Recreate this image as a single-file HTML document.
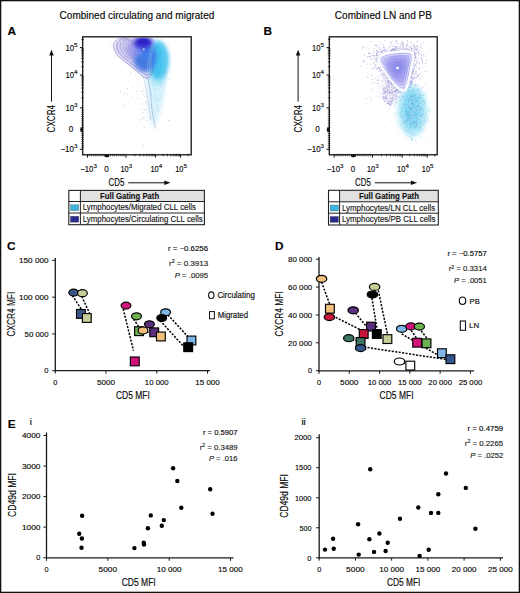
<!DOCTYPE html>
<html><head><meta charset="utf-8"><style>
html,body{margin:0;padding:0;background:#fff;}
svg{display:block;font-family:"Liberation Sans", sans-serif;}
text{stroke:#231f20;stroke-width:0.15px;}
</style></head><body>
<svg width="520" height="593" viewBox="0 0 520 593">
<rect x="0" y="0" width="520" height="593" fill="#fff"/>
<text x="59.60" y="18.80" font-size="10.2" textLength="154.70" lengthAdjust="spacingAndGlyphs">Combined circulating and migrated</text>
<text x="334.80" y="18.60" font-size="10.2" textLength="97.10" lengthAdjust="spacingAndGlyphs">Combined LN and PB</text>
<text x="7.50" y="35.00" font-size="11.8" font-weight="bold" fill="#000">A</text>
<text x="263.60" y="35.00" font-size="11.8" font-weight="bold" fill="#000">B</text>
<text x="6.90" y="250.40" font-size="11.8" font-weight="bold" fill="#000">C</text>
<text x="275.00" y="250.40" font-size="11.8" font-weight="bold" fill="#000">D</text>
<text x="7.70" y="428.20" font-size="11.8" font-weight="bold" fill="#000">E</text>
<text x="29.70" y="425.40" font-size="8.5" textLength="2.20" lengthAdjust="spacingAndGlyphs">i</text>
<text x="301.40" y="425.40" font-size="8.5" textLength="4.40" lengthAdjust="spacingAndGlyphs">ii</text>
<defs>
<clipPath id="clipA"><rect x="83.4" y="37.5" width="107.1" height="116.6"/></clipPath>
<clipPath id="clipB"><rect x="330.0" y="37.5" width="106.5" height="116.6"/></clipPath>
<filter id="b05" x="-50%" y="-50%" width="200%" height="200%"><feGaussianBlur stdDeviation="0.6"/></filter>
<filter id="b1" x="-50%" y="-50%" width="200%" height="200%"><feGaussianBlur stdDeviation="1.2"/></filter>
<filter id="b2" x="-50%" y="-50%" width="200%" height="200%"><feGaussianBlur stdDeviation="2.2"/></filter>
<filter id="b3" x="-50%" y="-50%" width="200%" height="200%"><feGaussianBlur stdDeviation="3.5"/></filter>
<radialGradient id="gTri" cx="0.55" cy="0.42" r="0.6">
 <stop offset="0" stop-color="#8482e8"/><stop offset="0.5" stop-color="#a3a1ef"/><stop offset="1" stop-color="#d2d2f7"/>
</radialGradient>
</defs>
<g clip-path="url(#clipA)">
<circle cx="142.7" cy="109.2" r="0.63" fill="#9a9ab4" opacity="0.28"/>
<circle cx="136.6" cy="96.2" r="0.42" fill="#9a9ab4" opacity="0.43"/>
<circle cx="154.3" cy="104.5" r="0.42" fill="#9a9ab4" opacity="0.28"/>
<circle cx="130.0" cy="115.4" r="0.44" fill="#9a9ab4" opacity="0.33"/>
<circle cx="137.0" cy="91.6" r="0.74" fill="#9a9ab4" opacity="0.27"/>
<circle cx="149.7" cy="88.4" r="0.45" fill="#9a9ab4" opacity="0.29"/>
<circle cx="139.0" cy="130.9" r="0.46" fill="#9a9ab4" opacity="0.45"/>
<circle cx="139.4" cy="86.7" r="0.59" fill="#9a9ab4" opacity="0.27"/>
<circle cx="150.7" cy="104.5" r="0.64" fill="#9a9ab4" opacity="0.40"/>
<circle cx="140.3" cy="122.0" r="0.56" fill="#9a9ab4" opacity="0.35"/>
<circle cx="148.8" cy="73.2" r="0.49" fill="#9a9ab4" opacity="0.45"/>
<circle cx="126.9" cy="94.2" r="0.66" fill="#9a9ab4" opacity="0.35"/>
<circle cx="149.5" cy="98.9" r="0.55" fill="#9a9ab4" opacity="0.51"/>
<circle cx="151.0" cy="117.0" r="0.41" fill="#9a9ab4" opacity="0.48"/>
<circle cx="146.1" cy="76.6" r="0.71" fill="#9a9ab4" opacity="0.36"/>
<circle cx="140.9" cy="77.2" r="0.60" fill="#9a9ab4" opacity="0.41"/>
<circle cx="156.6" cy="63.4" r="0.57" fill="#9a9ab4" opacity="0.48"/>
<circle cx="158.0" cy="110.4" r="0.63" fill="#9a9ab4" opacity="0.60"/>
<circle cx="148.2" cy="86.7" r="0.54" fill="#9a9ab4" opacity="0.48"/>
<circle cx="154.9" cy="102.8" r="0.46" fill="#9a9ab4" opacity="0.29"/>
<circle cx="159.3" cy="111.1" r="0.45" fill="#9a9ab4" opacity="0.34"/>
<circle cx="130.9" cy="123.1" r="0.43" fill="#9a9ab4" opacity="0.41"/>
<circle cx="127.2" cy="88.6" r="0.69" fill="#9a9ab4" opacity="0.55"/>
<circle cx="143.3" cy="118.4" r="0.53" fill="#9a9ab4" opacity="0.56"/>
<circle cx="150.0" cy="97.3" r="0.46" fill="#9a9ab4" opacity="0.33"/>
<circle cx="146.1" cy="120.6" r="0.61" fill="#9a9ab4" opacity="0.34"/>
<circle cx="154.4" cy="100.5" r="0.53" fill="#9a9ab4" opacity="0.45"/>
<circle cx="158.2" cy="92.0" r="0.58" fill="#9a9ab4" opacity="0.47"/>
<circle cx="143.7" cy="94.6" r="0.71" fill="#9a9ab4" opacity="0.52"/>
<circle cx="156.3" cy="77.2" r="0.54" fill="#9a9ab4" opacity="0.39"/>
<circle cx="155.2" cy="115.5" r="0.42" fill="#9a9ab4" opacity="0.27"/>
<circle cx="146.4" cy="110.4" r="0.52" fill="#9a9ab4" opacity="0.27"/>
<circle cx="150.2" cy="100.0" r="0.44" fill="#9a9ab4" opacity="0.38"/>
<circle cx="163.1" cy="105.8" r="0.61" fill="#9a9ab4" opacity="0.30"/>
<circle cx="144.9" cy="116.6" r="0.53" fill="#9a9ab4" opacity="0.29"/>
<circle cx="161.5" cy="53.8" r="0.56" fill="#9a9ab4" opacity="0.42"/>
<circle cx="148.6" cy="104.3" r="0.52" fill="#9a9ab4" opacity="0.34"/>
<circle cx="147.5" cy="90.6" r="0.41" fill="#9a9ab4" opacity="0.58"/>
<circle cx="140.0" cy="98.2" r="0.59" fill="#9a9ab4" opacity="0.26"/>
<circle cx="120.4" cy="91.2" r="0.70" fill="#9a9ab4" opacity="0.49"/>
<circle cx="144.4" cy="117.2" r="0.46" fill="#9a9ab4" opacity="0.52"/>
<circle cx="129.7" cy="93.6" r="0.52" fill="#9a9ab4" opacity="0.33"/>
<circle cx="154.8" cy="51.7" r="0.70" fill="#9a9ab4" opacity="0.53"/>
<circle cx="151.1" cy="73.1" r="0.48" fill="#9a9ab4" opacity="0.43"/>
<circle cx="143.7" cy="103.4" r="0.41" fill="#9a9ab4" opacity="0.35"/>
<circle cx="144.2" cy="127.6" r="0.73" fill="#9a9ab4" opacity="0.41"/>
<circle cx="169.7" cy="79.4" r="0.73" fill="#9a9ab4" opacity="0.38"/>
<circle cx="146.2" cy="112.7" r="0.47" fill="#9a9ab4" opacity="0.32"/>
<circle cx="131.3" cy="72.8" r="0.69" fill="#9a9ab4" opacity="0.42"/>
<circle cx="135.8" cy="73.5" r="0.43" fill="#9a9ab4" opacity="0.48"/>
<circle cx="158.3" cy="83.1" r="0.66" fill="#9a9ab4" opacity="0.42"/>
<circle cx="151.9" cy="128.6" r="0.52" fill="#9a9ab4" opacity="0.53"/>
<circle cx="153.9" cy="96.8" r="0.54" fill="#9a9ab4" opacity="0.58"/>
<circle cx="144.1" cy="89.1" r="0.44" fill="#9a9ab4" opacity="0.30"/>
<circle cx="158.5" cy="81.6" r="0.45" fill="#9a9ab4" opacity="0.54"/>
<circle cx="158.1" cy="96.7" r="0.52" fill="#9a9ab4" opacity="0.44"/>
<circle cx="146.0" cy="102.2" r="0.74" fill="#9a9ab4" opacity="0.48"/>
<circle cx="124.3" cy="93.0" r="0.55" fill="#9a9ab4" opacity="0.56"/>
<circle cx="147.9" cy="89.0" r="0.49" fill="#9a9ab4" opacity="0.35"/>
<circle cx="145.7" cy="123.9" r="0.49" fill="#9a9ab4" opacity="0.40"/>
<circle cx="158.4" cy="129.0" r="0.52" fill="#9a9ab4" opacity="0.41"/>
<circle cx="128.1" cy="80.5" r="0.55" fill="#9a9ab4" opacity="0.57"/>
<circle cx="133.9" cy="99.8" r="0.58" fill="#9a9ab4" opacity="0.26"/>
<circle cx="139.7" cy="104.2" r="0.40" fill="#9a9ab4" opacity="0.53"/>
<circle cx="149.8" cy="118.0" r="0.65" fill="#9a9ab4" opacity="0.44"/>
<circle cx="140.0" cy="119.3" r="0.59" fill="#9a9ab4" opacity="0.52"/>
<circle cx="154.1" cy="114.3" r="0.49" fill="#9a9ab4" opacity="0.35"/>
<circle cx="146.5" cy="78.8" r="0.60" fill="#9a9ab4" opacity="0.52"/>
<circle cx="153.3" cy="89.8" r="0.61" fill="#9a9ab4" opacity="0.43"/>
<circle cx="131.2" cy="97.9" r="0.56" fill="#9a9ab4" opacity="0.44"/>
<circle cx="123.8" cy="105.9" r="0.64" fill="#9a9ab4" opacity="0.56"/>
<circle cx="151.5" cy="95.0" r="0.60" fill="#9a9ab4" opacity="0.58"/>
<circle cx="147.6" cy="91.7" r="0.44" fill="#9a9ab4" opacity="0.40"/>
<circle cx="151.0" cy="105.9" r="0.43" fill="#9a9ab4" opacity="0.48"/>
<circle cx="149.1" cy="62.5" r="0.45" fill="#9a9ab4" opacity="0.50"/>
<circle cx="142.3" cy="91.5" r="0.71" fill="#9a9ab4" opacity="0.59"/>
<circle cx="149.2" cy="143.6" r="0.54" fill="#9a9ab4" opacity="0.42"/>
<circle cx="162.0" cy="97.8" r="0.46" fill="#9a9ab4" opacity="0.40"/>
<circle cx="136.8" cy="98.4" r="0.47" fill="#9a9ab4" opacity="0.36"/>
<circle cx="144.7" cy="96.5" r="0.59" fill="#9a9ab4" opacity="0.40"/>
<circle cx="153.0" cy="101.8" r="0.62" fill="#9a9ab4" opacity="0.43"/>
<circle cx="169.0" cy="120.5" r="0.68" fill="#9a9ab4" opacity="0.59"/>
<circle cx="150.6" cy="108.7" r="0.41" fill="#9a9ab4" opacity="0.52"/>
<circle cx="144.4" cy="109.4" r="0.55" fill="#9a9ab4" opacity="0.57"/>
<circle cx="147.9" cy="87.4" r="0.45" fill="#9a9ab4" opacity="0.57"/>
<circle cx="132.4" cy="88.0" r="0.43" fill="#9a9ab4" opacity="0.27"/>
<circle cx="141.4" cy="82.5" r="0.43" fill="#9a9ab4" opacity="0.58"/>
<circle cx="134.3" cy="75.8" r="0.43" fill="#9a9ab4" opacity="0.55"/>
<circle cx="161.4" cy="114.6" r="0.56" fill="#9a9ab4" opacity="0.37"/>
<circle cx="125.6" cy="86.5" r="0.49" fill="#9a9ab4" opacity="0.30"/>
<circle cx="138.5" cy="97.8" r="0.44" fill="#9a9ab4" opacity="0.31"/>
<circle cx="150.7" cy="103.8" r="0.51" fill="#9a9ab4" opacity="0.36"/>
<circle cx="145.4" cy="85.1" r="0.58" fill="#9a9ab4" opacity="0.31"/>
<circle cx="144.0" cy="102.8" r="0.49" fill="#9a9ab4" opacity="0.26"/>
<circle cx="143.8" cy="77.3" r="0.47" fill="#9a9ab4" opacity="0.42"/>
<circle cx="148.9" cy="96.6" r="0.69" fill="#9a9ab4" opacity="0.40"/>
<circle cx="127.9" cy="101.1" r="0.54" fill="#9a9ab4" opacity="0.43"/>
<circle cx="135.2" cy="52.7" r="0.52" fill="#9a9ab4" opacity="0.54"/>
<circle cx="141.6" cy="75.4" r="0.54" fill="#9a9ab4" opacity="0.37"/>
<circle cx="149.5" cy="103.2" r="0.42" fill="#9a9ab4" opacity="0.51"/>
<circle cx="144.8" cy="110.7" r="0.43" fill="#9a9ab4" opacity="0.54"/>
<circle cx="154.2" cy="80.5" r="0.50" fill="#9a9ab4" opacity="0.33"/>
<circle cx="142.3" cy="119.2" r="0.46" fill="#9a9ab4" opacity="0.41"/>
<circle cx="143.1" cy="145.8" r="0.74" fill="#9a9ab4" opacity="0.44"/>
<circle cx="145.8" cy="146.7" r="0.51" fill="#9a9ab4" opacity="0.37"/>
<circle cx="153.8" cy="100.1" r="0.57" fill="#9a9ab4" opacity="0.43"/>
<circle cx="148.2" cy="120.3" r="0.40" fill="#9a9ab4" opacity="0.34"/>
<circle cx="152.7" cy="109.7" r="0.41" fill="#9a9ab4" opacity="0.26"/>
<circle cx="142.8" cy="112.4" r="0.60" fill="#9a9ab4" opacity="0.44"/>
<circle cx="118.5" cy="53.2" r="0.5" fill="#9a9ab4" opacity="0.41"/>
<circle cx="120.3" cy="47.8" r="0.5" fill="#9a9ab4" opacity="0.30"/>
<circle cx="121.8" cy="43.0" r="0.5" fill="#9a9ab4" opacity="0.42"/>
<circle cx="117.0" cy="40.9" r="0.5" fill="#9a9ab4" opacity="0.45"/>
<circle cx="120.5" cy="52.5" r="0.5" fill="#9a9ab4" opacity="0.42"/>
<circle cx="119.4" cy="42.8" r="0.5" fill="#9a9ab4" opacity="0.36"/>
<circle cx="115.1" cy="56.7" r="0.5" fill="#9a9ab4" opacity="0.44"/>
<circle cx="119.6" cy="51.7" r="0.5" fill="#9a9ab4" opacity="0.47"/>
<circle cx="117.6" cy="53.9" r="0.5" fill="#9a9ab4" opacity="0.27"/>
<circle cx="108.4" cy="42.7" r="0.5" fill="#9a9ab4" opacity="0.31"/>
<circle cx="109.5" cy="56.7" r="0.5" fill="#9a9ab4" opacity="0.37"/>
<circle cx="116.8" cy="52.5" r="0.5" fill="#9a9ab4" opacity="0.40"/>
<circle cx="114.9" cy="40.1" r="0.5" fill="#9a9ab4" opacity="0.44"/>
<circle cx="118.5" cy="50.1" r="0.5" fill="#9a9ab4" opacity="0.36"/>
<circle cx="117.2" cy="41.3" r="0.5" fill="#9a9ab4" opacity="0.42"/>
<circle cx="111.5" cy="41.5" r="0.5" fill="#9a9ab4" opacity="0.28"/>
<circle cx="118.2" cy="44.1" r="0.5" fill="#9a9ab4" opacity="0.42"/>
<circle cx="121.7" cy="49.9" r="0.5" fill="#9a9ab4" opacity="0.31"/>
<circle cx="114.7" cy="53.7" r="0.5" fill="#9a9ab4" opacity="0.43"/>
<circle cx="116.6" cy="52.9" r="0.5" fill="#9a9ab4" opacity="0.22"/>
<circle cx="110.1" cy="45.1" r="0.5" fill="#9a9ab4" opacity="0.42"/>
<circle cx="112.3" cy="51.4" r="0.5" fill="#9a9ab4" opacity="0.20"/>
<circle cx="108.8" cy="45.4" r="0.5" fill="#9a9ab4" opacity="0.40"/>
<circle cx="117.7" cy="53.5" r="0.5" fill="#9a9ab4" opacity="0.29"/>
<circle cx="115.2" cy="49.3" r="0.5" fill="#9a9ab4" opacity="0.34"/>
<path d="M146,70 C150,70 162,72 164,80 C166,92 162,108 157,122 C155,128 151,128 150,120 C148,105 146,90 146,70 Z" fill="#d8f2fb" filter="url(#b2)"/>
<ellipse cx="158" cy="66" rx="9" ry="20" fill="#a6e3f7" filter="url(#b2)"/>
<path d="M125,37 C118,39 113,44 114.6,49 C117,56 128,64 136.5,70.6 C141,74 146,76 148,80 C150,76 153,70 155,62 C157,52 156,42 152,37 Z" fill="#d6d4f6" filter="url(#b1)"/>
<ellipse cx="158" cy="60" rx="10.5" ry="19" fill="#45c3f0" filter="url(#b2)"/>
<ellipse cx="145" cy="57" rx="11.5" ry="14.5" fill="#3f7ee8" filter="url(#b2)"/>
<ellipse cx="134" cy="50" rx="8" ry="8" fill="#9a96ea" opacity="0.7" filter="url(#b2)"/>
<ellipse cx="143" cy="43" rx="10" ry="6" fill="#3a34d0" filter="url(#b2)"/>
<ellipse cx="143" cy="41.5" rx="6" ry="3" fill="#2c22c4" filter="url(#b1)"/>
<circle cx="143.8" cy="49.3" r="1.0" fill="#dfeeff" opacity="0.8" filter="url(#b05)"/>
<path d="M125.5,37.0 C124.2,37.3 120.0,37.8 118.0,39.0 C116.0,40.2 114.0,42.7 113.5,44.5 C113.0,46.3 114.0,48.1 114.8,50.0 C115.5,51.9 115.8,53.7 118.0,56.0 C120.2,58.3 124.8,61.4 128.0,64.0 C131.2,66.6 134.5,69.4 137.0,71.5 C139.5,73.6 141.2,75.4 143.0,76.5 C144.8,77.6 146.1,78.2 147.5,78.0 C148.9,77.8 150.5,76.5 151.5,75.0 C152.5,73.5 153.2,70.0 153.5,69.0" fill="none" stroke="#6a60b2" stroke-width="0.6" opacity="0.85"/>
<path d="M127.6,38.0 C126.5,38.3 122.6,38.7 120.8,39.8 C119.0,40.9 117.3,43.1 116.8,44.8 C116.3,46.4 117.3,48.0 118.0,49.7 C118.6,51.4 118.9,53.0 120.8,55.1 C122.8,57.2 127.0,60.0 129.8,62.3 C132.7,64.6 135.7,67.2 137.9,69.0 C140.2,70.9 141.8,72.6 143.3,73.5 C144.9,74.5 146.1,75.1 147.4,74.9 C148.7,74.7 150.1,73.6 151.0,72.2 C151.9,70.8 152.5,67.7 152.8,66.8" fill="none" stroke="#6a60b2" stroke-width="0.6" opacity="0.78"/>
<path d="M129.7,39.0 C128.7,39.3 125.3,39.6 123.7,40.6 C122.1,41.6 120.5,43.5 120.1,45.0 C119.7,46.5 120.5,47.9 121.1,49.4 C121.7,50.9 121.9,52.3 123.7,54.2 C125.5,56.1 129.2,58.5 131.7,60.6 C134.2,62.7 136.9,64.9 138.9,66.6 C140.9,68.3 142.3,69.7 143.7,70.6 C145.1,71.5 146.2,72.0 147.3,71.8 C148.4,71.6 149.7,70.6 150.5,69.4 C151.3,68.2 151.8,65.4 152.1,64.6" fill="none" stroke="#6a60b2" stroke-width="0.6" opacity="0.71"/>
<path d="M131.6,39.9 C130.7,40.1 127.7,40.4 126.3,41.3 C124.8,42.2 123.4,43.9 123.1,45.2 C122.7,46.5 123.5,47.8 124.0,49.1 C124.5,50.5 124.7,51.7 126.3,53.4 C127.8,55.0 131.1,57.2 133.4,59.1 C135.6,60.9 138.0,62.9 139.8,64.4 C141.5,65.9 142.8,67.2 144.0,67.9 C145.3,68.7 146.2,69.2 147.2,69.0 C148.2,68.8 149.3,67.9 150.1,66.9 C150.8,65.8 151.2,63.3 151.5,62.6" fill="none" stroke="#6a60b2" stroke-width="0.6" opacity="0.64"/>
<path d="M133.3,40.7 C132.5,40.9 129.8,41.2 128.5,42.0 C127.3,42.7 126.0,44.3 125.7,45.4 C125.4,46.6 126.1,47.7 126.5,48.9 C127.0,50.1 127.2,51.2 128.5,52.7 C129.9,54.1 132.8,56.1 134.8,57.7 C136.8,59.3 138.9,61.1 140.5,62.4 C142.1,63.7 143.2,64.9 144.3,65.6 C145.4,66.3 146.2,66.7 147.1,66.5 C148.0,66.4 149.0,65.6 149.7,64.6 C150.3,63.7 150.7,61.5 150.9,60.9" fill="none" stroke="#6a60b2" stroke-width="0.6" opacity="0.57"/>
<path d="M134.9,41.5 C134.3,41.7 131.9,41.9 130.8,42.6 C129.7,43.3 128.6,44.6 128.3,45.6 C128.1,46.6 128.7,47.6 129.1,48.6 C129.5,49.7 129.6,50.7 130.8,52.0 C132.0,53.2 134.6,54.9 136.3,56.4 C138.1,57.8 139.9,59.3 141.3,60.5 C142.7,61.6 143.6,62.6 144.6,63.2 C145.5,63.8 146.3,64.2 147.1,64.0 C147.8,63.9 148.7,63.2 149.2,62.4 C149.8,61.6 150.2,59.7 150.3,59.1" fill="none" stroke="#6a60b2" stroke-width="0.6" opacity="0.50"/>
<path d="M136.6,42.3 C136.0,42.5 134.0,42.7 133.1,43.2 C132.2,43.8 131.2,45.0 131.0,45.8 C130.7,46.7 131.2,47.5 131.6,48.4 C132.0,49.3 132.1,50.1 133.1,51.2 C134.1,52.3 136.3,53.8 137.8,55.0 C139.3,56.2 140.9,57.5 142.0,58.5 C143.2,59.5 144.0,60.4 144.9,60.9 C145.7,61.4 146.3,61.7 147.0,61.6 C147.6,61.5 148.4,60.9 148.8,60.2 C149.3,59.5 149.6,57.8 149.8,57.3" fill="none" stroke="#6a60b2" stroke-width="0.6" opacity="0.43"/>
<path d="M147.5,78 C150,84 150.5,92 151,100 C151.5,110 153.5,120 155.5,128" fill="none" stroke="#7a74b8" stroke-width="0.55" opacity="0.7"/>
<path d="M143,76.5 C145,82 146.5,90 147.5,98 C148.5,106 150,114 151,120" fill="none" stroke="#8a86c0" stroke-width="0.5" opacity="0.55"/>
<path d="M151.5,75 C154,82 155,90 156,98 C157,104 158,108 158.5,112" fill="none" stroke="#9fd8ee" stroke-width="0.5" opacity="0.7"/>
<ellipse cx="157" cy="70" rx="9.5" ry="30" fill="none" stroke="#8fd8f0" stroke-width="0.5" opacity="0.7"/>
<ellipse cx="157" cy="66" rx="7.5" ry="24" fill="none" stroke="#8fd8f0" stroke-width="0.5" opacity="0.7"/>
<ellipse cx="157" cy="62" rx="6" ry="18" fill="none" stroke="#8fd8f0" stroke-width="0.5" opacity="0.7"/>
</g>
<g clip-path="url(#clipB)">
<path d="M373.6,55.5 L394.4,48.4 L415.2,48.4 L412.6,72.5 L408.1,99.1 L394.4,90.7 Z" fill="#eeedfa" filter="url(#b3)"/>
<ellipse cx="389" cy="92" rx="8" ry="13" fill="#efeefa" transform="rotate(-25 389 92)" filter="url(#b3)"/>
<rect x="409.5" y="69.7" width="0.85" height="0.85" fill="#6e64bc" opacity="0.49"/>
<rect x="390.2" y="79.7" width="0.85" height="0.85" fill="#6e64bc" opacity="0.60"/>
<rect x="402.0" y="90.3" width="0.85" height="0.85" fill="#6e64bc" opacity="0.28"/>
<rect x="387.8" y="89.1" width="0.85" height="0.85" fill="#6e64bc" opacity="0.61"/>
<rect x="408.8" y="76.4" width="0.85" height="0.85" fill="#6e64bc" opacity="0.69"/>
<rect x="413.6" y="95.2" width="0.85" height="0.85" fill="#6e64bc" opacity="0.27"/>
<rect x="376.3" y="44.7" width="0.85" height="0.85" fill="#6e64bc" opacity="0.50"/>
<rect x="376.3" y="57.7" width="0.85" height="0.85" fill="#6e64bc" opacity="0.65"/>
<rect x="412.5" y="79.5" width="0.85" height="0.85" fill="#6e64bc" opacity="0.30"/>
<rect x="384.5" y="76.3" width="0.85" height="0.85" fill="#6e64bc" opacity="0.38"/>
<rect x="411.9" y="56.0" width="0.85" height="0.85" fill="#6e64bc" opacity="0.63"/>
<rect x="414.7" y="53.2" width="0.85" height="0.85" fill="#6e64bc" opacity="0.43"/>
<rect x="389.2" y="76.7" width="0.85" height="0.85" fill="#6e64bc" opacity="0.54"/>
<rect x="395.0" y="85.8" width="0.85" height="0.85" fill="#6e64bc" opacity="0.64"/>
<rect x="410.5" y="71.8" width="0.85" height="0.85" fill="#6e64bc" opacity="0.58"/>
<rect x="380.4" y="61.6" width="0.85" height="0.85" fill="#6e64bc" opacity="0.65"/>
<rect x="411.7" y="91.5" width="0.85" height="0.85" fill="#6e64bc" opacity="0.63"/>
<rect x="366.9" y="56.7" width="0.85" height="0.85" fill="#6e64bc" opacity="0.40"/>
<rect x="382.8" y="50.2" width="0.85" height="0.85" fill="#6e64bc" opacity="0.27"/>
<rect x="406.0" y="93.0" width="0.85" height="0.85" fill="#6e64bc" opacity="0.52"/>
<rect x="373.6" y="48.1" width="0.85" height="0.85" fill="#6e64bc" opacity="0.63"/>
<rect x="416.2" y="84.5" width="0.85" height="0.85" fill="#6e64bc" opacity="0.44"/>
<rect x="414.1" y="52.3" width="0.85" height="0.85" fill="#6e64bc" opacity="0.34"/>
<rect x="410.3" y="110.4" width="0.85" height="0.85" fill="#6e64bc" opacity="0.47"/>
<rect x="392.4" y="97.4" width="0.85" height="0.85" fill="#6e64bc" opacity="0.47"/>
<rect x="403.7" y="93.4" width="0.85" height="0.85" fill="#6e64bc" opacity="0.45"/>
<rect x="411.0" y="81.7" width="0.85" height="0.85" fill="#6e64bc" opacity="0.46"/>
<rect x="373.6" y="68.0" width="0.85" height="0.85" fill="#6e64bc" opacity="0.43"/>
<rect x="412.9" y="68.2" width="0.85" height="0.85" fill="#6e64bc" opacity="0.31"/>
<rect x="391.0" y="80.5" width="0.85" height="0.85" fill="#6e64bc" opacity="0.68"/>
<rect x="388.1" y="53.4" width="0.85" height="0.85" fill="#6e64bc" opacity="0.57"/>
<rect x="378.6" y="57.6" width="0.85" height="0.85" fill="#6e64bc" opacity="0.47"/>
<rect x="401.8" y="41.1" width="0.85" height="0.85" fill="#6e64bc" opacity="0.68"/>
<rect x="411.2" y="64.9" width="0.85" height="0.85" fill="#6e64bc" opacity="0.66"/>
<rect x="395.6" y="102.1" width="0.85" height="0.85" fill="#6e64bc" opacity="0.63"/>
<rect x="394.7" y="95.5" width="0.85" height="0.85" fill="#6e64bc" opacity="0.45"/>
<rect x="412.3" y="63.8" width="0.85" height="0.85" fill="#6e64bc" opacity="0.38"/>
<rect x="418.4" y="79.3" width="0.85" height="0.85" fill="#6e64bc" opacity="0.39"/>
<rect x="410.3" y="47.3" width="0.85" height="0.85" fill="#6e64bc" opacity="0.27"/>
<rect x="420.6" y="72.1" width="0.85" height="0.85" fill="#6e64bc" opacity="0.42"/>
<rect x="370.0" y="41.1" width="0.85" height="0.85" fill="#6e64bc" opacity="0.56"/>
<rect x="417.4" y="49.3" width="0.85" height="0.85" fill="#6e64bc" opacity="0.57"/>
<rect x="407.3" y="40.8" width="0.85" height="0.85" fill="#6e64bc" opacity="0.54"/>
<rect x="416.8" y="75.0" width="0.85" height="0.85" fill="#6e64bc" opacity="0.42"/>
<rect x="412.2" y="73.1" width="0.85" height="0.85" fill="#6e64bc" opacity="0.61"/>
<rect x="391.5" y="82.4" width="0.85" height="0.85" fill="#6e64bc" opacity="0.34"/>
<rect x="394.1" y="50.7" width="0.85" height="0.85" fill="#6e64bc" opacity="0.70"/>
<rect x="382.8" y="77.4" width="0.85" height="0.85" fill="#6e64bc" opacity="0.27"/>
<rect x="369.4" y="56.0" width="0.85" height="0.85" fill="#6e64bc" opacity="0.57"/>
<rect x="382.5" y="50.1" width="0.85" height="0.85" fill="#6e64bc" opacity="0.62"/>
<rect x="397.7" y="49.9" width="0.85" height="0.85" fill="#6e64bc" opacity="0.60"/>
<rect x="391.5" y="102.8" width="0.85" height="0.85" fill="#6e64bc" opacity="0.33"/>
<rect x="414.9" y="66.4" width="0.85" height="0.85" fill="#6e64bc" opacity="0.42"/>
<rect x="389.4" y="77.1" width="0.85" height="0.85" fill="#6e64bc" opacity="0.57"/>
<rect x="394.5" y="90.6" width="0.85" height="0.85" fill="#6e64bc" opacity="0.64"/>
<rect x="384.1" y="78.2" width="0.85" height="0.85" fill="#6e64bc" opacity="0.44"/>
<rect x="390.8" y="78.4" width="0.85" height="0.85" fill="#6e64bc" opacity="0.31"/>
<rect x="379.0" y="57.5" width="0.85" height="0.85" fill="#6e64bc" opacity="0.50"/>
<rect x="385.3" y="82.2" width="0.85" height="0.85" fill="#6e64bc" opacity="0.41"/>
<rect x="389.0" y="92.9" width="0.85" height="0.85" fill="#6e64bc" opacity="0.35"/>
<rect x="414.5" y="76.9" width="0.85" height="0.85" fill="#6e64bc" opacity="0.65"/>
<rect x="413.2" y="44.5" width="0.85" height="0.85" fill="#6e64bc" opacity="0.60"/>
<rect x="392.0" y="97.1" width="0.85" height="0.85" fill="#6e64bc" opacity="0.33"/>
<rect x="407.0" y="42.9" width="0.85" height="0.85" fill="#6e64bc" opacity="0.32"/>
<rect x="384.0" y="52.1" width="0.85" height="0.85" fill="#6e64bc" opacity="0.25"/>
<rect x="372.5" y="79.1" width="0.85" height="0.85" fill="#6e64bc" opacity="0.66"/>
<rect x="376.2" y="50.0" width="0.85" height="0.85" fill="#6e64bc" opacity="0.60"/>
<rect x="414.9" y="57.2" width="0.85" height="0.85" fill="#6e64bc" opacity="0.51"/>
<rect x="393.0" y="51.3" width="0.85" height="0.85" fill="#6e64bc" opacity="0.51"/>
<rect x="400.9" y="98.4" width="0.85" height="0.85" fill="#6e64bc" opacity="0.55"/>
<rect x="416.9" y="58.3" width="0.85" height="0.85" fill="#6e64bc" opacity="0.49"/>
<rect x="393.9" y="82.4" width="0.85" height="0.85" fill="#6e64bc" opacity="0.43"/>
<rect x="398.4" y="48.2" width="0.85" height="0.85" fill="#6e64bc" opacity="0.30"/>
<rect x="378.2" y="58.5" width="0.85" height="0.85" fill="#6e64bc" opacity="0.32"/>
<rect x="392.6" y="83.0" width="0.85" height="0.85" fill="#6e64bc" opacity="0.46"/>
<rect x="420.8" y="51.7" width="0.85" height="0.85" fill="#6e64bc" opacity="0.60"/>
<rect x="371.7" y="59.1" width="0.85" height="0.85" fill="#6e64bc" opacity="0.27"/>
<rect x="375.9" y="54.3" width="0.85" height="0.85" fill="#6e64bc" opacity="0.63"/>
<rect x="394.8" y="98.6" width="0.85" height="0.85" fill="#6e64bc" opacity="0.33"/>
<rect x="414.0" y="48.9" width="0.85" height="0.85" fill="#6e64bc" opacity="0.36"/>
<rect x="414.0" y="47.3" width="0.85" height="0.85" fill="#6e64bc" opacity="0.59"/>
<rect x="378.1" y="58.9" width="0.85" height="0.85" fill="#6e64bc" opacity="0.36"/>
<rect x="377.0" y="54.5" width="0.85" height="0.85" fill="#6e64bc" opacity="0.49"/>
<rect x="412.0" y="61.5" width="0.85" height="0.85" fill="#6e64bc" opacity="0.50"/>
<rect x="391.7" y="50.7" width="0.85" height="0.85" fill="#6e64bc" opacity="0.65"/>
<rect x="384.2" y="54.2" width="0.85" height="0.85" fill="#6e64bc" opacity="0.34"/>
<rect x="397.6" y="89.6" width="0.85" height="0.85" fill="#6e64bc" opacity="0.59"/>
<rect x="370.1" y="59.0" width="0.85" height="0.85" fill="#6e64bc" opacity="0.43"/>
<rect x="404.8" y="50.9" width="0.85" height="0.85" fill="#6e64bc" opacity="0.31"/>
<rect x="415.3" y="56.7" width="0.85" height="0.85" fill="#6e64bc" opacity="0.46"/>
<rect x="405.2" y="91.1" width="0.85" height="0.85" fill="#6e64bc" opacity="0.60"/>
<rect x="414.5" y="69.2" width="0.85" height="0.85" fill="#6e64bc" opacity="0.54"/>
<rect x="415.2" y="97.1" width="0.85" height="0.85" fill="#6e64bc" opacity="0.47"/>
<rect x="382.1" y="55.4" width="0.85" height="0.85" fill="#6e64bc" opacity="0.63"/>
<rect x="414.3" y="53.3" width="0.85" height="0.85" fill="#6e64bc" opacity="0.68"/>
<rect x="390.0" y="98.3" width="0.85" height="0.85" fill="#6e64bc" opacity="0.41"/>
<rect x="408.1" y="94.0" width="0.85" height="0.85" fill="#6e64bc" opacity="0.40"/>
<rect x="410.3" y="61.0" width="0.85" height="0.85" fill="#6e64bc" opacity="0.44"/>
<rect x="414.4" y="59.7" width="0.85" height="0.85" fill="#6e64bc" opacity="0.35"/>
<rect x="396.6" y="98.1" width="0.85" height="0.85" fill="#6e64bc" opacity="0.62"/>
<rect x="393.8" y="82.4" width="0.85" height="0.85" fill="#6e64bc" opacity="0.64"/>
<rect x="405.1" y="91.0" width="0.85" height="0.85" fill="#6e64bc" opacity="0.40"/>
<rect x="364.1" y="54.8" width="0.85" height="0.85" fill="#6e64bc" opacity="0.64"/>
<rect x="407.7" y="85.4" width="0.85" height="0.85" fill="#6e64bc" opacity="0.41"/>
<rect x="390.0" y="47.4" width="0.85" height="0.85" fill="#6e64bc" opacity="0.32"/>
<rect x="414.2" y="49.2" width="0.85" height="0.85" fill="#6e64bc" opacity="0.50"/>
<rect x="411.9" y="73.4" width="0.85" height="0.85" fill="#6e64bc" opacity="0.65"/>
<rect x="404.4" y="91.4" width="0.85" height="0.85" fill="#6e64bc" opacity="0.54"/>
<rect x="413.0" y="42.7" width="0.85" height="0.85" fill="#6e64bc" opacity="0.36"/>
<rect x="377.4" y="51.0" width="0.85" height="0.85" fill="#6e64bc" opacity="0.59"/>
<rect x="418.7" y="106.0" width="0.85" height="0.85" fill="#6e64bc" opacity="0.63"/>
<rect x="412.8" y="45.6" width="0.85" height="0.85" fill="#6e64bc" opacity="0.50"/>
<rect x="379.2" y="68.6" width="0.85" height="0.85" fill="#6e64bc" opacity="0.59"/>
<rect x="388.4" y="103.2" width="0.85" height="0.85" fill="#6e64bc" opacity="0.67"/>
<rect x="389.2" y="90.9" width="0.85" height="0.85" fill="#6e64bc" opacity="0.39"/>
<rect x="378.1" y="58.0" width="0.85" height="0.85" fill="#6e64bc" opacity="0.26"/>
<rect x="383.9" y="50.2" width="0.85" height="0.85" fill="#6e64bc" opacity="0.47"/>
<rect x="374.7" y="44.7" width="0.85" height="0.85" fill="#6e64bc" opacity="0.63"/>
<rect x="415.2" y="56.9" width="0.85" height="0.85" fill="#6e64bc" opacity="0.45"/>
<rect x="390.4" y="92.7" width="0.85" height="0.85" fill="#6e64bc" opacity="0.45"/>
<rect x="382.6" y="88.1" width="0.85" height="0.85" fill="#6e64bc" opacity="0.42"/>
<rect x="370.7" y="99.6" width="0.85" height="0.85" fill="#6e64bc" opacity="0.52"/>
<rect x="407.0" y="49.9" width="0.85" height="0.85" fill="#6e64bc" opacity="0.30"/>
<rect x="420.4" y="47.5" width="0.85" height="0.85" fill="#6e64bc" opacity="0.38"/>
<rect x="404.4" y="97.6" width="0.85" height="0.85" fill="#6e64bc" opacity="0.46"/>
<rect x="386.8" y="70.3" width="0.85" height="0.85" fill="#6e64bc" opacity="0.51"/>
<rect x="371.6" y="74.7" width="0.85" height="0.85" fill="#6e64bc" opacity="0.55"/>
<rect x="387.5" y="74.5" width="0.85" height="0.85" fill="#6e64bc" opacity="0.27"/>
<rect x="401.2" y="90.2" width="0.85" height="0.85" fill="#6e64bc" opacity="0.61"/>
<rect x="397.3" y="50.0" width="0.85" height="0.85" fill="#6e64bc" opacity="0.51"/>
<rect x="412.4" y="62.3" width="0.85" height="0.85" fill="#6e64bc" opacity="0.57"/>
<rect x="411.2" y="47.6" width="0.85" height="0.85" fill="#6e64bc" opacity="0.42"/>
<rect x="408.4" y="49.3" width="0.85" height="0.85" fill="#6e64bc" opacity="0.68"/>
<rect x="384.1" y="67.0" width="0.85" height="0.85" fill="#6e64bc" opacity="0.42"/>
<rect x="366.6" y="63.6" width="0.85" height="0.85" fill="#6e64bc" opacity="0.61"/>
<rect x="412.1" y="65.7" width="0.85" height="0.85" fill="#6e64bc" opacity="0.59"/>
<rect x="421.0" y="54.9" width="0.85" height="0.85" fill="#6e64bc" opacity="0.48"/>
<rect x="388.0" y="83.4" width="0.85" height="0.85" fill="#6e64bc" opacity="0.37"/>
<rect x="407.3" y="93.9" width="0.85" height="0.85" fill="#6e64bc" opacity="0.37"/>
<rect x="407.0" y="91.2" width="0.85" height="0.85" fill="#6e64bc" opacity="0.63"/>
<rect x="389.2" y="46.2" width="0.85" height="0.85" fill="#6e64bc" opacity="0.61"/>
<rect x="410.6" y="57.6" width="0.85" height="0.85" fill="#6e64bc" opacity="0.32"/>
<rect x="370.7" y="55.7" width="0.85" height="0.85" fill="#6e64bc" opacity="0.34"/>
<rect x="399.1" y="50.4" width="0.85" height="0.85" fill="#6e64bc" opacity="0.28"/>
<rect x="386.5" y="71.1" width="0.85" height="0.85" fill="#6e64bc" opacity="0.50"/>
<rect x="386.6" y="53.1" width="0.85" height="0.85" fill="#6e64bc" opacity="0.65"/>
<rect x="369.7" y="56.4" width="0.85" height="0.85" fill="#6e64bc" opacity="0.37"/>
<rect x="408.2" y="86.7" width="0.85" height="0.85" fill="#6e64bc" opacity="0.47"/>
<rect x="405.0" y="93.6" width="0.85" height="0.85" fill="#6e64bc" opacity="0.46"/>
<rect x="386.7" y="52.1" width="0.85" height="0.85" fill="#6e64bc" opacity="0.46"/>
<rect x="393.2" y="81.4" width="0.85" height="0.85" fill="#6e64bc" opacity="0.44"/>
<rect x="395.9" y="41.1" width="0.85" height="0.85" fill="#6e64bc" opacity="0.44"/>
<rect x="414.4" y="57.4" width="0.85" height="0.85" fill="#6e64bc" opacity="0.46"/>
<rect x="413.8" y="74.1" width="0.85" height="0.85" fill="#6e64bc" opacity="0.47"/>
<rect x="407.2" y="97.7" width="0.85" height="0.85" fill="#6e64bc" opacity="0.39"/>
<rect x="424.6" y="71.5" width="0.85" height="0.85" fill="#6e64bc" opacity="0.29"/>
<rect x="387.6" y="87.8" width="0.85" height="0.85" fill="#6e64bc" opacity="0.49"/>
<rect x="411.5" y="77.3" width="0.85" height="0.85" fill="#6e64bc" opacity="0.67"/>
<rect x="408.6" y="75.1" width="0.85" height="0.85" fill="#6e64bc" opacity="0.37"/>
<rect x="411.0" y="67.0" width="0.85" height="0.85" fill="#6e64bc" opacity="0.66"/>
<rect x="393.7" y="48.8" width="0.85" height="0.85" fill="#6e64bc" opacity="0.39"/>
<rect x="384.7" y="92.8" width="0.85" height="0.85" fill="#6e64bc" opacity="0.35"/>
<rect x="400.7" y="49.7" width="0.85" height="0.85" fill="#6e64bc" opacity="0.56"/>
<rect x="411.5" y="81.1" width="0.85" height="0.85" fill="#6e64bc" opacity="0.45"/>
<rect x="419.3" y="64.4" width="0.85" height="0.85" fill="#6e64bc" opacity="0.40"/>
<rect x="411.9" y="72.8" width="0.85" height="0.85" fill="#6e64bc" opacity="0.68"/>
<rect x="386.8" y="77.8" width="0.85" height="0.85" fill="#6e64bc" opacity="0.66"/>
<rect x="383.3" y="98.5" width="0.85" height="0.85" fill="#6e64bc" opacity="0.37"/>
<rect x="387.2" y="76.7" width="0.85" height="0.85" fill="#6e64bc" opacity="0.35"/>
<rect x="391.4" y="78.7" width="0.85" height="0.85" fill="#6e64bc" opacity="0.48"/>
<rect x="397.8" y="86.7" width="0.85" height="0.85" fill="#6e64bc" opacity="0.47"/>
<rect x="367.5" y="56.1" width="0.85" height="0.85" fill="#6e64bc" opacity="0.40"/>
<rect x="390.4" y="81.4" width="0.85" height="0.85" fill="#6e64bc" opacity="0.50"/>
<rect x="378.4" y="47.9" width="0.85" height="0.85" fill="#6e64bc" opacity="0.45"/>
<rect x="410.3" y="59.9" width="0.85" height="0.85" fill="#6e64bc" opacity="0.48"/>
<rect x="385.8" y="70.6" width="0.85" height="0.85" fill="#6e64bc" opacity="0.56"/>
<rect x="380.0" y="59.3" width="0.85" height="0.85" fill="#6e64bc" opacity="0.26"/>
<rect x="373.4" y="64.2" width="0.85" height="0.85" fill="#6e64bc" opacity="0.29"/>
<rect x="381.7" y="51.2" width="0.85" height="0.85" fill="#6e64bc" opacity="0.39"/>
<rect x="418.1" y="51.7" width="0.85" height="0.85" fill="#6e64bc" opacity="0.59"/>
<rect x="387.0" y="72.4" width="0.85" height="0.85" fill="#6e64bc" opacity="0.40"/>
<rect x="376.9" y="58.6" width="0.85" height="0.85" fill="#6e64bc" opacity="0.48"/>
<rect x="410.7" y="51.3" width="0.85" height="0.85" fill="#6e64bc" opacity="0.70"/>
<rect x="384.1" y="47.7" width="0.85" height="0.85" fill="#6e64bc" opacity="0.48"/>
<rect x="395.2" y="43.1" width="0.85" height="0.85" fill="#6e64bc" opacity="0.55"/>
<rect x="410.8" y="62.7" width="0.85" height="0.85" fill="#6e64bc" opacity="0.60"/>
<rect x="380.5" y="64.7" width="0.85" height="0.85" fill="#6e64bc" opacity="0.41"/>
<rect x="408.2" y="81.6" width="0.85" height="0.85" fill="#6e64bc" opacity="0.58"/>
<rect x="381.8" y="63.1" width="0.85" height="0.85" fill="#6e64bc" opacity="0.44"/>
<rect x="378.0" y="55.3" width="0.85" height="0.85" fill="#6e64bc" opacity="0.42"/>
<rect x="392.9" y="87.9" width="0.85" height="0.85" fill="#6e64bc" opacity="0.53"/>
<rect x="411.2" y="52.1" width="0.85" height="0.85" fill="#6e64bc" opacity="0.62"/>
<rect x="410.0" y="81.2" width="0.85" height="0.85" fill="#6e64bc" opacity="0.44"/>
<rect x="385.8" y="70.7" width="0.85" height="0.85" fill="#6e64bc" opacity="0.69"/>
<rect x="411.6" y="51.2" width="0.85" height="0.85" fill="#6e64bc" opacity="0.45"/>
<rect x="379.2" y="60.2" width="0.85" height="0.85" fill="#6e64bc" opacity="0.61"/>
<rect x="403.2" y="48.2" width="0.85" height="0.85" fill="#6e64bc" opacity="0.32"/>
<rect x="402.4" y="89.1" width="0.85" height="0.85" fill="#6e64bc" opacity="0.37"/>
<rect x="419.0" y="73.7" width="0.85" height="0.85" fill="#6e64bc" opacity="0.62"/>
<rect x="386.6" y="97.6" width="0.85" height="0.85" fill="#6e64bc" opacity="0.40"/>
<rect x="397.8" y="48.5" width="0.85" height="0.85" fill="#6e64bc" opacity="0.29"/>
<rect x="421.4" y="43.7" width="0.85" height="0.85" fill="#6e64bc" opacity="0.36"/>
<rect x="410.8" y="51.3" width="0.85" height="0.85" fill="#6e64bc" opacity="0.66"/>
<rect x="409.3" y="68.7" width="0.85" height="0.85" fill="#6e64bc" opacity="0.38"/>
<rect x="414.5" y="45.4" width="0.85" height="0.85" fill="#6e64bc" opacity="0.41"/>
<rect x="381.7" y="62.0" width="0.85" height="0.85" fill="#6e64bc" opacity="0.68"/>
<rect x="407.1" y="49.5" width="0.85" height="0.85" fill="#6e64bc" opacity="0.61"/>
<rect x="391.4" y="51.7" width="0.85" height="0.85" fill="#6e64bc" opacity="0.57"/>
<rect x="387.9" y="53.4" width="0.85" height="0.85" fill="#6e64bc" opacity="0.50"/>
<rect x="421.4" y="88.2" width="0.85" height="0.85" fill="#6e64bc" opacity="0.28"/>
<rect x="394.7" y="85.5" width="0.85" height="0.85" fill="#6e64bc" opacity="0.64"/>
<rect x="377.4" y="96.1" width="0.85" height="0.85" fill="#6e64bc" opacity="0.36"/>
<rect x="420.8" y="78.3" width="0.85" height="0.85" fill="#6e64bc" opacity="0.40"/>
<rect x="419.6" y="98.7" width="0.85" height="0.85" fill="#6e64bc" opacity="0.44"/>
<rect x="410.6" y="64.2" width="0.85" height="0.85" fill="#6e64bc" opacity="0.58"/>
<rect x="386.9" y="80.8" width="0.85" height="0.85" fill="#6e64bc" opacity="0.29"/>
<rect x="380.5" y="48.9" width="0.85" height="0.85" fill="#6e64bc" opacity="0.57"/>
<rect x="408.3" y="84.3" width="0.85" height="0.85" fill="#6e64bc" opacity="0.57"/>
<rect x="403.4" y="49.4" width="0.85" height="0.85" fill="#6e64bc" opacity="0.47"/>
<rect x="376.0" y="50.6" width="0.85" height="0.85" fill="#6e64bc" opacity="0.41"/>
<rect x="385.6" y="49.6" width="0.85" height="0.85" fill="#6e64bc" opacity="0.50"/>
<rect x="385.6" y="72.4" width="0.85" height="0.85" fill="#6e64bc" opacity="0.58"/>
<rect x="411.9" y="53.4" width="0.85" height="0.85" fill="#6e64bc" opacity="0.69"/>
<rect x="399.5" y="48.5" width="0.85" height="0.85" fill="#6e64bc" opacity="0.31"/>
<rect x="416.6" y="40.7" width="0.85" height="0.85" fill="#6e64bc" opacity="0.69"/>
<rect x="410.9" y="77.2" width="0.85" height="0.85" fill="#6e64bc" opacity="0.35"/>
<rect x="403.1" y="45.7" width="0.85" height="0.85" fill="#6e64bc" opacity="0.36"/>
<rect x="391.2" y="91.3" width="0.85" height="0.85" fill="#6e64bc" opacity="0.48"/>
<rect x="390.9" y="77.3" width="0.85" height="0.85" fill="#6e64bc" opacity="0.46"/>
<rect x="421.8" y="75.1" width="0.85" height="0.85" fill="#6e64bc" opacity="0.41"/>
<rect x="399.4" y="87.0" width="0.85" height="0.85" fill="#6e64bc" opacity="0.27"/>
<rect x="402.6" y="98.1" width="0.85" height="0.85" fill="#6e64bc" opacity="0.46"/>
<rect x="413.5" y="64.6" width="0.85" height="0.85" fill="#6e64bc" opacity="0.64"/>
<rect x="385.3" y="79.8" width="0.85" height="0.85" fill="#6e64bc" opacity="0.41"/>
<rect x="403.2" y="45.3" width="0.85" height="0.85" fill="#6e64bc" opacity="0.65"/>
<rect x="401.5" y="88.2" width="0.85" height="0.85" fill="#6e64bc" opacity="0.40"/>
<rect x="391.6" y="50.2" width="0.85" height="0.85" fill="#6e64bc" opacity="0.48"/>
<rect x="412.7" y="71.1" width="0.85" height="0.85" fill="#6e64bc" opacity="0.67"/>
<rect x="402.9" y="50.5" width="0.85" height="0.85" fill="#6e64bc" opacity="0.44"/>
<rect x="409.9" y="71.3" width="0.85" height="0.85" fill="#6e64bc" opacity="0.43"/>
<rect x="376.2" y="53.2" width="0.85" height="0.85" fill="#6e64bc" opacity="0.56"/>
<rect x="400.1" y="87.3" width="0.85" height="0.85" fill="#6e64bc" opacity="0.29"/>
<rect x="394.5" y="98.9" width="0.85" height="0.85" fill="#6e64bc" opacity="0.33"/>
<rect x="397.3" y="41.2" width="0.85" height="0.85" fill="#6e64bc" opacity="0.32"/>
<rect x="383.3" y="47.0" width="0.85" height="0.85" fill="#6e64bc" opacity="0.49"/>
<rect x="416.2" y="77.2" width="0.85" height="0.85" fill="#6e64bc" opacity="0.37"/>
<rect x="394.3" y="86.6" width="0.85" height="0.85" fill="#6e64bc" opacity="0.50"/>
<rect x="423.0" y="54.5" width="0.85" height="0.85" fill="#6e64bc" opacity="0.59"/>
<rect x="407.6" y="82.1" width="0.85" height="0.85" fill="#6e64bc" opacity="0.39"/>
<rect x="377.7" y="79.9" width="0.85" height="0.85" fill="#6e64bc" opacity="0.67"/>
<rect x="395.9" y="89.0" width="0.85" height="0.85" fill="#6e64bc" opacity="0.25"/>
<rect x="408.8" y="80.5" width="0.85" height="0.85" fill="#6e64bc" opacity="0.36"/>
<rect x="391.4" y="41.0" width="0.85" height="0.85" fill="#6e64bc" opacity="0.45"/>
<rect x="376.5" y="76.2" width="0.85" height="0.85" fill="#6e64bc" opacity="0.36"/>
<rect x="391.2" y="89.1" width="0.85" height="0.85" fill="#6e64bc" opacity="0.31"/>
<rect x="414.1" y="45.9" width="0.85" height="0.85" fill="#6e64bc" opacity="0.68"/>
<rect x="404.9" y="48.6" width="0.85" height="0.85" fill="#6e64bc" opacity="0.39"/>
<rect x="371.6" y="66.6" width="0.85" height="0.85" fill="#6e64bc" opacity="0.34"/>
<rect x="385.2" y="98.0" width="0.85" height="0.85" fill="#6e64bc" opacity="0.60"/>
<rect x="393.5" y="95.0" width="0.85" height="0.85" fill="#6e64bc" opacity="0.38"/>
<rect x="382.1" y="68.4" width="0.85" height="0.85" fill="#6e64bc" opacity="0.39"/>
<rect x="407.9" y="88.0" width="0.85" height="0.85" fill="#6e64bc" opacity="0.47"/>
<rect x="385.0" y="80.6" width="0.85" height="0.85" fill="#6e64bc" opacity="0.44"/>
<rect x="385.2" y="91.2" width="0.85" height="0.85" fill="#6e64bc" opacity="0.53"/>
<rect x="383.2" y="93.1" width="0.85" height="0.85" fill="#6e64bc" opacity="0.64"/>
<rect x="389.6" y="101.6" width="0.85" height="0.85" fill="#6e64bc" opacity="0.60"/>
<rect x="402.8" y="95.9" width="0.85" height="0.85" fill="#6e64bc" opacity="0.29"/>
<rect x="387.6" y="73.7" width="0.85" height="0.85" fill="#6e64bc" opacity="0.28"/>
<rect x="408.5" y="81.4" width="0.85" height="0.85" fill="#6e64bc" opacity="0.38"/>
<rect x="409.2" y="82.9" width="0.85" height="0.85" fill="#6e64bc" opacity="0.29"/>
<rect x="409.0" y="72.5" width="0.85" height="0.85" fill="#6e64bc" opacity="0.50"/>
<rect x="375.0" y="77.8" width="0.85" height="0.85" fill="#6e64bc" opacity="0.27"/>
<rect x="385.9" y="87.0" width="0.85" height="0.85" fill="#6e64bc" opacity="0.69"/>
<rect x="409.5" y="84.8" width="0.85" height="0.85" fill="#6e64bc" opacity="0.55"/>
<rect x="387.8" y="86.3" width="0.85" height="0.85" fill="#6e64bc" opacity="0.52"/>
<rect x="388.6" y="83.5" width="0.85" height="0.85" fill="#6e64bc" opacity="0.50"/>
<rect x="425.8" y="60.2" width="0.85" height="0.85" fill="#6e64bc" opacity="0.65"/>
<rect x="396.9" y="86.2" width="0.85" height="0.85" fill="#6e64bc" opacity="0.59"/>
<rect x="383.4" y="88.2" width="0.85" height="0.85" fill="#6e64bc" opacity="0.27"/>
<rect x="398.3" y="92.1" width="0.85" height="0.85" fill="#6e64bc" opacity="0.27"/>
<rect x="402.7" y="88.8" width="0.85" height="0.85" fill="#6e64bc" opacity="0.35"/>
<rect x="379.9" y="75.1" width="0.85" height="0.85" fill="#6e64bc" opacity="0.56"/>
<rect x="411.0" y="48.5" width="0.85" height="0.85" fill="#6e64bc" opacity="0.56"/>
<rect x="376.7" y="46.6" width="0.85" height="0.85" fill="#6e64bc" opacity="0.32"/>
<rect x="408.1" y="87.2" width="0.85" height="0.85" fill="#6e64bc" opacity="0.56"/>
<rect x="394.4" y="50.4" width="0.85" height="0.85" fill="#6e64bc" opacity="0.38"/>
<rect x="399.6" y="43.9" width="0.85" height="0.85" fill="#6e64bc" opacity="0.38"/>
<rect x="385.2" y="73.5" width="0.85" height="0.85" fill="#6e64bc" opacity="0.33"/>
<rect x="410.4" y="78.0" width="0.85" height="0.85" fill="#6e64bc" opacity="0.70"/>
<rect x="388.7" y="76.0" width="0.85" height="0.85" fill="#6e64bc" opacity="0.65"/>
<rect x="362.0" y="47.4" width="0.85" height="0.85" fill="#6e64bc" opacity="0.65"/>
<rect x="406.2" y="90.3" width="0.85" height="0.85" fill="#6e64bc" opacity="0.68"/>
<rect x="385.6" y="96.6" width="0.85" height="0.85" fill="#6e64bc" opacity="0.69"/>
<rect x="387.0" y="73.8" width="0.85" height="0.85" fill="#6e64bc" opacity="0.62"/>
<rect x="395.6" y="86.7" width="0.85" height="0.85" fill="#6e64bc" opacity="0.53"/>
<rect x="406.5" y="44.8" width="0.85" height="0.85" fill="#6e64bc" opacity="0.57"/>
<rect x="392.6" y="81.8" width="0.85" height="0.85" fill="#6e64bc" opacity="0.67"/>
<rect x="399.3" y="95.8" width="0.85" height="0.85" fill="#6e64bc" opacity="0.63"/>
<rect x="395.7" y="50.1" width="0.85" height="0.85" fill="#6e64bc" opacity="0.64"/>
<rect x="384.4" y="91.3" width="0.85" height="0.85" fill="#6e64bc" opacity="0.52"/>
<rect x="396.9" y="96.0" width="0.85" height="0.85" fill="#6e64bc" opacity="0.67"/>
<rect x="422.4" y="66.8" width="0.85" height="0.85" fill="#6e64bc" opacity="0.44"/>
<rect x="395.7" y="95.6" width="0.85" height="0.85" fill="#6e64bc" opacity="0.26"/>
<rect x="394.4" y="95.6" width="0.85" height="0.85" fill="#6e64bc" opacity="0.68"/>
<rect x="420.9" y="54.5" width="0.85" height="0.85" fill="#6e64bc" opacity="0.49"/>
<rect x="384.3" y="40.2" width="0.85" height="0.85" fill="#6e64bc" opacity="0.50"/>
<rect x="411.9" y="52.1" width="0.85" height="0.85" fill="#6e64bc" opacity="0.45"/>
<rect x="383.2" y="53.3" width="0.85" height="0.85" fill="#6e64bc" opacity="0.29"/>
<rect x="412.4" y="88.9" width="0.85" height="0.85" fill="#6e64bc" opacity="0.50"/>
<rect x="372.9" y="57.9" width="0.85" height="0.85" fill="#6e64bc" opacity="0.46"/>
<rect x="410.5" y="68.3" width="0.85" height="0.85" fill="#6e64bc" opacity="0.37"/>
<rect x="418.6" y="68.1" width="0.85" height="0.85" fill="#6e64bc" opacity="0.34"/>
<rect x="391.0" y="102.8" width="0.85" height="0.85" fill="#6e64bc" opacity="0.53"/>
<rect x="394.3" y="49.2" width="0.85" height="0.85" fill="#6e64bc" opacity="0.40"/>
<rect x="383.6" y="87.5" width="0.85" height="0.85" fill="#6e64bc" opacity="0.36"/>
<rect x="411.4" y="54.0" width="0.85" height="0.85" fill="#6e64bc" opacity="0.63"/>
<rect x="409.3" y="67.6" width="0.85" height="0.85" fill="#6e64bc" opacity="0.27"/>
<rect x="402.9" y="51.0" width="0.85" height="0.85" fill="#6e64bc" opacity="0.65"/>
<rect x="390.6" y="97.7" width="0.85" height="0.85" fill="#6e64bc" opacity="0.46"/>
<rect x="388.8" y="80.5" width="0.85" height="0.85" fill="#6e64bc" opacity="0.46"/>
<rect x="424.8" y="55.4" width="0.85" height="0.85" fill="#6e64bc" opacity="0.51"/>
<rect x="406.5" y="43.9" width="0.85" height="0.85" fill="#6e64bc" opacity="0.64"/>
<rect x="385.4" y="88.0" width="0.85" height="0.85" fill="#6e64bc" opacity="0.28"/>
<rect x="384.5" y="85.7" width="0.85" height="0.85" fill="#6e64bc" opacity="0.27"/>
<rect x="416.3" y="53.4" width="0.85" height="0.85" fill="#6e64bc" opacity="0.29"/>
<rect x="380.5" y="72.3" width="0.85" height="0.85" fill="#6e64bc" opacity="0.29"/>
<rect x="384.6" y="92.8" width="0.85" height="0.85" fill="#6e64bc" opacity="0.57"/>
<rect x="390.6" y="98.5" width="0.85" height="0.85" fill="#6e64bc" opacity="0.42"/>
<rect x="387.9" y="111.7" width="0.85" height="0.85" fill="#6e64bc" opacity="0.40"/>
<rect x="388.4" y="52.5" width="0.85" height="0.85" fill="#6e64bc" opacity="0.49"/>
<rect x="383.0" y="76.1" width="0.85" height="0.85" fill="#6e64bc" opacity="0.41"/>
<rect x="401.7" y="46.0" width="0.85" height="0.85" fill="#6e64bc" opacity="0.25"/>
<rect x="414.0" y="89.4" width="0.85" height="0.85" fill="#6e64bc" opacity="0.57"/>
<rect x="401.9" y="42.9" width="0.85" height="0.85" fill="#6e64bc" opacity="0.57"/>
<rect x="411.4" y="62.1" width="0.85" height="0.85" fill="#6e64bc" opacity="0.65"/>
<rect x="389.2" y="89.2" width="0.85" height="0.85" fill="#6e64bc" opacity="0.55"/>
<rect x="370.7" y="57.0" width="0.85" height="0.85" fill="#6e64bc" opacity="0.30"/>
<rect x="381.7" y="50.8" width="0.85" height="0.85" fill="#6e64bc" opacity="0.57"/>
<rect x="410.8" y="54.7" width="0.85" height="0.85" fill="#6e64bc" opacity="0.31"/>
<rect x="386.8" y="97.9" width="0.85" height="0.85" fill="#6e64bc" opacity="0.52"/>
<rect x="377.9" y="56.9" width="0.85" height="0.85" fill="#6e64bc" opacity="0.43"/>
<rect x="385.3" y="73.1" width="0.85" height="0.85" fill="#6e64bc" opacity="0.40"/>
<rect x="416.8" y="75.6" width="0.85" height="0.85" fill="#6e64bc" opacity="0.28"/>
<rect x="413.3" y="71.8" width="0.85" height="0.85" fill="#6e64bc" opacity="0.46"/>
<rect x="385.1" y="72.4" width="0.85" height="0.85" fill="#6e64bc" opacity="0.31"/>
<rect x="363.4" y="46.5" width="0.85" height="0.85" fill="#6e64bc" opacity="0.55"/>
<rect x="386.5" y="70.8" width="0.85" height="0.85" fill="#6e64bc" opacity="0.27"/>
<rect x="413.0" y="91.1" width="0.85" height="0.85" fill="#6e64bc" opacity="0.30"/>
<rect x="401.9" y="43.5" width="0.85" height="0.85" fill="#6e64bc" opacity="0.60"/>
<rect x="383.3" y="99.3" width="0.85" height="0.85" fill="#6e64bc" opacity="0.25"/>
<rect x="412.4" y="52.9" width="0.85" height="0.85" fill="#6e64bc" opacity="0.69"/>
<rect x="388.8" y="50.8" width="0.85" height="0.85" fill="#6e64bc" opacity="0.47"/>
<rect x="395.8" y="101.0" width="0.85" height="0.85" fill="#6e64bc" opacity="0.41"/>
<rect x="395.1" y="91.1" width="0.85" height="0.85" fill="#6e64bc" opacity="0.47"/>
<rect x="371.0" y="75.7" width="0.85" height="0.85" fill="#6e64bc" opacity="0.27"/>
<rect x="409.3" y="86.7" width="0.85" height="0.85" fill="#6e64bc" opacity="0.46"/>
<rect x="370.2" y="63.5" width="0.85" height="0.85" fill="#6e64bc" opacity="0.34"/>
<rect x="410.2" y="50.2" width="0.85" height="0.85" fill="#6e64bc" opacity="0.49"/>
<rect x="385.0" y="97.4" width="0.85" height="0.85" fill="#6e64bc" opacity="0.40"/>
<rect x="380.9" y="60.4" width="0.85" height="0.85" fill="#6e64bc" opacity="0.34"/>
<rect x="384.9" y="53.4" width="0.85" height="0.85" fill="#6e64bc" opacity="0.49"/>
<rect x="406.9" y="95.4" width="0.85" height="0.85" fill="#6e64bc" opacity="0.34"/>
<rect x="410.6" y="75.8" width="0.85" height="0.85" fill="#6e64bc" opacity="0.32"/>
<rect x="396.9" y="85.9" width="0.85" height="0.85" fill="#6e64bc" opacity="0.41"/>
<rect x="388.1" y="81.0" width="0.85" height="0.85" fill="#6e64bc" opacity="0.53"/>
<rect x="383.1" y="97.2" width="0.85" height="0.85" fill="#6e64bc" opacity="0.65"/>
<rect x="377.4" y="56.9" width="0.85" height="0.85" fill="#6e64bc" opacity="0.38"/>
<rect x="418.0" y="62.5" width="0.85" height="0.85" fill="#6e64bc" opacity="0.32"/>
<rect x="409.7" y="45.3" width="0.85" height="0.85" fill="#6e64bc" opacity="0.64"/>
<rect x="381.6" y="52.6" width="0.85" height="0.85" fill="#6e64bc" opacity="0.58"/>
<rect x="380.8" y="64.4" width="0.85" height="0.85" fill="#6e64bc" opacity="0.61"/>
<rect x="384.9" y="51.9" width="0.85" height="0.85" fill="#6e64bc" opacity="0.49"/>
<rect x="386.4" y="77.0" width="0.85" height="0.85" fill="#6e64bc" opacity="0.58"/>
<rect x="407.0" y="82.7" width="0.85" height="0.85" fill="#6e64bc" opacity="0.48"/>
<rect x="417.5" y="75.2" width="0.85" height="0.85" fill="#6e64bc" opacity="0.55"/>
<rect x="410.6" y="82.0" width="0.85" height="0.85" fill="#6e64bc" opacity="0.31"/>
<rect x="408.2" y="105.3" width="0.85" height="0.85" fill="#6e64bc" opacity="0.32"/>
<rect x="390.0" y="50.1" width="0.85" height="0.85" fill="#6e64bc" opacity="0.26"/>
<rect x="379.8" y="61.9" width="0.85" height="0.85" fill="#6e64bc" opacity="0.42"/>
<rect x="388.2" y="86.4" width="0.85" height="0.85" fill="#6e64bc" opacity="0.35"/>
<rect x="405.7" y="49.6" width="0.85" height="0.85" fill="#6e64bc" opacity="0.53"/>
<rect x="385.1" y="92.0" width="0.85" height="0.85" fill="#6e64bc" opacity="0.56"/>
<rect x="382.1" y="62.7" width="0.85" height="0.85" fill="#6e64bc" opacity="0.44"/>
<rect x="421.9" y="60.6" width="0.85" height="0.85" fill="#6e64bc" opacity="0.56"/>
<rect x="409.5" y="93.1" width="0.85" height="0.85" fill="#6e64bc" opacity="0.52"/>
<rect x="391.4" y="86.8" width="0.85" height="0.85" fill="#6e64bc" opacity="0.39"/>
<rect x="396.1" y="89.9" width="0.85" height="0.85" fill="#6e64bc" opacity="0.62"/>
<rect x="379.6" y="59.7" width="0.85" height="0.85" fill="#6e64bc" opacity="0.61"/>
<rect x="386.6" y="77.7" width="0.85" height="0.85" fill="#6e64bc" opacity="0.42"/>
<rect x="387.3" y="93.5" width="0.85" height="0.85" fill="#6e64bc" opacity="0.34"/>
<rect x="380.4" y="64.6" width="0.85" height="0.85" fill="#6e64bc" opacity="0.61"/>
<rect x="406.0" y="50.5" width="0.85" height="0.85" fill="#6e64bc" opacity="0.39"/>
<rect x="382.4" y="74.2" width="0.85" height="0.85" fill="#6e64bc" opacity="0.32"/>
<rect x="389.1" y="83.2" width="0.85" height="0.85" fill="#6e64bc" opacity="0.38"/>
<rect x="374.7" y="66.5" width="0.85" height="0.85" fill="#6e64bc" opacity="0.59"/>
<rect x="411.2" y="80.6" width="0.85" height="0.85" fill="#6e64bc" opacity="0.27"/>
<rect x="411.1" y="50.1" width="0.85" height="0.85" fill="#6e64bc" opacity="0.49"/>
<rect x="416.3" y="71.1" width="0.85" height="0.85" fill="#6e64bc" opacity="0.36"/>
<rect x="404.3" y="91.8" width="0.85" height="0.85" fill="#6e64bc" opacity="0.32"/>
<rect x="383.6" y="89.2" width="0.85" height="0.85" fill="#6e64bc" opacity="0.46"/>
<rect x="385.2" y="87.9" width="0.85" height="0.85" fill="#6e64bc" opacity="0.41"/>
<rect x="409.8" y="82.8" width="0.85" height="0.85" fill="#6e64bc" opacity="0.60"/>
<rect x="420.8" y="57.0" width="0.85" height="0.85" fill="#6e64bc" opacity="0.57"/>
<rect x="396.1" y="90.5" width="0.85" height="0.85" fill="#6e64bc" opacity="0.54"/>
<rect x="387.2" y="91.4" width="0.85" height="0.85" fill="#6e64bc" opacity="0.27"/>
<rect x="397.9" y="89.4" width="0.85" height="0.85" fill="#6e64bc" opacity="0.58"/>
<rect x="377.8" y="67.7" width="0.85" height="0.85" fill="#6e64bc" opacity="0.63"/>
<rect x="366.5" y="98.1" width="0.85" height="0.85" fill="#6e64bc" opacity="0.43"/>
<rect x="412.4" y="65.5" width="0.85" height="0.85" fill="#6e64bc" opacity="0.42"/>
<rect x="423.0" y="42.2" width="0.85" height="0.85" fill="#6e64bc" opacity="0.39"/>
<rect x="379.0" y="56.3" width="0.85" height="0.85" fill="#6e64bc" opacity="0.43"/>
<rect x="392.2" y="99.0" width="0.85" height="0.85" fill="#6e64bc" opacity="0.60"/>
<rect x="383.9" y="91.4" width="0.85" height="0.85" fill="#6e64bc" opacity="0.48"/>
<rect x="416.1" y="61.3" width="0.85" height="0.85" fill="#6e64bc" opacity="0.29"/>
<rect x="378.6" y="51.1" width="0.85" height="0.85" fill="#6e64bc" opacity="0.65"/>
<rect x="391.8" y="78.9" width="0.85" height="0.85" fill="#6e64bc" opacity="0.45"/>
<rect x="392.0" y="97.1" width="0.85" height="0.85" fill="#6e64bc" opacity="0.42"/>
<rect x="391.1" y="101.5" width="0.85" height="0.85" fill="#6e64bc" opacity="0.37"/>
<rect x="405.5" y="49.7" width="0.85" height="0.85" fill="#6e64bc" opacity="0.45"/>
<rect x="408.1" y="95.1" width="0.85" height="0.85" fill="#6e64bc" opacity="0.41"/>
<rect x="382.1" y="64.8" width="0.85" height="0.85" fill="#6e64bc" opacity="0.61"/>
<rect x="386.7" y="91.8" width="0.85" height="0.85" fill="#6e64bc" opacity="0.46"/>
<rect x="393.3" y="100.3" width="0.85" height="0.85" fill="#6e64bc" opacity="0.57"/>
<rect x="375.2" y="64.3" width="0.85" height="0.85" fill="#6e64bc" opacity="0.37"/>
<rect x="379.5" y="56.1" width="0.85" height="0.85" fill="#6e64bc" opacity="0.52"/>
<rect x="399.5" y="91.6" width="0.85" height="0.85" fill="#6e64bc" opacity="0.49"/>
<rect x="412.6" y="71.0" width="0.85" height="0.85" fill="#6e64bc" opacity="0.60"/>
<rect x="384.5" y="71.7" width="0.85" height="0.85" fill="#6e64bc" opacity="0.39"/>
<rect x="388.9" y="81.2" width="0.85" height="0.85" fill="#6e64bc" opacity="0.35"/>
<rect x="388.6" y="50.5" width="0.85" height="0.85" fill="#6e64bc" opacity="0.38"/>
<rect x="411.0" y="88.3" width="0.85" height="0.85" fill="#6e64bc" opacity="0.51"/>
<rect x="392.2" y="91.7" width="0.85" height="0.85" fill="#6e64bc" opacity="0.61"/>
<rect x="387.3" y="73.2" width="0.85" height="0.85" fill="#6e64bc" opacity="0.34"/>
<rect x="395.1" y="47.6" width="0.85" height="0.85" fill="#6e64bc" opacity="0.54"/>
<rect x="411.5" y="89.8" width="0.85" height="0.85" fill="#6e64bc" opacity="0.61"/>
<rect x="419.3" y="91.9" width="0.85" height="0.85" fill="#6e64bc" opacity="0.69"/>
<rect x="407.1" y="85.0" width="0.85" height="0.85" fill="#6e64bc" opacity="0.45"/>
<rect x="410.5" y="63.4" width="0.85" height="0.85" fill="#6e64bc" opacity="0.37"/>
<rect x="423.2" y="51.5" width="0.85" height="0.85" fill="#6e64bc" opacity="0.26"/>
<rect x="380.6" y="69.5" width="0.85" height="0.85" fill="#6e64bc" opacity="0.44"/>
<rect x="381.5" y="55.7" width="0.85" height="0.85" fill="#6e64bc" opacity="0.35"/>
<rect x="371.2" y="89.0" width="0.85" height="0.85" fill="#6e64bc" opacity="0.70"/>
<rect x="411.9" y="81.8" width="0.85" height="0.85" fill="#6e64bc" opacity="0.54"/>
<rect x="398.2" y="50.9" width="0.85" height="0.85" fill="#6e64bc" opacity="0.49"/>
<rect x="388.5" y="103.4" width="0.85" height="0.85" fill="#6e64bc" opacity="0.38"/>
<rect x="381.1" y="66.4" width="0.85" height="0.85" fill="#6e64bc" opacity="0.53"/>
<rect x="385.7" y="53.1" width="0.85" height="0.85" fill="#6e64bc" opacity="0.27"/>
<rect x="409.1" y="49.6" width="0.85" height="0.85" fill="#6e64bc" opacity="0.48"/>
<rect x="380.8" y="55.3" width="0.85" height="0.85" fill="#6e64bc" opacity="0.38"/>
<rect x="392.3" y="81.1" width="0.85" height="0.85" fill="#6e64bc" opacity="0.52"/>
<rect x="410.1" y="61.7" width="0.85" height="0.85" fill="#6e64bc" opacity="0.39"/>
<rect x="385.6" y="90.7" width="0.85" height="0.85" fill="#6e64bc" opacity="0.69"/>
<rect x="382.7" y="44.1" width="0.85" height="0.85" fill="#6e64bc" opacity="0.66"/>
<rect x="372.8" y="63.0" width="0.85" height="0.85" fill="#6e64bc" opacity="0.40"/>
<rect x="409.2" y="71.3" width="0.85" height="0.85" fill="#6e64bc" opacity="0.47"/>
<rect x="386.2" y="89.1" width="0.85" height="0.85" fill="#6e64bc" opacity="0.37"/>
<rect x="387.9" y="75.9" width="0.85" height="0.85" fill="#6e64bc" opacity="0.44"/>
<rect x="416.0" y="66.6" width="0.85" height="0.85" fill="#6e64bc" opacity="0.36"/>
<rect x="408.5" y="76.1" width="0.85" height="0.85" fill="#6e64bc" opacity="0.30"/>
<rect x="388.4" y="84.9" width="0.85" height="0.85" fill="#6e64bc" opacity="0.67"/>
<rect x="404.0" y="97.1" width="0.85" height="0.85" fill="#6e64bc" opacity="0.44"/>
<rect x="392.4" y="84.0" width="0.85" height="0.85" fill="#6e64bc" opacity="0.66"/>
<rect x="396.1" y="95.2" width="0.85" height="0.85" fill="#6e64bc" opacity="0.34"/>
<rect x="412.3" y="90.0" width="0.85" height="0.85" fill="#6e64bc" opacity="0.37"/>
<rect x="377.3" y="78.6" width="0.85" height="0.85" fill="#6e64bc" opacity="0.57"/>
<rect x="411.9" y="61.6" width="0.85" height="0.85" fill="#6e64bc" opacity="0.46"/>
<rect x="412.0" y="75.8" width="0.85" height="0.85" fill="#6e64bc" opacity="0.46"/>
<rect x="410.3" y="81.4" width="0.85" height="0.85" fill="#6e64bc" opacity="0.39"/>
<rect x="391.7" y="51.8" width="0.85" height="0.85" fill="#6e64bc" opacity="0.39"/>
<rect x="377.6" y="67.7" width="0.85" height="0.85" fill="#6e64bc" opacity="0.48"/>
<rect x="393.2" y="49.7" width="0.85" height="0.85" fill="#6e64bc" opacity="0.54"/>
<rect x="381.2" y="52.7" width="0.85" height="0.85" fill="#6e64bc" opacity="0.43"/>
<rect x="416.3" y="50.0" width="0.85" height="0.85" fill="#6e64bc" opacity="0.64"/>
<rect x="413.4" y="92.5" width="0.85" height="0.85" fill="#6e64bc" opacity="0.38"/>
<rect x="381.2" y="61.3" width="0.85" height="0.85" fill="#6e64bc" opacity="0.48"/>
<rect x="395.2" y="86.5" width="0.85" height="0.85" fill="#6e64bc" opacity="0.39"/>
<rect x="410.8" y="83.0" width="0.85" height="0.85" fill="#6e64bc" opacity="0.62"/>
<rect x="390.8" y="83.3" width="0.85" height="0.85" fill="#6e64bc" opacity="0.28"/>
<rect x="414.5" y="51.6" width="0.85" height="0.85" fill="#6e64bc" opacity="0.66"/>
<rect x="394.3" y="49.1" width="0.85" height="0.85" fill="#6e64bc" opacity="0.28"/>
<rect x="415.9" y="49.1" width="0.85" height="0.85" fill="#6e64bc" opacity="0.47"/>
<rect x="412.8" y="79.0" width="0.85" height="0.85" fill="#6e64bc" opacity="0.55"/>
<rect x="397.9" y="46.7" width="0.85" height="0.85" fill="#6e64bc" opacity="0.31"/>
<rect x="395.4" y="46.1" width="0.85" height="0.85" fill="#6e64bc" opacity="0.62"/>
<rect x="373.9" y="55.3" width="0.85" height="0.85" fill="#6e64bc" opacity="0.67"/>
<rect x="394.9" y="84.1" width="0.85" height="0.85" fill="#6e64bc" opacity="0.27"/>
<rect x="395.1" y="92.4" width="0.85" height="0.85" fill="#6e64bc" opacity="0.35"/>
<rect x="380.7" y="62.6" width="0.85" height="0.85" fill="#6e64bc" opacity="0.30"/>
<rect x="363.0" y="60.8" width="0.85" height="0.85" fill="#6e64bc" opacity="0.57"/>
<rect x="386.4" y="99.3" width="0.85" height="0.85" fill="#6e64bc" opacity="0.61"/>
<rect x="384.2" y="89.3" width="0.85" height="0.85" fill="#6e64bc" opacity="0.68"/>
<rect x="383.8" y="49.9" width="0.85" height="0.85" fill="#6e64bc" opacity="0.57"/>
<rect x="383.9" y="49.2" width="0.85" height="0.85" fill="#6e64bc" opacity="0.33"/>
<rect x="400.5" y="87.7" width="0.85" height="0.85" fill="#6e64bc" opacity="0.28"/>
<rect x="400.0" y="91.1" width="0.85" height="0.85" fill="#6e64bc" opacity="0.62"/>
<rect x="389.8" y="75.8" width="0.85" height="0.85" fill="#6e64bc" opacity="0.46"/>
<rect x="397.8" y="89.0" width="0.85" height="0.85" fill="#6e64bc" opacity="0.33"/>
<rect x="388.9" y="100.6" width="0.85" height="0.85" fill="#6e64bc" opacity="0.60"/>
<rect x="395.0" y="90.0" width="0.85" height="0.85" fill="#6e64bc" opacity="0.37"/>
<rect x="390.1" y="101.7" width="0.85" height="0.85" fill="#6e64bc" opacity="0.35"/>
<rect x="387.2" y="75.1" width="0.85" height="0.85" fill="#6e64bc" opacity="0.43"/>
<rect x="383.0" y="89.6" width="0.85" height="0.85" fill="#6e64bc" opacity="0.47"/>
<rect x="396.3" y="40.2" width="0.85" height="0.85" fill="#6e64bc" opacity="0.26"/>
<rect x="410.6" y="66.2" width="0.85" height="0.85" fill="#6e64bc" opacity="0.56"/>
<rect x="389.0" y="87.0" width="0.85" height="0.85" fill="#6e64bc" opacity="0.38"/>
<rect x="393.2" y="50.1" width="0.85" height="0.85" fill="#6e64bc" opacity="0.50"/>
<rect x="393.5" y="81.8" width="0.85" height="0.85" fill="#6e64bc" opacity="0.25"/>
<rect x="394.9" y="84.3" width="0.85" height="0.85" fill="#6e64bc" opacity="0.44"/>
<rect x="413.4" y="68.1" width="0.85" height="0.85" fill="#6e64bc" opacity="0.39"/>
<rect x="381.9" y="52.8" width="0.85" height="0.85" fill="#6e64bc" opacity="0.26"/>
<rect x="383.6" y="64.9" width="0.85" height="0.85" fill="#6e64bc" opacity="0.53"/>
<rect x="408.9" y="85.3" width="0.85" height="0.85" fill="#6e64bc" opacity="0.41"/>
<rect x="385.8" y="68.5" width="0.85" height="0.85" fill="#6e64bc" opacity="0.62"/>
<rect x="400.8" y="88.9" width="0.85" height="0.85" fill="#6e64bc" opacity="0.69"/>
<rect x="392.4" y="49.1" width="0.85" height="0.85" fill="#6e64bc" opacity="0.57"/>
<rect x="376.8" y="83.0" width="0.85" height="0.85" fill="#6e64bc" opacity="0.61"/>
<rect x="388.0" y="102.9" width="0.85" height="0.85" fill="#6e64bc" opacity="0.48"/>
<rect x="406.4" y="48.3" width="0.85" height="0.85" fill="#6e64bc" opacity="0.34"/>
<rect x="406.2" y="90.4" width="0.85" height="0.85" fill="#6e64bc" opacity="0.34"/>
<rect x="389.9" y="51.8" width="0.85" height="0.85" fill="#6e64bc" opacity="0.68"/>
<rect x="391.2" y="83.9" width="0.85" height="0.85" fill="#6e64bc" opacity="0.49"/>
<rect x="391.1" y="82.5" width="0.85" height="0.85" fill="#6e64bc" opacity="0.33"/>
<rect x="380.5" y="69.8" width="0.85" height="0.85" fill="#6e64bc" opacity="0.32"/>
<rect x="410.4" y="88.3" width="0.85" height="0.85" fill="#6e64bc" opacity="0.62"/>
<rect x="419.2" y="50.4" width="0.85" height="0.85" fill="#6e64bc" opacity="0.57"/>
<rect x="401.1" y="48.6" width="0.85" height="0.85" fill="#6e64bc" opacity="0.41"/>
<rect x="380.2" y="66.3" width="0.85" height="0.85" fill="#6e64bc" opacity="0.43"/>
<rect x="377.8" y="80.2" width="0.85" height="0.85" fill="#6e64bc" opacity="0.39"/>
<rect x="412.4" y="59.6" width="0.85" height="0.85" fill="#6e64bc" opacity="0.29"/>
<rect x="410.2" y="42.2" width="0.85" height="0.85" fill="#6e64bc" opacity="0.45"/>
<rect x="413.1" y="57.9" width="0.85" height="0.85" fill="#6e64bc" opacity="0.59"/>
<rect x="380.6" y="61.5" width="0.85" height="0.85" fill="#6e64bc" opacity="0.67"/>
<rect x="385.0" y="54.9" width="0.85" height="0.85" fill="#6e64bc" opacity="0.62"/>
<rect x="386.9" y="90.3" width="0.85" height="0.85" fill="#6e64bc" opacity="0.56"/>
<rect x="385.8" y="51.6" width="0.85" height="0.85" fill="#6e64bc" opacity="0.57"/>
<rect x="422.1" y="86.8" width="0.85" height="0.85" fill="#6e64bc" opacity="0.63"/>
<rect x="369.8" y="52.6" width="0.85" height="0.85" fill="#6e64bc" opacity="0.35"/>
<rect x="417.3" y="60.8" width="0.85" height="0.85" fill="#6e64bc" opacity="0.52"/>
<rect x="382.4" y="65.6" width="0.85" height="0.85" fill="#6e64bc" opacity="0.50"/>
<rect x="408.7" y="48.8" width="0.85" height="0.85" fill="#6e64bc" opacity="0.26"/>
<rect x="381.6" y="67.0" width="0.85" height="0.85" fill="#6e64bc" opacity="0.35"/>
<rect x="400.7" y="50.9" width="0.85" height="0.85" fill="#6e64bc" opacity="0.67"/>
<rect x="396.2" y="49.7" width="0.85" height="0.85" fill="#6e64bc" opacity="0.47"/>
<rect x="402.4" y="44.8" width="0.85" height="0.85" fill="#6e64bc" opacity="0.66"/>
<rect x="395.4" y="97.7" width="0.85" height="0.85" fill="#6e64bc" opacity="0.65"/>
<rect x="416.6" y="48.0" width="0.85" height="0.85" fill="#6e64bc" opacity="0.44"/>
<rect x="368.0" y="52.5" width="0.85" height="0.85" fill="#6e64bc" opacity="0.64"/>
<rect x="404.4" y="94.2" width="0.85" height="0.85" fill="#6e64bc" opacity="0.50"/>
<rect x="382.3" y="73.2" width="0.85" height="0.85" fill="#6e64bc" opacity="0.25"/>
<rect x="405.1" y="48.8" width="0.85" height="0.85" fill="#6e64bc" opacity="0.55"/>
<rect x="396.6" y="91.4" width="0.85" height="0.85" fill="#6e64bc" opacity="0.42"/>
<rect x="406.5" y="88.2" width="0.85" height="0.85" fill="#6e64bc" opacity="0.44"/>
<rect x="389.7" y="95.4" width="0.85" height="0.85" fill="#6e64bc" opacity="0.48"/>
<rect x="364.9" y="66.8" width="0.85" height="0.85" fill="#6e64bc" opacity="0.31"/>
<rect x="391.4" y="89.0" width="0.85" height="0.85" fill="#6e64bc" opacity="0.67"/>
<rect x="383.7" y="52.8" width="0.85" height="0.85" fill="#6e64bc" opacity="0.43"/>
<rect x="412.9" y="69.6" width="0.85" height="0.85" fill="#6e64bc" opacity="0.52"/>
<rect x="412.1" y="77.9" width="0.85" height="0.85" fill="#6e64bc" opacity="0.47"/>
<rect x="384.1" y="96.4" width="0.85" height="0.85" fill="#6e64bc" opacity="0.36"/>
<rect x="406.3" y="89.8" width="0.85" height="0.85" fill="#6e64bc" opacity="0.41"/>
<rect x="409.7" y="78.2" width="0.85" height="0.85" fill="#6e64bc" opacity="0.39"/>
<rect x="380.7" y="66.4" width="0.85" height="0.85" fill="#6e64bc" opacity="0.66"/>
<rect x="382.6" y="53.9" width="0.85" height="0.85" fill="#6e64bc" opacity="0.46"/>
<rect x="391.4" y="49.4" width="0.85" height="0.85" fill="#6e64bc" opacity="0.68"/>
<rect x="410.3" y="50.3" width="0.85" height="0.85" fill="#6e64bc" opacity="0.50"/>
<rect x="387.8" y="103.1" width="0.85" height="0.85" fill="#6e64bc" opacity="0.49"/>
<rect x="397.4" y="90.6" width="0.85" height="0.85" fill="#6e64bc" opacity="0.29"/>
<rect x="393.2" y="83.7" width="0.85" height="0.85" fill="#6e64bc" opacity="0.40"/>
<rect x="417.7" y="47.5" width="0.85" height="0.85" fill="#6e64bc" opacity="0.56"/>
<rect x="381.4" y="62.8" width="0.85" height="0.85" fill="#6e64bc" opacity="0.35"/>
<rect x="415.9" y="88.3" width="0.85" height="0.85" fill="#6e64bc" opacity="0.63"/>
<rect x="412.4" y="105.8" width="0.85" height="0.85" fill="#6e64bc" opacity="0.38"/>
<rect x="411.2" y="58.2" width="0.85" height="0.85" fill="#6e64bc" opacity="0.67"/>
<rect x="394.7" y="48.8" width="0.85" height="0.85" fill="#6e64bc" opacity="0.33"/>
<rect x="411.8" y="63.1" width="0.85" height="0.85" fill="#6e64bc" opacity="0.48"/>
<rect x="390.6" y="51.2" width="0.85" height="0.85" fill="#6e64bc" opacity="0.42"/>
<rect x="388.9" y="101.8" width="0.85" height="0.85" fill="#6e64bc" opacity="0.40"/>
<rect x="390.7" y="85.2" width="0.85" height="0.85" fill="#6e64bc" opacity="0.65"/>
<rect x="408.7" y="77.0" width="0.85" height="0.85" fill="#6e64bc" opacity="0.42"/>
<rect x="387.8" y="81.9" width="0.85" height="0.85" fill="#6e64bc" opacity="0.66"/>
<rect x="385.5" y="75.2" width="0.85" height="0.85" fill="#6e64bc" opacity="0.32"/>
<rect x="411.5" y="56.0" width="0.85" height="0.85" fill="#6e64bc" opacity="0.64"/>
<rect x="411.5" y="55.0" width="0.85" height="0.85" fill="#6e64bc" opacity="0.50"/>
<rect x="382.9" y="78.1" width="0.85" height="0.85" fill="#6e64bc" opacity="0.25"/>
<rect x="376.0" y="55.1" width="0.85" height="0.85" fill="#6e64bc" opacity="0.33"/>
<rect x="392.5" y="84.2" width="0.85" height="0.85" fill="#6e64bc" opacity="0.36"/>
<rect x="379.2" y="69.7" width="0.85" height="0.85" fill="#6e64bc" opacity="0.33"/>
<rect x="410.3" y="47.2" width="0.85" height="0.85" fill="#6e64bc" opacity="0.54"/>
<rect x="403.9" y="47.6" width="0.85" height="0.85" fill="#6e64bc" opacity="0.43"/>
<rect x="410.3" y="72.5" width="0.85" height="0.85" fill="#6e64bc" opacity="0.29"/>
<rect x="390.3" y="104.8" width="0.85" height="0.85" fill="#6e64bc" opacity="0.55"/>
<rect x="415.1" y="65.0" width="0.85" height="0.85" fill="#6e64bc" opacity="0.45"/>
<rect x="378.5" y="46.9" width="0.85" height="0.85" fill="#6e64bc" opacity="0.33"/>
<rect x="393.7" y="91.2" width="0.85" height="0.85" fill="#6e64bc" opacity="0.67"/>
<rect x="415.8" y="72.9" width="0.85" height="0.85" fill="#6e64bc" opacity="0.50"/>
<rect x="386.7" y="86.6" width="0.85" height="0.85" fill="#6e64bc" opacity="0.33"/>
<rect x="378.9" y="44.7" width="0.85" height="0.85" fill="#6e64bc" opacity="0.41"/>
<rect x="387.6" y="80.2" width="0.85" height="0.85" fill="#6e64bc" opacity="0.68"/>
<rect x="407.7" y="47.5" width="0.85" height="0.85" fill="#6e64bc" opacity="0.35"/>
<rect x="414.4" y="56.8" width="0.85" height="0.85" fill="#6e64bc" opacity="0.68"/>
<rect x="392.0" y="101.9" width="0.85" height="0.85" fill="#6e64bc" opacity="0.26"/>
<rect x="413.1" y="77.6" width="0.85" height="0.85" fill="#6e64bc" opacity="0.34"/>
<rect x="370.4" y="69.4" width="0.85" height="0.85" fill="#6e64bc" opacity="0.40"/>
<rect x="382.0" y="65.3" width="0.85" height="0.85" fill="#6e64bc" opacity="0.61"/>
<rect x="401.8" y="50.6" width="0.85" height="0.85" fill="#6e64bc" opacity="0.51"/>
<rect x="377.1" y="68.7" width="0.85" height="0.85" fill="#6e64bc" opacity="0.50"/>
<rect x="387.7" y="81.9" width="0.85" height="0.85" fill="#6e64bc" opacity="0.48"/>
<rect x="418.2" y="53.6" width="0.85" height="0.85" fill="#6e64bc" opacity="0.25"/>
<rect x="383.3" y="70.6" width="0.85" height="0.85" fill="#6e64bc" opacity="0.62"/>
<rect x="408.0" y="78.5" width="0.85" height="0.85" fill="#6e64bc" opacity="0.69"/>
<rect x="400.4" y="98.2" width="0.85" height="0.85" fill="#6e64bc" opacity="0.62"/>
<rect x="379.7" y="48.8" width="0.85" height="0.85" fill="#6e64bc" opacity="0.34"/>
<rect x="392.0" y="97.2" width="0.85" height="0.85" fill="#6e64bc" opacity="0.38"/>
<rect x="387.1" y="103.3" width="0.85" height="0.85" fill="#6e64bc" opacity="0.64"/>
<rect x="390.7" y="83.4" width="0.85" height="0.85" fill="#6e64bc" opacity="0.48"/>
<rect x="382.6" y="92.6" width="0.85" height="0.85" fill="#6e64bc" opacity="0.47"/>
<rect x="406.2" y="90.0" width="0.85" height="0.85" fill="#6e64bc" opacity="0.54"/>
<rect x="382.2" y="73.8" width="0.85" height="0.85" fill="#6e64bc" opacity="0.58"/>
<rect x="396.0" y="46.9" width="0.85" height="0.85" fill="#6e64bc" opacity="0.62"/>
<rect x="400.7" y="92.2" width="0.85" height="0.85" fill="#6e64bc" opacity="0.26"/>
<rect x="395.2" y="47.6" width="0.85" height="0.85" fill="#6e64bc" opacity="0.42"/>
<rect x="408.4" y="91.9" width="0.85" height="0.85" fill="#6e64bc" opacity="0.27"/>
<rect x="394.3" y="96.2" width="0.85" height="0.85" fill="#6e64bc" opacity="0.31"/>
<rect x="425.6" y="71.1" width="0.85" height="0.85" fill="#6e64bc" opacity="0.57"/>
<rect x="393.0" y="85.1" width="0.85" height="0.85" fill="#6e64bc" opacity="0.42"/>
<rect x="374.1" y="82.4" width="0.85" height="0.85" fill="#6e64bc" opacity="0.54"/>
<rect x="421.8" y="59.8" width="0.85" height="0.85" fill="#6e64bc" opacity="0.56"/>
<rect x="383.6" y="87.2" width="0.85" height="0.85" fill="#6e64bc" opacity="0.32"/>
<rect x="390.0" y="104.6" width="0.85" height="0.85" fill="#6e64bc" opacity="0.69"/>
<rect x="385.9" y="53.9" width="0.85" height="0.85" fill="#6e64bc" opacity="0.37"/>
<rect x="388.9" y="79.7" width="0.85" height="0.85" fill="#6e64bc" opacity="0.31"/>
<rect x="408.6" y="89.7" width="0.85" height="0.85" fill="#6e64bc" opacity="0.31"/>
<rect x="387.4" y="90.6" width="0.85" height="0.85" fill="#6e64bc" opacity="0.59"/>
<rect x="389.9" y="83.7" width="0.85" height="0.85" fill="#6e64bc" opacity="0.31"/>
<rect x="363.9" y="60.9" width="0.85" height="0.85" fill="#6e64bc" opacity="0.33"/>
<rect x="422.3" y="62.4" width="0.85" height="0.85" fill="#6e64bc" opacity="0.70"/>
<rect x="411.4" y="75.9" width="0.85" height="0.85" fill="#6e64bc" opacity="0.38"/>
<rect x="378.4" y="59.7" width="0.85" height="0.85" fill="#6e64bc" opacity="0.67"/>
<rect x="391.2" y="100.9" width="0.85" height="0.85" fill="#6e64bc" opacity="0.47"/>
<rect x="409.1" y="69.5" width="0.85" height="0.85" fill="#6e64bc" opacity="0.44"/>
<rect x="412.3" y="69.6" width="0.85" height="0.85" fill="#6e64bc" opacity="0.67"/>
<rect x="401.9" y="88.4" width="0.85" height="0.85" fill="#6e64bc" opacity="0.47"/>
<rect x="381.1" y="55.7" width="0.85" height="0.85" fill="#6e64bc" opacity="0.43"/>
<rect x="397.8" y="49.4" width="0.85" height="0.85" fill="#6e64bc" opacity="0.27"/>
<rect x="388.0" y="100.4" width="0.85" height="0.85" fill="#6e64bc" opacity="0.54"/>
<rect x="406.7" y="40.4" width="0.85" height="0.85" fill="#6e64bc" opacity="0.48"/>
<rect x="407.4" y="87.9" width="0.85" height="0.85" fill="#6e64bc" opacity="0.68"/>
<rect x="375.9" y="68.5" width="0.85" height="0.85" fill="#6e64bc" opacity="0.56"/>
<rect x="414.2" y="77.9" width="0.85" height="0.85" fill="#6e64bc" opacity="0.50"/>
<rect x="380.4" y="51.1" width="0.85" height="0.85" fill="#6e64bc" opacity="0.53"/>
<rect x="383.6" y="55.1" width="0.85" height="0.85" fill="#6e64bc" opacity="0.38"/>
<rect x="410.3" y="73.4" width="0.85" height="0.85" fill="#6e64bc" opacity="0.25"/>
<rect x="407.5" y="51.1" width="0.85" height="0.85" fill="#6e64bc" opacity="0.41"/>
<rect x="376.4" y="55.2" width="0.85" height="0.85" fill="#6e64bc" opacity="0.52"/>
<rect x="409.2" y="79.3" width="0.85" height="0.85" fill="#6e64bc" opacity="0.68"/>
<rect x="381.3" y="62.3" width="0.85" height="0.85" fill="#6e64bc" opacity="0.35"/>
<rect x="384.7" y="69.8" width="0.85" height="0.85" fill="#6e64bc" opacity="0.47"/>
<rect x="424.8" y="82.6" width="0.85" height="0.85" fill="#6e64bc" opacity="0.28"/>
<rect x="412.1" y="82.7" width="0.85" height="0.85" fill="#6e64bc" opacity="0.33"/>
<rect x="380.9" y="61.4" width="0.85" height="0.85" fill="#6e64bc" opacity="0.27"/>
<rect x="392.0" y="100.5" width="0.85" height="0.85" fill="#6e64bc" opacity="0.37"/>
<rect x="388.9" y="80.6" width="0.85" height="0.85" fill="#6e64bc" opacity="0.67"/>
<rect x="416.3" y="45.6" width="0.85" height="0.85" fill="#6e64bc" opacity="0.41"/>
<rect x="412.6" y="64.2" width="0.85" height="0.85" fill="#6e64bc" opacity="0.40"/>
<rect x="385.0" y="97.4" width="0.85" height="0.85" fill="#6e64bc" opacity="0.62"/>
<rect x="389.4" y="104.0" width="0.85" height="0.85" fill="#6e64bc" opacity="0.34"/>
<rect x="420.2" y="94.6" width="0.85" height="0.85" fill="#6e64bc" opacity="0.39"/>
<rect x="374.2" y="56.5" width="0.85" height="0.85" fill="#6e64bc" opacity="0.26"/>
<rect x="377.3" y="52.6" width="0.85" height="0.85" fill="#6e64bc" opacity="0.64"/>
<rect x="379.8" y="61.0" width="0.85" height="0.85" fill="#6e64bc" opacity="0.52"/>
<rect x="391.2" y="78.6" width="0.85" height="0.85" fill="#6e64bc" opacity="0.54"/>
<rect x="387.0" y="101.5" width="0.85" height="0.85" fill="#6e64bc" opacity="0.36"/>
<rect x="393.9" y="45.7" width="0.85" height="0.85" fill="#6e64bc" opacity="0.41"/>
<rect x="383.8" y="98.5" width="0.85" height="0.85" fill="#6e64bc" opacity="0.46"/>
<rect x="409.2" y="76.1" width="0.85" height="0.85" fill="#6e64bc" opacity="0.51"/>
<rect x="381.8" y="80.6" width="0.85" height="0.85" fill="#6e64bc" opacity="0.64"/>
<rect x="384.2" y="67.6" width="0.85" height="0.85" fill="#6e64bc" opacity="0.55"/>
<rect x="399.7" y="88.9" width="0.85" height="0.85" fill="#6e64bc" opacity="0.66"/>
<rect x="402.6" y="51.1" width="0.85" height="0.85" fill="#6e64bc" opacity="0.29"/>
<rect x="383.5" y="74.2" width="0.85" height="0.85" fill="#6e64bc" opacity="0.37"/>
<rect x="418.2" y="55.5" width="0.85" height="0.85" fill="#6e64bc" opacity="0.34"/>
<rect x="399.6" y="88.3" width="0.85" height="0.85" fill="#6e64bc" opacity="0.46"/>
<rect x="387.7" y="85.1" width="0.85" height="0.85" fill="#6e64bc" opacity="0.48"/>
<rect x="396.6" y="92.2" width="0.85" height="0.85" fill="#6e64bc" opacity="0.64"/>
<rect x="399.0" y="50.5" width="0.85" height="0.85" fill="#6e64bc" opacity="0.43"/>
<rect x="392.5" y="45.6" width="0.85" height="0.85" fill="#6e64bc" opacity="0.50"/>
<rect x="408.6" y="79.8" width="0.85" height="0.85" fill="#6e64bc" opacity="0.54"/>
<rect x="409.2" y="74.2" width="0.85" height="0.85" fill="#6e64bc" opacity="0.30"/>
<rect x="410.4" y="67.0" width="0.85" height="0.85" fill="#6e64bc" opacity="0.51"/>
<rect x="382.0" y="52.9" width="0.85" height="0.85" fill="#6e64bc" opacity="0.37"/>
<rect x="397.3" y="47.7" width="0.85" height="0.85" fill="#6e64bc" opacity="0.53"/>
<rect x="381.6" y="62.5" width="0.85" height="0.85" fill="#6e64bc" opacity="0.36"/>
<rect x="406.1" y="93.6" width="0.85" height="0.85" fill="#6e64bc" opacity="0.63"/>
<rect x="411.9" y="59.6" width="0.85" height="0.85" fill="#6e64bc" opacity="0.45"/>
<rect x="384.0" y="73.3" width="0.85" height="0.85" fill="#6e64bc" opacity="0.61"/>
<rect x="416.6" y="45.9" width="0.85" height="0.85" fill="#6e64bc" opacity="0.56"/>
<rect x="386.3" y="75.2" width="0.85" height="0.85" fill="#6e64bc" opacity="0.37"/>
<rect x="383.4" y="46.4" width="0.85" height="0.85" fill="#6e64bc" opacity="0.61"/>
<rect x="362.0" y="83.4" width="0.85" height="0.85" fill="#6e64bc" opacity="0.30"/>
<rect x="378.3" y="57.0" width="0.85" height="0.85" fill="#6e64bc" opacity="0.37"/>
<rect x="381.4" y="70.0" width="0.85" height="0.85" fill="#6e64bc" opacity="0.55"/>
<rect x="414.8" y="55.8" width="0.85" height="0.85" fill="#6e64bc" opacity="0.52"/>
<rect x="406.0" y="45.4" width="0.85" height="0.85" fill="#6e64bc" opacity="0.68"/>
<rect x="384.3" y="72.2" width="0.85" height="0.85" fill="#6e64bc" opacity="0.57"/>
<rect x="408.6" y="73.7" width="0.85" height="0.85" fill="#6e64bc" opacity="0.68"/>
<rect x="384.3" y="101.0" width="0.85" height="0.85" fill="#6e64bc" opacity="0.41"/>
<rect x="382.3" y="65.7" width="0.85" height="0.85" fill="#6e64bc" opacity="0.39"/>
<rect x="391.2" y="50.1" width="0.85" height="0.85" fill="#6e64bc" opacity="0.54"/>
<rect x="419.1" y="68.0" width="0.85" height="0.85" fill="#6e64bc" opacity="0.66"/>
<rect x="396.1" y="48.1" width="0.85" height="0.85" fill="#6e64bc" opacity="0.43"/>
<rect x="400.2" y="87.3" width="0.85" height="0.85" fill="#6e64bc" opacity="0.65"/>
<rect x="368.7" y="48.5" width="0.85" height="0.85" fill="#6e64bc" opacity="0.48"/>
<rect x="399.8" y="106.2" width="0.85" height="0.85" fill="#6e64bc" opacity="0.59"/>
<rect x="403.2" y="49.6" width="0.85" height="0.85" fill="#6e64bc" opacity="0.48"/>
<rect x="409.9" y="81.7" width="0.85" height="0.85" fill="#6e64bc" opacity="0.53"/>
<rect x="416.3" y="63.4" width="0.85" height="0.85" fill="#6e64bc" opacity="0.26"/>
<rect x="384.4" y="93.0" width="0.85" height="0.85" fill="#6e64bc" opacity="0.36"/>
<rect x="382.9" y="95.7" width="0.85" height="0.85" fill="#6e64bc" opacity="0.29"/>
<rect x="381.7" y="54.9" width="0.85" height="0.85" fill="#6e64bc" opacity="0.41"/>
<rect x="410.3" y="84.3" width="0.85" height="0.85" fill="#6e64bc" opacity="0.48"/>
<rect x="417.2" y="75.9" width="0.85" height="0.85" fill="#6e64bc" opacity="0.66"/>
<rect x="381.6" y="66.2" width="0.85" height="0.85" fill="#6e64bc" opacity="0.59"/>
<rect x="388.6" y="92.2" width="0.85" height="0.85" fill="#6e64bc" opacity="0.53"/>
<rect x="399.6" y="49.3" width="0.85" height="0.85" fill="#6e64bc" opacity="0.29"/>
<rect x="409.6" y="76.7" width="0.85" height="0.85" fill="#6e64bc" opacity="0.51"/>
<rect x="406.2" y="88.1" width="0.85" height="0.85" fill="#6e64bc" opacity="0.39"/>
<rect x="392.9" y="49.3" width="0.85" height="0.85" fill="#6e64bc" opacity="0.59"/>
<rect x="402.7" y="89.5" width="0.85" height="0.85" fill="#6e64bc" opacity="0.52"/>
<rect x="383.2" y="72.1" width="0.85" height="0.85" fill="#6e64bc" opacity="0.33"/>
<rect x="393.2" y="91.1" width="0.85" height="0.85" fill="#6e64bc" opacity="0.45"/>
<rect x="410.9" y="53.5" width="0.85" height="0.85" fill="#6e64bc" opacity="0.32"/>
<rect x="411.0" y="59.5" width="0.85" height="0.85" fill="#6e64bc" opacity="0.31"/>
<rect x="392.2" y="81.5" width="0.85" height="0.85" fill="#6e64bc" opacity="0.65"/>
<rect x="415.2" y="71.6" width="0.85" height="0.85" fill="#6e64bc" opacity="0.60"/>
<rect x="419.4" y="53.9" width="0.85" height="0.85" fill="#6e64bc" opacity="0.64"/>
<rect x="389.8" y="87.0" width="0.85" height="0.85" fill="#6e64bc" opacity="0.26"/>
<rect x="387.2" y="102.8" width="0.85" height="0.85" fill="#6e64bc" opacity="0.48"/>
<rect x="387.9" y="76.3" width="0.85" height="0.85" fill="#6e64bc" opacity="0.53"/>
<rect x="371.7" y="55.1" width="0.85" height="0.85" fill="#6e64bc" opacity="0.53"/>
<rect x="386.4" y="83.2" width="0.85" height="0.85" fill="#6e64bc" opacity="0.53"/>
<rect x="375.6" y="59.3" width="0.85" height="0.85" fill="#6e64bc" opacity="0.48"/>
<rect x="407.3" y="90.4" width="0.85" height="0.85" fill="#6e64bc" opacity="0.37"/>
<rect x="416.7" y="52.2" width="0.85" height="0.85" fill="#6e64bc" opacity="0.68"/>
<rect x="391.5" y="98.7" width="0.85" height="0.85" fill="#6e64bc" opacity="0.50"/>
<rect x="377.6" y="57.4" width="0.85" height="0.85" fill="#6e64bc" opacity="0.32"/>
<rect x="410.4" y="77.2" width="0.85" height="0.85" fill="#6e64bc" opacity="0.37"/>
<rect x="375.1" y="58.1" width="0.85" height="0.85" fill="#6e64bc" opacity="0.41"/>
<rect x="393.6" y="92.8" width="0.85" height="0.85" fill="#6e64bc" opacity="0.44"/>
<rect x="408.4" y="76.7" width="0.85" height="0.85" fill="#6e64bc" opacity="0.33"/>
<rect x="410.6" y="68.2" width="0.85" height="0.85" fill="#6e64bc" opacity="0.65"/>
<rect x="360.5" y="65.7" width="0.85" height="0.85" fill="#6e64bc" opacity="0.57"/>
<rect x="408.7" y="96.3" width="0.85" height="0.85" fill="#6e64bc" opacity="0.56"/>
<rect x="385.3" y="101.5" width="0.85" height="0.85" fill="#6e64bc" opacity="0.64"/>
<rect x="398.4" y="91.0" width="0.85" height="0.85" fill="#6e64bc" opacity="0.67"/>
<rect x="400.1" y="50.9" width="0.85" height="0.85" fill="#6e64bc" opacity="0.59"/>
<rect x="388.3" y="74.5" width="0.85" height="0.85" fill="#6e64bc" opacity="0.60"/>
<rect x="411.1" y="79.9" width="0.85" height="0.85" fill="#6e64bc" opacity="0.35"/>
<rect x="389.5" y="76.9" width="0.85" height="0.85" fill="#6e64bc" opacity="0.63"/>
<rect x="385.8" y="52.2" width="0.85" height="0.85" fill="#6e64bc" opacity="0.36"/>
<rect x="419.2" y="62.9" width="0.85" height="0.85" fill="#6e64bc" opacity="0.59"/>
<rect x="407.7" y="51.1" width="0.85" height="0.85" fill="#6e64bc" opacity="0.49"/>
<rect x="391.1" y="80.3" width="0.85" height="0.85" fill="#6e64bc" opacity="0.61"/>
<rect x="388.7" y="104.3" width="0.85" height="0.85" fill="#6e64bc" opacity="0.62"/>
<rect x="417.4" y="45.5" width="0.85" height="0.85" fill="#6e64bc" opacity="0.65"/>
<rect x="404.0" y="92.4" width="0.85" height="0.85" fill="#6e64bc" opacity="0.68"/>
<rect x="390.1" y="42.0" width="0.85" height="0.85" fill="#6e64bc" opacity="0.49"/>
<rect x="389.9" y="92.1" width="0.85" height="0.85" fill="#6e64bc" opacity="0.64"/>
<rect x="382.0" y="74.1" width="0.85" height="0.85" fill="#6e64bc" opacity="0.51"/>
<rect x="381.8" y="55.1" width="0.85" height="0.85" fill="#6e64bc" opacity="0.26"/>
<rect x="397.3" y="89.1" width="0.85" height="0.85" fill="#6e64bc" opacity="0.51"/>
<rect x="391.0" y="49.9" width="0.85" height="0.85" fill="#6e64bc" opacity="0.60"/>
<rect x="388.6" y="78.1" width="0.85" height="0.85" fill="#6e64bc" opacity="0.49"/>
<rect x="408.3" y="90.6" width="0.85" height="0.85" fill="#6e64bc" opacity="0.29"/>
<rect x="393.2" y="50.5" width="0.85" height="0.85" fill="#6e64bc" opacity="0.51"/>
<rect x="386.6" y="95.2" width="0.85" height="0.85" fill="#6e64bc" opacity="0.36"/>
<rect x="407.8" y="80.5" width="0.85" height="0.85" fill="#6e64bc" opacity="0.35"/>
<rect x="420.4" y="46.4" width="0.85" height="0.85" fill="#6e64bc" opacity="0.57"/>
<rect x="407.7" y="102.4" width="0.85" height="0.85" fill="#6e64bc" opacity="0.54"/>
<rect x="384.5" y="52.7" width="0.85" height="0.85" fill="#6e64bc" opacity="0.55"/>
<rect x="375.6" y="64.3" width="0.85" height="0.85" fill="#6e64bc" opacity="0.43"/>
<rect x="400.4" y="44.6" width="0.85" height="0.85" fill="#6e64bc" opacity="0.28"/>
<rect x="375.2" y="65.9" width="0.85" height="0.85" fill="#6e64bc" opacity="0.52"/>
<rect x="422.4" y="63.3" width="0.85" height="0.85" fill="#6e64bc" opacity="0.29"/>
<rect x="375.7" y="60.1" width="0.85" height="0.85" fill="#6e64bc" opacity="0.68"/>
<rect x="386.3" y="74.0" width="0.85" height="0.85" fill="#6e64bc" opacity="0.36"/>
<rect x="407.4" y="97.2" width="0.85" height="0.85" fill="#6e64bc" opacity="0.45"/>
<rect x="386.4" y="70.3" width="0.85" height="0.85" fill="#6e64bc" opacity="0.32"/>
<rect x="384.6" y="75.3" width="0.85" height="0.85" fill="#6e64bc" opacity="0.60"/>
<rect x="380.8" y="61.9" width="0.85" height="0.85" fill="#6e64bc" opacity="0.42"/>
<rect x="395.6" y="88.4" width="0.85" height="0.85" fill="#6e64bc" opacity="0.48"/>
<rect x="409.7" y="79.8" width="0.85" height="0.85" fill="#6e64bc" opacity="0.57"/>
<rect x="412.0" y="72.5" width="0.85" height="0.85" fill="#6e64bc" opacity="0.51"/>
<rect x="383.1" y="90.3" width="0.85" height="0.85" fill="#6e64bc" opacity="0.66"/>
<rect x="369.0" y="56.5" width="0.85" height="0.85" fill="#6e64bc" opacity="0.42"/>
<rect x="381.8" y="75.6" width="0.85" height="0.85" fill="#6e64bc" opacity="0.49"/>
<rect x="411.3" y="71.8" width="0.85" height="0.85" fill="#6e64bc" opacity="0.42"/>
<rect x="373.8" y="55.0" width="0.85" height="0.85" fill="#6e64bc" opacity="0.69"/>
<rect x="380.0" y="63.1" width="0.85" height="0.85" fill="#6e64bc" opacity="0.69"/>
<rect x="412.9" y="98.2" width="0.85" height="0.85" fill="#6e64bc" opacity="0.25"/>
<rect x="381.6" y="52.0" width="0.85" height="0.85" fill="#6e64bc" opacity="0.55"/>
<rect x="408.4" y="90.2" width="0.85" height="0.85" fill="#6e64bc" opacity="0.40"/>
<rect x="386.6" y="85.2" width="0.85" height="0.85" fill="#6e64bc" opacity="0.52"/>
<rect x="381.9" y="68.8" width="0.85" height="0.85" fill="#6e64bc" opacity="0.32"/>
<rect x="414.2" y="62.6" width="0.85" height="0.85" fill="#6e64bc" opacity="0.27"/>
<rect x="403.3" y="95.3" width="0.85" height="0.85" fill="#6e64bc" opacity="0.60"/>
<rect x="399.7" y="46.6" width="0.85" height="0.85" fill="#6e64bc" opacity="0.69"/>
<rect x="410.0" y="90.5" width="0.85" height="0.85" fill="#6e64bc" opacity="0.53"/>
<rect x="395.8" y="89.1" width="0.85" height="0.85" fill="#6e64bc" opacity="0.54"/>
<rect x="373.8" y="51.2" width="0.85" height="0.85" fill="#6e64bc" opacity="0.67"/>
<rect x="385.7" y="95.7" width="0.85" height="0.85" fill="#6e64bc" opacity="0.55"/>
<rect x="407.4" y="89.3" width="0.85" height="0.85" fill="#6e64bc" opacity="0.42"/>
<rect x="403.6" y="47.9" width="0.85" height="0.85" fill="#6e64bc" opacity="0.28"/>
<rect x="390.5" y="100.8" width="0.85" height="0.85" fill="#6e64bc" opacity="0.63"/>
<rect x="392.8" y="80.7" width="0.85" height="0.85" fill="#6e64bc" opacity="0.55"/>
<rect x="392.0" y="92.0" width="0.85" height="0.85" fill="#6e64bc" opacity="0.37"/>
<rect x="412.8" y="57.4" width="0.85" height="0.85" fill="#6e64bc" opacity="0.37"/>
<rect x="382.6" y="63.7" width="0.85" height="0.85" fill="#6e64bc" opacity="0.33"/>
<rect x="380.2" y="42.0" width="0.85" height="0.85" fill="#6e64bc" opacity="0.35"/>
<rect x="414.3" y="59.8" width="0.85" height="0.85" fill="#6e64bc" opacity="0.45"/>
<rect x="391.6" y="90.1" width="0.85" height="0.85" fill="#6e64bc" opacity="0.29"/>
<rect x="367.3" y="76.6" width="0.85" height="0.85" fill="#6e64bc" opacity="0.56"/>
<rect x="407.3" y="81.8" width="0.85" height="0.85" fill="#6e64bc" opacity="0.32"/>
<rect x="411.6" y="74.1" width="0.85" height="0.85" fill="#6e64bc" opacity="0.56"/>
<rect x="413.6" y="58.3" width="0.85" height="0.85" fill="#6e64bc" opacity="0.48"/>
<rect x="390.7" y="82.5" width="0.85" height="0.85" fill="#6e64bc" opacity="0.62"/>
<rect x="392.6" y="94.2" width="0.85" height="0.85" fill="#6e64bc" opacity="0.51"/>
<rect x="412.1" y="53.8" width="0.85" height="0.85" fill="#6e64bc" opacity="0.37"/>
<rect x="394.4" y="90.4" width="0.85" height="0.85" fill="#6e64bc" opacity="0.41"/>
<rect x="407.5" y="93.2" width="0.85" height="0.85" fill="#6e64bc" opacity="0.48"/>
<rect x="363.8" y="60.8" width="0.85" height="0.85" fill="#6e64bc" opacity="0.68"/>
<rect x="391.7" y="86.5" width="0.85" height="0.85" fill="#6e64bc" opacity="0.54"/>
<rect x="387.1" y="80.9" width="0.85" height="0.85" fill="#6e64bc" opacity="0.59"/>
<rect x="398.0" y="51.2" width="0.85" height="0.85" fill="#6e64bc" opacity="0.28"/>
<rect x="376.2" y="61.3" width="0.85" height="0.85" fill="#6e64bc" opacity="0.56"/>
<rect x="400.7" y="87.6" width="0.85" height="0.85" fill="#6e64bc" opacity="0.48"/>
<rect x="419.2" y="77.1" width="0.85" height="0.85" fill="#6e64bc" opacity="0.47"/>
<rect x="384.0" y="100.3" width="0.85" height="0.85" fill="#6e64bc" opacity="0.42"/>
<rect x="412.5" y="60.6" width="0.85" height="0.85" fill="#6e64bc" opacity="0.63"/>
<rect x="380.3" y="66.6" width="0.85" height="0.85" fill="#6e64bc" opacity="0.34"/>
<rect x="386.8" y="97.3" width="0.85" height="0.85" fill="#6e64bc" opacity="0.27"/>
<rect x="414.9" y="64.3" width="0.85" height="0.85" fill="#6e64bc" opacity="0.57"/>
<rect x="406.6" y="99.6" width="0.85" height="0.85" fill="#6e64bc" opacity="0.41"/>
<rect x="413.5" y="50.5" width="0.85" height="0.85" fill="#6e64bc" opacity="0.39"/>
<rect x="412.3" y="53.9" width="0.85" height="0.85" fill="#6e64bc" opacity="0.34"/>
<rect x="408.1" y="83.3" width="0.85" height="0.85" fill="#6e64bc" opacity="0.40"/>
<rect x="384.6" y="72.2" width="0.85" height="0.85" fill="#6e64bc" opacity="0.68"/>
<rect x="385.6" y="77.7" width="0.85" height="0.85" fill="#6e64bc" opacity="0.58"/>
<rect x="410.9" y="76.3" width="0.85" height="0.85" fill="#6e64bc" opacity="0.48"/>
<rect x="393.4" y="48.4" width="0.85" height="0.85" fill="#6e64bc" opacity="0.53"/>
<rect x="389.1" y="74.7" width="0.85" height="0.85" fill="#6e64bc" opacity="0.56"/>
<rect x="414.6" y="60.1" width="0.85" height="0.85" fill="#6e64bc" opacity="0.30"/>
<rect x="418.0" y="74.5" width="0.85" height="0.85" fill="#6e64bc" opacity="0.54"/>
<rect x="415.5" y="83.6" width="0.85" height="0.85" fill="#6e64bc" opacity="0.44"/>
<rect x="421.3" y="57.8" width="0.85" height="0.85" fill="#6e64bc" opacity="0.54"/>
<rect x="390.0" y="79.5" width="0.85" height="0.85" fill="#6e64bc" opacity="0.48"/>
<rect x="403.2" y="42.9" width="0.85" height="0.85" fill="#6e64bc" opacity="0.64"/>
<rect x="414.7" y="49.0" width="0.85" height="0.85" fill="#6e64bc" opacity="0.68"/>
<rect x="411.1" y="48.3" width="0.85" height="0.85" fill="#6e64bc" opacity="0.52"/>
<rect x="390.9" y="93.1" width="0.85" height="0.85" fill="#6e64bc" opacity="0.27"/>
<rect x="379.3" y="51.9" width="0.85" height="0.85" fill="#6e64bc" opacity="0.39"/>
<rect x="381.5" y="80.1" width="0.85" height="0.85" fill="#6e64bc" opacity="0.25"/>
<rect x="414.4" y="53.8" width="0.85" height="0.85" fill="#6e64bc" opacity="0.59"/>
<rect x="410.7" y="84.7" width="0.85" height="0.85" fill="#6e64bc" opacity="0.62"/>
<rect x="416.4" y="62.4" width="0.85" height="0.85" fill="#6e64bc" opacity="0.60"/>
<rect x="413.8" y="55.3" width="0.85" height="0.85" fill="#6e64bc" opacity="0.48"/>
<rect x="409.6" y="66.9" width="0.85" height="0.85" fill="#6e64bc" opacity="0.66"/>
<rect x="409.9" y="87.1" width="0.85" height="0.85" fill="#6e64bc" opacity="0.47"/>
<rect x="413.0" y="59.0" width="0.85" height="0.85" fill="#6e64bc" opacity="0.62"/>
<rect x="379.5" y="54.3" width="0.85" height="0.85" fill="#6e64bc" opacity="0.27"/>
<rect x="379.8" y="67.1" width="0.85" height="0.85" fill="#6e64bc" opacity="0.49"/>
<rect x="408.9" y="100.5" width="0.85" height="0.85" fill="#6e64bc" opacity="0.55"/>
<rect x="408.7" y="79.2" width="0.85" height="0.85" fill="#6e64bc" opacity="0.63"/>
<rect x="386.6" y="51.8" width="0.85" height="0.85" fill="#6e64bc" opacity="0.67"/>
<rect x="369.3" y="53.4" width="0.85" height="0.85" fill="#6e64bc" opacity="0.62"/>
<rect x="390.4" y="104.3" width="0.85" height="0.85" fill="#6e64bc" opacity="0.66"/>
<rect x="391.2" y="43.4" width="0.85" height="0.85" fill="#6e64bc" opacity="0.62"/>
<rect x="385.4" y="49.8" width="0.85" height="0.85" fill="#6e64bc" opacity="0.57"/>
<rect x="372.9" y="62.0" width="0.85" height="0.85" fill="#6e64bc" opacity="0.57"/>
<rect x="390.0" y="82.4" width="0.85" height="0.85" fill="#6e64bc" opacity="0.54"/>
<rect x="409.1" y="74.0" width="0.85" height="0.85" fill="#6e64bc" opacity="0.60"/>
<rect x="407.1" y="47.9" width="0.85" height="0.85" fill="#6e64bc" opacity="0.42"/>
<rect x="404.4" y="50.8" width="0.85" height="0.85" fill="#6e64bc" opacity="0.58"/>
<rect x="371.9" y="83.3" width="0.85" height="0.85" fill="#6e64bc" opacity="0.27"/>
<rect x="365.9" y="47.5" width="0.85" height="0.85" fill="#6e64bc" opacity="0.30"/>
<rect x="414.7" y="73.7" width="0.85" height="0.85" fill="#6e64bc" opacity="0.40"/>
<rect x="414.2" y="55.0" width="0.85" height="0.85" fill="#6e64bc" opacity="0.57"/>
<rect x="398.2" y="87.8" width="0.85" height="0.85" fill="#6e64bc" opacity="0.60"/>
<rect x="386.9" y="93.8" width="0.85" height="0.85" fill="#6e64bc" opacity="0.42"/>
<rect x="412.1" y="69.2" width="0.85" height="0.85" fill="#6e64bc" opacity="0.47"/>
<rect x="412.1" y="84.2" width="0.85" height="0.85" fill="#6e64bc" opacity="0.43"/>
<rect x="406.0" y="89.0" width="0.85" height="0.85" fill="#6e64bc" opacity="0.66"/>
<rect x="410.3" y="83.1" width="0.85" height="0.85" fill="#6e64bc" opacity="0.38"/>
<rect x="394.3" y="86.2" width="0.85" height="0.85" fill="#6e64bc" opacity="0.63"/>
<rect x="377.9" y="59.3" width="0.85" height="0.85" fill="#6e64bc" opacity="0.35"/>
<rect x="392.0" y="80.5" width="0.85" height="0.85" fill="#6e64bc" opacity="0.69"/>
<rect x="393.0" y="87.8" width="0.85" height="0.85" fill="#6e64bc" opacity="0.70"/>
<rect x="414.3" y="92.5" width="0.85" height="0.85" fill="#6e64bc" opacity="0.28"/>
<rect x="392.3" y="47.9" width="0.85" height="0.85" fill="#6e64bc" opacity="0.58"/>
<rect x="406.9" y="95.1" width="0.85" height="0.85" fill="#6e64bc" opacity="0.54"/>
<rect x="372.3" y="81.6" width="0.85" height="0.85" fill="#6e64bc" opacity="0.46"/>
<rect x="414.1" y="77.2" width="0.85" height="0.85" fill="#6e64bc" opacity="0.61"/>
<rect x="398.8" y="96.9" width="0.85" height="0.85" fill="#6e64bc" opacity="0.39"/>
<rect x="409.2" y="86.3" width="0.85" height="0.85" fill="#6e64bc" opacity="0.26"/>
<rect x="383.1" y="97.8" width="0.85" height="0.85" fill="#6e64bc" opacity="0.36"/>
<rect x="401.8" y="50.0" width="0.85" height="0.85" fill="#6e64bc" opacity="0.57"/>
<rect x="414.9" y="47.5" width="0.85" height="0.85" fill="#6e64bc" opacity="0.45"/>
<rect x="402.3" y="47.3" width="0.85" height="0.85" fill="#6e64bc" opacity="0.62"/>
<rect x="413.2" y="58.6" width="0.85" height="0.85" fill="#6e64bc" opacity="0.52"/>
<rect x="410.8" y="56.4" width="0.85" height="0.85" fill="#6e64bc" opacity="0.63"/>
<rect x="415.1" y="79.5" width="0.85" height="0.85" fill="#6e64bc" opacity="0.39"/>
<rect x="418.2" y="52.6" width="0.85" height="0.85" fill="#6e64bc" opacity="0.50"/>
<rect x="398.8" y="49.8" width="0.85" height="0.85" fill="#6e64bc" opacity="0.31"/>
<rect x="411.1" y="55.6" width="0.85" height="0.85" fill="#6e64bc" opacity="0.69"/>
<rect x="413.8" y="86.7" width="0.85" height="0.85" fill="#6e64bc" opacity="0.50"/>
<rect x="424.9" y="62.9" width="0.85" height="0.85" fill="#6e64bc" opacity="0.67"/>
<rect x="385.5" y="69.9" width="0.85" height="0.85" fill="#6e64bc" opacity="0.29"/>
<rect x="388.7" y="108.6" width="0.85" height="0.85" fill="#6e64bc" opacity="0.49"/>
<rect x="401.2" y="88.8" width="0.85" height="0.85" fill="#6e64bc" opacity="0.47"/>
<rect x="387.4" y="85.5" width="0.85" height="0.85" fill="#6e64bc" opacity="0.26"/>
<rect x="397.0" y="51.3" width="0.85" height="0.85" fill="#6e64bc" opacity="0.37"/>
<rect x="400.7" y="48.6" width="0.85" height="0.85" fill="#6e64bc" opacity="0.55"/>
<rect x="379.5" y="70.4" width="0.85" height="0.85" fill="#6e64bc" opacity="0.33"/>
<rect x="413.3" y="62.9" width="0.85" height="0.85" fill="#6e64bc" opacity="0.48"/>
<rect x="390.2" y="98.8" width="0.85" height="0.85" fill="#6e64bc" opacity="0.28"/>
<rect x="383.7" y="97.4" width="0.85" height="0.85" fill="#6e64bc" opacity="0.61"/>
<rect x="397.1" y="42.9" width="0.85" height="0.85" fill="#6e64bc" opacity="0.38"/>
<rect x="401.6" y="42.0" width="0.85" height="0.85" fill="#6e64bc" opacity="0.26"/>
<rect x="413.4" y="66.6" width="0.85" height="0.85" fill="#6e64bc" opacity="0.63"/>
<rect x="378.1" y="71.3" width="0.85" height="0.85" fill="#6e64bc" opacity="0.34"/>
<rect x="400.3" y="43.5" width="0.85" height="0.85" fill="#6e64bc" opacity="0.54"/>
<rect x="367.6" y="77.4" width="0.85" height="0.85" fill="#6e64bc" opacity="0.25"/>
<rect x="409.6" y="67.7" width="0.85" height="0.85" fill="#6e64bc" opacity="0.29"/>
<rect x="411.6" y="60.6" width="0.85" height="0.85" fill="#6e64bc" opacity="0.40"/>
<rect x="372.7" y="68.1" width="0.85" height="0.85" fill="#6e64bc" opacity="0.56"/>
<rect x="376.5" y="52.5" width="0.85" height="0.85" fill="#6e64bc" opacity="0.39"/>
<rect x="383.5" y="70.6" width="0.85" height="0.85" fill="#6e64bc" opacity="0.51"/>
<rect x="405.6" y="50.9" width="0.85" height="0.85" fill="#6e64bc" opacity="0.57"/>
<rect x="369.9" y="97.4" width="0.85" height="0.85" fill="#6e64bc" opacity="0.46"/>
<rect x="409.2" y="76.6" width="0.85" height="0.85" fill="#6e64bc" opacity="0.53"/>
<rect x="408.3" y="90.1" width="0.85" height="0.85" fill="#6e64bc" opacity="0.68"/>
<rect x="368.0" y="52.8" width="0.85" height="0.85" fill="#6e64bc" opacity="0.42"/>
<rect x="399.8" y="90.4" width="0.85" height="0.85" fill="#6e64bc" opacity="0.34"/>
<rect x="379.9" y="70.7" width="0.85" height="0.85" fill="#6e64bc" opacity="0.51"/>
<rect x="411.9" y="48.2" width="0.85" height="0.85" fill="#6e64bc" opacity="0.64"/>
<rect x="409.1" y="82.1" width="0.85" height="0.85" fill="#6e64bc" opacity="0.64"/>
<rect x="407.8" y="80.0" width="0.85" height="0.85" fill="#6e64bc" opacity="0.54"/>
<rect x="396.0" y="88.9" width="0.85" height="0.85" fill="#6e64bc" opacity="0.60"/>
<rect x="411.7" y="54.9" width="0.85" height="0.85" fill="#6e64bc" opacity="0.67"/>
<rect x="410.9" y="41.9" width="0.85" height="0.85" fill="#6e64bc" opacity="0.35"/>
<rect x="395.2" y="94.0" width="0.85" height="0.85" fill="#6e64bc" opacity="0.51"/>
<rect x="389.0" y="102.9" width="0.85" height="0.85" fill="#6e64bc" opacity="0.31"/>
<rect x="389.7" y="91.6" width="0.85" height="0.85" fill="#6e64bc" opacity="0.45"/>
<rect x="372.2" y="53.1" width="0.85" height="0.85" fill="#6e64bc" opacity="0.64"/>
<rect x="395.4" y="46.0" width="0.85" height="0.85" fill="#6e64bc" opacity="0.38"/>
<rect x="382.4" y="95.9" width="0.85" height="0.85" fill="#6e64bc" opacity="0.66"/>
<rect x="397.4" y="51.3" width="0.85" height="0.85" fill="#6e64bc" opacity="0.61"/>
<rect x="414.8" y="54.3" width="0.85" height="0.85" fill="#6e64bc" opacity="0.61"/>
<rect x="409.4" y="68.1" width="0.85" height="0.85" fill="#6e64bc" opacity="0.42"/>
<rect x="375.6" y="44.8" width="0.85" height="0.85" fill="#6e64bc" opacity="0.57"/>
<rect x="390.0" y="77.9" width="0.85" height="0.85" fill="#6e64bc" opacity="0.36"/>
<rect x="378.0" y="67.3" width="0.85" height="0.85" fill="#6e64bc" opacity="0.61"/>
<rect x="393.7" y="49.2" width="0.85" height="0.85" fill="#6e64bc" opacity="0.45"/>
<rect x="391.4" y="93.5" width="0.85" height="0.85" fill="#6e64bc" opacity="0.65"/>
<rect x="421.1" y="58.5" width="0.85" height="0.85" fill="#6e64bc" opacity="0.53"/>
<rect x="385.0" y="54.6" width="0.85" height="0.85" fill="#6e64bc" opacity="0.41"/>
<rect x="410.3" y="83.7" width="0.85" height="0.85" fill="#6e64bc" opacity="0.68"/>
<rect x="394.9" y="50.5" width="0.85" height="0.85" fill="#6e64bc" opacity="0.47"/>
<rect x="421.8" y="47.9" width="0.85" height="0.85" fill="#6e64bc" opacity="0.46"/>
<rect x="398.9" y="88.9" width="0.85" height="0.85" fill="#6e64bc" opacity="0.67"/>
<rect x="388.6" y="91.7" width="0.85" height="0.85" fill="#6e64bc" opacity="0.61"/>
<rect x="395.6" y="40.0" width="0.85" height="0.85" fill="#6e64bc" opacity="0.52"/>
<rect x="388.9" y="76.3" width="0.85" height="0.85" fill="#6e64bc" opacity="0.59"/>
<ellipse cx="412.5" cy="111" rx="15" ry="26" fill="#b8eaf8" filter="url(#b2)"/>
<ellipse cx="412" cy="110" rx="10" ry="20" fill="#7fd6f3" opacity="0.65" filter="url(#b2)"/>
<rect x="416.8" y="101.5" width="0.9" height="0.9" fill="#b7ecfb" opacity="0.23"/>
<rect x="417.7" y="83.7" width="0.9" height="0.9" fill="#b7ecfb" opacity="0.32"/>
<rect x="405.5" y="110.7" width="0.9" height="0.9" fill="#2aa6dc" opacity="0.52"/>
<rect x="413.3" y="108.3" width="0.9" height="0.9" fill="#b7ecfb" opacity="0.29"/>
<rect x="416.3" y="106.3" width="0.9" height="0.9" fill="#8a86d0" opacity="0.24"/>
<rect x="417.0" y="134.4" width="0.9" height="0.9" fill="#48bce8" opacity="0.45"/>
<rect x="405.6" y="86.7" width="0.9" height="0.9" fill="#2aa6dc" opacity="0.49"/>
<rect x="418.6" y="95.9" width="0.9" height="0.9" fill="#48bce8" opacity="0.32"/>
<rect x="411.6" y="91.7" width="0.9" height="0.9" fill="#b7ecfb" opacity="0.39"/>
<rect x="403.6" y="85.9" width="0.9" height="0.9" fill="#48bce8" opacity="0.38"/>
<rect x="420.7" y="138.1" width="0.9" height="0.9" fill="#3fb8e6" opacity="0.34"/>
<rect x="412.1" y="117.1" width="0.9" height="0.9" fill="#5cc6ee" opacity="0.34"/>
<rect x="409.5" y="114.5" width="0.9" height="0.9" fill="#8a86d0" opacity="0.51"/>
<rect x="409.5" y="131.2" width="0.9" height="0.9" fill="#3fb8e6" opacity="0.37"/>
<rect x="417.1" y="114.4" width="0.9" height="0.9" fill="#8a86d0" opacity="0.28"/>
<rect x="409.3" y="106.6" width="0.9" height="0.9" fill="#48bce8" opacity="0.30"/>
<rect x="415.3" y="112.6" width="0.9" height="0.9" fill="#3fb8e6" opacity="0.44"/>
<rect x="408.1" y="89.9" width="0.9" height="0.9" fill="#48bce8" opacity="0.50"/>
<rect x="398.3" y="111.7" width="0.9" height="0.9" fill="#b7ecfb" opacity="0.35"/>
<rect x="414.7" y="118.3" width="0.9" height="0.9" fill="#3a9ad8" opacity="0.34"/>
<rect x="412.1" y="105.7" width="0.9" height="0.9" fill="#8a86d0" opacity="0.39"/>
<rect x="427.4" y="120.6" width="0.9" height="0.9" fill="#2aa6dc" opacity="0.46"/>
<rect x="396.8" y="92.8" width="0.9" height="0.9" fill="#3fb8e6" opacity="0.54"/>
<rect x="400.8" y="106.0" width="0.9" height="0.9" fill="#b7ecfb" opacity="0.32"/>
<rect x="403.5" y="120.7" width="0.9" height="0.9" fill="#2aa6dc" opacity="0.32"/>
<rect x="403.4" y="87.1" width="0.9" height="0.9" fill="#8a86d0" opacity="0.48"/>
<rect x="415.6" y="141.8" width="0.9" height="0.9" fill="#3a9ad8" opacity="0.45"/>
<rect x="417.4" y="96.8" width="0.9" height="0.9" fill="#5cc6ee" opacity="0.27"/>
<rect x="410.2" y="107.9" width="0.9" height="0.9" fill="#3fb8e6" opacity="0.25"/>
<rect x="405.1" y="114.5" width="0.9" height="0.9" fill="#2aa6dc" opacity="0.21"/>
<rect x="402.7" y="127.8" width="0.9" height="0.9" fill="#5cc6ee" opacity="0.30"/>
<rect x="424.6" y="120.9" width="0.9" height="0.9" fill="#2aa6dc" opacity="0.23"/>
<rect x="411.1" y="95.3" width="0.9" height="0.9" fill="#2aa6dc" opacity="0.22"/>
<rect x="410.7" y="107.7" width="0.9" height="0.9" fill="#3fb8e6" opacity="0.31"/>
<rect x="413.4" y="120.4" width="0.9" height="0.9" fill="#8a86d0" opacity="0.36"/>
<rect x="413.3" y="107.6" width="0.9" height="0.9" fill="#b7ecfb" opacity="0.35"/>
<rect x="415.4" y="100.0" width="0.9" height="0.9" fill="#48bce8" opacity="0.29"/>
<rect x="417.9" y="89.5" width="0.9" height="0.9" fill="#5cc6ee" opacity="0.36"/>
<rect x="414.8" y="123.7" width="0.9" height="0.9" fill="#8a86d0" opacity="0.26"/>
<rect x="419.3" y="102.6" width="0.9" height="0.9" fill="#8a86d0" opacity="0.54"/>
<rect x="402.9" y="103.7" width="0.9" height="0.9" fill="#2aa6dc" opacity="0.28"/>
<rect x="400.5" y="112.4" width="0.9" height="0.9" fill="#5cc6ee" opacity="0.44"/>
<rect x="412.7" y="102.1" width="0.9" height="0.9" fill="#8a86d0" opacity="0.25"/>
<rect x="411.0" y="114.2" width="0.9" height="0.9" fill="#5cc6ee" opacity="0.29"/>
<rect x="422.6" y="95.0" width="0.9" height="0.9" fill="#48bce8" opacity="0.54"/>
<rect x="412.6" y="104.5" width="0.9" height="0.9" fill="#48bce8" opacity="0.49"/>
<rect x="418.4" y="110.7" width="0.9" height="0.9" fill="#b7ecfb" opacity="0.46"/>
<rect x="416.3" y="117.0" width="0.9" height="0.9" fill="#8a86d0" opacity="0.46"/>
<rect x="417.2" y="105.5" width="0.9" height="0.9" fill="#3a9ad8" opacity="0.54"/>
<rect x="411.6" y="122.0" width="0.9" height="0.9" fill="#8a86d0" opacity="0.30"/>
<rect x="410.8" y="99.0" width="0.9" height="0.9" fill="#b7ecfb" opacity="0.43"/>
<rect x="414.2" y="114.3" width="0.9" height="0.9" fill="#3fb8e6" opacity="0.37"/>
<rect x="411.4" y="102.1" width="0.9" height="0.9" fill="#3a9ad8" opacity="0.39"/>
<rect x="406.1" y="131.3" width="0.9" height="0.9" fill="#3a9ad8" opacity="0.26"/>
<rect x="421.6" y="94.3" width="0.9" height="0.9" fill="#3a9ad8" opacity="0.32"/>
<rect x="412.0" y="97.1" width="0.9" height="0.9" fill="#48bce8" opacity="0.23"/>
<rect x="408.8" y="119.6" width="0.9" height="0.9" fill="#3fb8e6" opacity="0.36"/>
<rect x="406.9" y="120.0" width="0.9" height="0.9" fill="#3a9ad8" opacity="0.49"/>
<rect x="416.7" y="124.2" width="0.9" height="0.9" fill="#8a86d0" opacity="0.49"/>
<rect x="409.8" y="118.1" width="0.9" height="0.9" fill="#48bce8" opacity="0.52"/>
<rect x="400.5" y="108.1" width="0.9" height="0.9" fill="#5cc6ee" opacity="0.33"/>
<rect x="415.2" y="94.7" width="0.9" height="0.9" fill="#3a9ad8" opacity="0.23"/>
<rect x="416.5" y="122.0" width="0.9" height="0.9" fill="#5cc6ee" opacity="0.23"/>
<rect x="419.5" y="93.9" width="0.9" height="0.9" fill="#5cc6ee" opacity="0.37"/>
<rect x="409.8" y="121.2" width="0.9" height="0.9" fill="#3fb8e6" opacity="0.37"/>
<rect x="413.5" y="121.4" width="0.9" height="0.9" fill="#5cc6ee" opacity="0.46"/>
<rect x="410.0" y="100.6" width="0.9" height="0.9" fill="#b7ecfb" opacity="0.31"/>
<rect x="399.8" y="100.5" width="0.9" height="0.9" fill="#3a9ad8" opacity="0.42"/>
<rect x="407.4" y="104.0" width="0.9" height="0.9" fill="#3fb8e6" opacity="0.28"/>
<rect x="405.3" y="119.4" width="0.9" height="0.9" fill="#8a86d0" opacity="0.43"/>
<rect x="412.2" y="133.2" width="0.9" height="0.9" fill="#3a9ad8" opacity="0.38"/>
<rect x="409.6" y="118.8" width="0.9" height="0.9" fill="#48bce8" opacity="0.20"/>
<rect x="423.3" y="112.6" width="0.9" height="0.9" fill="#3fb8e6" opacity="0.33"/>
<rect x="402.7" y="102.4" width="0.9" height="0.9" fill="#b7ecfb" opacity="0.46"/>
<rect x="412.8" y="110.0" width="0.9" height="0.9" fill="#2aa6dc" opacity="0.38"/>
<rect x="409.4" y="94.5" width="0.9" height="0.9" fill="#8a86d0" opacity="0.50"/>
<rect x="404.8" y="120.4" width="0.9" height="0.9" fill="#8a86d0" opacity="0.41"/>
<rect x="423.2" y="114.2" width="0.9" height="0.9" fill="#8a86d0" opacity="0.27"/>
<rect x="413.4" y="103.5" width="0.9" height="0.9" fill="#48bce8" opacity="0.27"/>
<rect x="420.8" y="120.7" width="0.9" height="0.9" fill="#5cc6ee" opacity="0.47"/>
<rect x="420.1" y="107.1" width="0.9" height="0.9" fill="#8a86d0" opacity="0.42"/>
<rect x="405.5" y="120.7" width="0.9" height="0.9" fill="#2aa6dc" opacity="0.42"/>
<rect x="404.2" y="107.6" width="0.9" height="0.9" fill="#48bce8" opacity="0.33"/>
<rect x="416.3" y="126.3" width="0.9" height="0.9" fill="#2aa6dc" opacity="0.40"/>
<rect x="407.2" y="96.7" width="0.9" height="0.9" fill="#48bce8" opacity="0.54"/>
<rect x="398.4" y="115.0" width="0.9" height="0.9" fill="#48bce8" opacity="0.38"/>
<rect x="410.7" y="78.3" width="0.9" height="0.9" fill="#b7ecfb" opacity="0.33"/>
<rect x="413.9" y="117.1" width="0.9" height="0.9" fill="#3fb8e6" opacity="0.29"/>
<rect x="412.2" y="102.8" width="0.9" height="0.9" fill="#b7ecfb" opacity="0.39"/>
<rect x="410.2" y="99.0" width="0.9" height="0.9" fill="#b7ecfb" opacity="0.26"/>
<rect x="409.6" y="118.2" width="0.9" height="0.9" fill="#2aa6dc" opacity="0.26"/>
<rect x="408.0" y="102.3" width="0.9" height="0.9" fill="#2aa6dc" opacity="0.33"/>
<rect x="408.5" y="99.9" width="0.9" height="0.9" fill="#48bce8" opacity="0.46"/>
<rect x="421.6" y="114.6" width="0.9" height="0.9" fill="#b7ecfb" opacity="0.50"/>
<rect x="414.2" y="101.7" width="0.9" height="0.9" fill="#b7ecfb" opacity="0.48"/>
<rect x="422.5" y="129.2" width="0.9" height="0.9" fill="#48bce8" opacity="0.23"/>
<rect x="407.6" y="122.7" width="0.9" height="0.9" fill="#3fb8e6" opacity="0.20"/>
<rect x="406.4" y="100.4" width="0.9" height="0.9" fill="#3fb8e6" opacity="0.24"/>
<rect x="423.9" y="116.3" width="0.9" height="0.9" fill="#48bce8" opacity="0.35"/>
<rect x="406.5" y="111.5" width="0.9" height="0.9" fill="#48bce8" opacity="0.53"/>
<rect x="413.4" y="111.4" width="0.9" height="0.9" fill="#8a86d0" opacity="0.32"/>
<rect x="411.4" y="107.6" width="0.9" height="0.9" fill="#5cc6ee" opacity="0.34"/>
<rect x="413.6" y="105.5" width="0.9" height="0.9" fill="#3a9ad8" opacity="0.46"/>
<rect x="420.0" y="108.5" width="0.9" height="0.9" fill="#2aa6dc" opacity="0.23"/>
<rect x="411.3" y="84.1" width="0.9" height="0.9" fill="#2aa6dc" opacity="0.29"/>
<rect x="405.5" y="115.0" width="0.9" height="0.9" fill="#2aa6dc" opacity="0.26"/>
<rect x="405.7" y="99.2" width="0.9" height="0.9" fill="#3fb8e6" opacity="0.26"/>
<rect x="408.9" y="107.7" width="0.9" height="0.9" fill="#2aa6dc" opacity="0.44"/>
<rect x="414.7" y="97.3" width="0.9" height="0.9" fill="#2aa6dc" opacity="0.46"/>
<rect x="412.5" y="99.5" width="0.9" height="0.9" fill="#3fb8e6" opacity="0.55"/>
<rect x="411.6" y="139.2" width="0.9" height="0.9" fill="#2aa6dc" opacity="0.54"/>
<rect x="418.8" y="123.4" width="0.9" height="0.9" fill="#3a9ad8" opacity="0.21"/>
<rect x="408.5" y="115.4" width="0.9" height="0.9" fill="#3fb8e6" opacity="0.40"/>
<rect x="409.7" y="85.8" width="0.9" height="0.9" fill="#8a86d0" opacity="0.41"/>
<rect x="412.2" y="99.9" width="0.9" height="0.9" fill="#3fb8e6" opacity="0.39"/>
<rect x="410.1" y="121.7" width="0.9" height="0.9" fill="#3a9ad8" opacity="0.35"/>
<rect x="408.5" y="115.4" width="0.9" height="0.9" fill="#3fb8e6" opacity="0.50"/>
<rect x="423.6" y="93.6" width="0.9" height="0.9" fill="#3a9ad8" opacity="0.27"/>
<rect x="411.1" y="108.2" width="0.9" height="0.9" fill="#2aa6dc" opacity="0.46"/>
<rect x="418.6" y="118.8" width="0.9" height="0.9" fill="#3a9ad8" opacity="0.48"/>
<rect x="420.8" y="113.2" width="0.9" height="0.9" fill="#5cc6ee" opacity="0.24"/>
<rect x="413.4" y="112.4" width="0.9" height="0.9" fill="#3fb8e6" opacity="0.51"/>
<rect x="402.7" y="117.6" width="0.9" height="0.9" fill="#2aa6dc" opacity="0.50"/>
<rect x="409.6" y="96.7" width="0.9" height="0.9" fill="#5cc6ee" opacity="0.49"/>
<rect x="417.2" y="101.2" width="0.9" height="0.9" fill="#2aa6dc" opacity="0.23"/>
<rect x="417.9" y="88.9" width="0.9" height="0.9" fill="#5cc6ee" opacity="0.53"/>
<rect x="390.8" y="120.6" width="0.9" height="0.9" fill="#5cc6ee" opacity="0.43"/>
<rect x="409.0" y="98.8" width="0.9" height="0.9" fill="#5cc6ee" opacity="0.33"/>
<rect x="409.3" y="113.7" width="0.9" height="0.9" fill="#3fb8e6" opacity="0.27"/>
<rect x="406.3" y="131.1" width="0.9" height="0.9" fill="#2aa6dc" opacity="0.45"/>
<rect x="422.0" y="123.9" width="0.9" height="0.9" fill="#48bce8" opacity="0.46"/>
<rect x="420.1" y="114.9" width="0.9" height="0.9" fill="#2aa6dc" opacity="0.34"/>
<rect x="405.6" y="88.3" width="0.9" height="0.9" fill="#b7ecfb" opacity="0.36"/>
<rect x="411.5" y="138.8" width="0.9" height="0.9" fill="#2aa6dc" opacity="0.37"/>
<rect x="410.6" y="93.8" width="0.9" height="0.9" fill="#2aa6dc" opacity="0.25"/>
<rect x="421.4" y="114.3" width="0.9" height="0.9" fill="#b7ecfb" opacity="0.43"/>
<rect x="413.7" y="97.4" width="0.9" height="0.9" fill="#8a86d0" opacity="0.53"/>
<rect x="422.9" y="108.3" width="0.9" height="0.9" fill="#3fb8e6" opacity="0.51"/>
<rect x="421.5" y="97.9" width="0.9" height="0.9" fill="#8a86d0" opacity="0.53"/>
<rect x="407.4" y="128.7" width="0.9" height="0.9" fill="#b7ecfb" opacity="0.31"/>
<rect x="405.8" y="112.2" width="0.9" height="0.9" fill="#48bce8" opacity="0.53"/>
<rect x="409.2" y="120.1" width="0.9" height="0.9" fill="#3a9ad8" opacity="0.45"/>
<rect x="400.3" y="114.9" width="0.9" height="0.9" fill="#5cc6ee" opacity="0.36"/>
<rect x="394.4" y="106.4" width="0.9" height="0.9" fill="#5cc6ee" opacity="0.34"/>
<rect x="419.5" y="106.0" width="0.9" height="0.9" fill="#48bce8" opacity="0.32"/>
<rect x="409.8" y="98.6" width="0.9" height="0.9" fill="#8a86d0" opacity="0.43"/>
<rect x="416.4" y="122.9" width="0.9" height="0.9" fill="#8a86d0" opacity="0.25"/>
<rect x="428.7" y="110.1" width="0.9" height="0.9" fill="#5cc6ee" opacity="0.52"/>
<rect x="411.0" y="111.5" width="0.9" height="0.9" fill="#3a9ad8" opacity="0.28"/>
<rect x="410.0" y="99.4" width="0.9" height="0.9" fill="#48bce8" opacity="0.20"/>
<rect x="423.1" y="116.5" width="0.9" height="0.9" fill="#8a86d0" opacity="0.29"/>
<rect x="408.1" y="113.5" width="0.9" height="0.9" fill="#3fb8e6" opacity="0.50"/>
<rect x="417.0" y="105.0" width="0.9" height="0.9" fill="#2aa6dc" opacity="0.47"/>
<rect x="409.3" y="109.3" width="0.9" height="0.9" fill="#b7ecfb" opacity="0.25"/>
<rect x="409.2" y="105.7" width="0.9" height="0.9" fill="#8a86d0" opacity="0.40"/>
<rect x="431.5" y="107.6" width="0.9" height="0.9" fill="#5cc6ee" opacity="0.50"/>
<rect x="405.6" y="111.0" width="0.9" height="0.9" fill="#b7ecfb" opacity="0.41"/>
<rect x="414.9" y="139.6" width="0.9" height="0.9" fill="#48bce8" opacity="0.33"/>
<rect x="407.9" y="116.5" width="0.9" height="0.9" fill="#b7ecfb" opacity="0.28"/>
<rect x="420.3" y="123.1" width="0.9" height="0.9" fill="#3fb8e6" opacity="0.44"/>
<rect x="411.5" y="96.0" width="0.9" height="0.9" fill="#5cc6ee" opacity="0.24"/>
<rect x="411.6" y="99.5" width="0.9" height="0.9" fill="#3fb8e6" opacity="0.44"/>
<rect x="411.3" y="95.8" width="0.9" height="0.9" fill="#48bce8" opacity="0.46"/>
<rect x="411.9" y="116.4" width="0.9" height="0.9" fill="#8a86d0" opacity="0.31"/>
<rect x="408.8" y="110.2" width="0.9" height="0.9" fill="#2aa6dc" opacity="0.47"/>
<rect x="411.7" y="117.6" width="0.9" height="0.9" fill="#8a86d0" opacity="0.46"/>
<rect x="426.0" y="114.7" width="0.9" height="0.9" fill="#5cc6ee" opacity="0.34"/>
<rect x="407.9" y="98.2" width="0.9" height="0.9" fill="#2aa6dc" opacity="0.33"/>
<rect x="405.9" y="108.6" width="0.9" height="0.9" fill="#5cc6ee" opacity="0.30"/>
<rect x="412.4" y="104.1" width="0.9" height="0.9" fill="#2aa6dc" opacity="0.34"/>
<rect x="402.9" y="121.9" width="0.9" height="0.9" fill="#8a86d0" opacity="0.36"/>
<rect x="417.8" y="108.5" width="0.9" height="0.9" fill="#2aa6dc" opacity="0.38"/>
<rect x="416.6" y="113.0" width="0.9" height="0.9" fill="#48bce8" opacity="0.39"/>
<rect x="417.4" y="103.2" width="0.9" height="0.9" fill="#48bce8" opacity="0.46"/>
<rect x="419.6" y="102.6" width="0.9" height="0.9" fill="#3a9ad8" opacity="0.52"/>
<rect x="406.6" y="114.0" width="0.9" height="0.9" fill="#3fb8e6" opacity="0.37"/>
<rect x="415.8" y="116.8" width="0.9" height="0.9" fill="#2aa6dc" opacity="0.34"/>
<rect x="419.7" y="108.0" width="0.9" height="0.9" fill="#3a9ad8" opacity="0.47"/>
<rect x="425.3" y="99.1" width="0.9" height="0.9" fill="#48bce8" opacity="0.47"/>
<rect x="404.7" y="99.9" width="0.9" height="0.9" fill="#5cc6ee" opacity="0.27"/>
<rect x="412.5" y="95.7" width="0.9" height="0.9" fill="#3fb8e6" opacity="0.49"/>
<rect x="418.6" y="109.8" width="0.9" height="0.9" fill="#3a9ad8" opacity="0.37"/>
<rect x="413.4" y="101.3" width="0.9" height="0.9" fill="#3fb8e6" opacity="0.50"/>
<rect x="413.0" y="90.1" width="0.9" height="0.9" fill="#48bce8" opacity="0.30"/>
<rect x="418.9" y="127.4" width="0.9" height="0.9" fill="#8a86d0" opacity="0.42"/>
<rect x="413.1" y="90.2" width="0.9" height="0.9" fill="#3fb8e6" opacity="0.33"/>
<rect x="410.3" y="115.5" width="0.9" height="0.9" fill="#3fb8e6" opacity="0.43"/>
<rect x="408.3" y="105.0" width="0.9" height="0.9" fill="#5cc6ee" opacity="0.40"/>
<rect x="411.9" y="119.9" width="0.9" height="0.9" fill="#3fb8e6" opacity="0.32"/>
<rect x="414.9" y="95.1" width="0.9" height="0.9" fill="#48bce8" opacity="0.52"/>
<rect x="404.2" y="107.2" width="0.9" height="0.9" fill="#b7ecfb" opacity="0.26"/>
<rect x="403.6" y="121.1" width="0.9" height="0.9" fill="#8a86d0" opacity="0.40"/>
<rect x="409.1" y="112.0" width="0.9" height="0.9" fill="#8a86d0" opacity="0.46"/>
<rect x="398.8" y="107.7" width="0.9" height="0.9" fill="#8a86d0" opacity="0.28"/>
<rect x="417.5" y="113.3" width="0.9" height="0.9" fill="#3fb8e6" opacity="0.35"/>
<rect x="409.3" y="127.2" width="0.9" height="0.9" fill="#2aa6dc" opacity="0.31"/>
<rect x="424.9" y="104.9" width="0.9" height="0.9" fill="#5cc6ee" opacity="0.20"/>
<rect x="423.4" y="100.9" width="0.9" height="0.9" fill="#5cc6ee" opacity="0.45"/>
<rect x="405.2" y="110.6" width="0.9" height="0.9" fill="#2aa6dc" opacity="0.45"/>
<rect x="420.0" y="147.1" width="0.9" height="0.9" fill="#8a86d0" opacity="0.20"/>
<rect x="410.8" y="122.5" width="0.9" height="0.9" fill="#2aa6dc" opacity="0.35"/>
<rect x="411.4" y="122.5" width="0.9" height="0.9" fill="#b7ecfb" opacity="0.35"/>
<rect x="407.5" y="99.7" width="0.9" height="0.9" fill="#2aa6dc" opacity="0.38"/>
<rect x="416.7" y="107.6" width="0.9" height="0.9" fill="#b7ecfb" opacity="0.47"/>
<rect x="415.1" y="106.3" width="0.9" height="0.9" fill="#3fb8e6" opacity="0.38"/>
<rect x="405.3" y="99.2" width="0.9" height="0.9" fill="#8a86d0" opacity="0.21"/>
<rect x="412.7" y="95.8" width="0.9" height="0.9" fill="#3a9ad8" opacity="0.32"/>
<rect x="423.0" y="108.2" width="0.9" height="0.9" fill="#b7ecfb" opacity="0.20"/>
<rect x="403.9" y="105.5" width="0.9" height="0.9" fill="#3fb8e6" opacity="0.38"/>
<rect x="410.2" y="100.9" width="0.9" height="0.9" fill="#b7ecfb" opacity="0.21"/>
<rect x="411.4" y="102.5" width="0.9" height="0.9" fill="#b7ecfb" opacity="0.39"/>
<rect x="410.1" y="114.6" width="0.9" height="0.9" fill="#48bce8" opacity="0.33"/>
<rect x="414.6" y="85.4" width="0.9" height="0.9" fill="#8a86d0" opacity="0.37"/>
<rect x="408.8" y="102.6" width="0.9" height="0.9" fill="#b7ecfb" opacity="0.41"/>
<rect x="423.9" y="92.9" width="0.9" height="0.9" fill="#3a9ad8" opacity="0.36"/>
<rect x="410.4" y="118.8" width="0.9" height="0.9" fill="#2aa6dc" opacity="0.24"/>
<rect x="411.3" y="112.7" width="0.9" height="0.9" fill="#b7ecfb" opacity="0.51"/>
<rect x="404.3" y="110.3" width="0.9" height="0.9" fill="#b7ecfb" opacity="0.25"/>
<rect x="416.2" y="100.4" width="0.9" height="0.9" fill="#5cc6ee" opacity="0.38"/>
<rect x="408.5" y="101.2" width="0.9" height="0.9" fill="#3a9ad8" opacity="0.51"/>
<rect x="416.1" y="109.3" width="0.9" height="0.9" fill="#8a86d0" opacity="0.34"/>
<rect x="414.3" y="103.4" width="0.9" height="0.9" fill="#5cc6ee" opacity="0.49"/>
<rect x="410.8" y="77.4" width="0.9" height="0.9" fill="#8a86d0" opacity="0.24"/>
<rect x="416.0" y="122.9" width="0.9" height="0.9" fill="#8a86d0" opacity="0.21"/>
<rect x="417.7" y="99.6" width="0.9" height="0.9" fill="#2aa6dc" opacity="0.47"/>
<rect x="415.9" y="101.1" width="0.9" height="0.9" fill="#b7ecfb" opacity="0.45"/>
<rect x="432.2" y="112.6" width="0.9" height="0.9" fill="#b7ecfb" opacity="0.42"/>
<rect x="422.7" y="93.2" width="0.9" height="0.9" fill="#b7ecfb" opacity="0.24"/>
<rect x="404.9" y="99.7" width="0.9" height="0.9" fill="#b7ecfb" opacity="0.54"/>
<rect x="416.5" y="116.8" width="0.9" height="0.9" fill="#5cc6ee" opacity="0.25"/>
<rect x="420.8" y="107.3" width="0.9" height="0.9" fill="#3a9ad8" opacity="0.42"/>
<rect x="419.3" y="94.6" width="0.9" height="0.9" fill="#3a9ad8" opacity="0.30"/>
<rect x="410.0" y="108.1" width="0.9" height="0.9" fill="#8a86d0" opacity="0.29"/>
<rect x="417.5" y="128.2" width="0.9" height="0.9" fill="#3a9ad8" opacity="0.40"/>
<rect x="406.6" y="111.4" width="0.9" height="0.9" fill="#8a86d0" opacity="0.21"/>
<rect x="404.2" y="103.2" width="0.9" height="0.9" fill="#3fb8e6" opacity="0.39"/>
<rect x="413.7" y="115.2" width="0.9" height="0.9" fill="#3fb8e6" opacity="0.28"/>
<rect x="405.8" y="126.5" width="0.9" height="0.9" fill="#b7ecfb" opacity="0.27"/>
<rect x="412.7" y="122.2" width="0.9" height="0.9" fill="#8a86d0" opacity="0.21"/>
<rect x="411.8" y="118.7" width="0.9" height="0.9" fill="#2aa6dc" opacity="0.51"/>
<rect x="408.0" y="113.0" width="0.9" height="0.9" fill="#2aa6dc" opacity="0.47"/>
<rect x="416.4" y="120.9" width="0.9" height="0.9" fill="#48bce8" opacity="0.34"/>
<rect x="409.1" y="127.0" width="0.9" height="0.9" fill="#b7ecfb" opacity="0.44"/>
<rect x="418.9" y="94.9" width="0.9" height="0.9" fill="#b7ecfb" opacity="0.36"/>
<rect x="408.7" y="97.2" width="0.9" height="0.9" fill="#48bce8" opacity="0.32"/>
<rect x="405.0" y="121.0" width="0.9" height="0.9" fill="#3a9ad8" opacity="0.49"/>
<rect x="407.7" y="109.3" width="0.9" height="0.9" fill="#3a9ad8" opacity="0.24"/>
<rect x="406.4" y="109.9" width="0.9" height="0.9" fill="#2aa6dc" opacity="0.38"/>
<rect x="405.1" y="109.5" width="0.9" height="0.9" fill="#3a9ad8" opacity="0.25"/>
<rect x="417.6" y="94.3" width="0.9" height="0.9" fill="#8a86d0" opacity="0.45"/>
<rect x="417.6" y="107.1" width="0.9" height="0.9" fill="#2aa6dc" opacity="0.28"/>
<rect x="431.1" y="76.7" width="0.9" height="0.9" fill="#48bce8" opacity="0.30"/>
<rect x="413.0" y="127.9" width="0.9" height="0.9" fill="#48bce8" opacity="0.38"/>
<rect x="409.8" y="86.8" width="0.9" height="0.9" fill="#8a86d0" opacity="0.53"/>
<rect x="418.4" y="111.7" width="0.9" height="0.9" fill="#3a9ad8" opacity="0.35"/>
<rect x="414.8" y="101.2" width="0.9" height="0.9" fill="#2aa6dc" opacity="0.51"/>
<rect x="407.9" y="100.4" width="0.9" height="0.9" fill="#48bce8" opacity="0.32"/>
<rect x="407.1" y="115.1" width="0.9" height="0.9" fill="#2aa6dc" opacity="0.48"/>
<rect x="414.3" y="127.1" width="0.9" height="0.9" fill="#2aa6dc" opacity="0.35"/>
<rect x="412.1" y="138.0" width="0.9" height="0.9" fill="#8a86d0" opacity="0.24"/>
<rect x="408.7" y="118.8" width="0.9" height="0.9" fill="#48bce8" opacity="0.29"/>
<rect x="411.1" y="103.3" width="0.9" height="0.9" fill="#8a86d0" opacity="0.40"/>
<rect x="401.0" y="111.1" width="0.9" height="0.9" fill="#2aa6dc" opacity="0.51"/>
<rect x="408.1" y="111.5" width="0.9" height="0.9" fill="#8a86d0" opacity="0.38"/>
<rect x="403.8" y="107.5" width="0.9" height="0.9" fill="#3fb8e6" opacity="0.35"/>
<rect x="419.9" y="126.7" width="0.9" height="0.9" fill="#8a86d0" opacity="0.41"/>
<rect x="410.1" y="96.1" width="0.9" height="0.9" fill="#3a9ad8" opacity="0.40"/>
<rect x="411.0" y="110.1" width="0.9" height="0.9" fill="#3fb8e6" opacity="0.34"/>
<rect x="415.7" y="111.6" width="0.9" height="0.9" fill="#2aa6dc" opacity="0.24"/>
<rect x="410.4" y="110.0" width="0.9" height="0.9" fill="#b7ecfb" opacity="0.51"/>
<rect x="405.6" y="116.3" width="0.9" height="0.9" fill="#5cc6ee" opacity="0.23"/>
<rect x="413.1" y="123.9" width="0.9" height="0.9" fill="#2aa6dc" opacity="0.38"/>
<rect x="421.0" y="97.6" width="0.9" height="0.9" fill="#b7ecfb" opacity="0.24"/>
<rect x="412.6" y="131.4" width="0.9" height="0.9" fill="#3fb8e6" opacity="0.33"/>
<rect x="409.6" y="100.6" width="0.9" height="0.9" fill="#2aa6dc" opacity="0.35"/>
<rect x="407.2" y="104.0" width="0.9" height="0.9" fill="#48bce8" opacity="0.28"/>
<rect x="410.4" y="127.2" width="0.9" height="0.9" fill="#3fb8e6" opacity="0.53"/>
<rect x="415.9" y="101.5" width="0.9" height="0.9" fill="#48bce8" opacity="0.29"/>
<rect x="407.9" y="116.3" width="0.9" height="0.9" fill="#b7ecfb" opacity="0.33"/>
<rect x="404.0" y="96.0" width="0.9" height="0.9" fill="#8a86d0" opacity="0.55"/>
<rect x="412.5" y="103.2" width="0.9" height="0.9" fill="#b7ecfb" opacity="0.51"/>
<rect x="414.5" y="134.1" width="0.9" height="0.9" fill="#5cc6ee" opacity="0.50"/>
<rect x="421.3" y="129.3" width="0.9" height="0.9" fill="#5cc6ee" opacity="0.42"/>
<rect x="405.0" y="86.5" width="0.9" height="0.9" fill="#5cc6ee" opacity="0.28"/>
<rect x="420.9" y="115.7" width="0.9" height="0.9" fill="#2aa6dc" opacity="0.22"/>
<rect x="422.1" y="112.5" width="0.9" height="0.9" fill="#5cc6ee" opacity="0.38"/>
<rect x="414.3" y="107.0" width="0.9" height="0.9" fill="#48bce8" opacity="0.32"/>
<rect x="424.0" y="121.1" width="0.9" height="0.9" fill="#3fb8e6" opacity="0.32"/>
<rect x="414.2" y="116.2" width="0.9" height="0.9" fill="#3fb8e6" opacity="0.34"/>
<rect x="417.0" y="119.2" width="0.9" height="0.9" fill="#3a9ad8" opacity="0.39"/>
<rect x="415.5" y="88.8" width="0.9" height="0.9" fill="#5cc6ee" opacity="0.47"/>
<rect x="407.1" y="111.0" width="0.9" height="0.9" fill="#3fb8e6" opacity="0.52"/>
<rect x="418.4" y="105.8" width="0.9" height="0.9" fill="#3a9ad8" opacity="0.37"/>
<rect x="413.8" y="106.8" width="0.9" height="0.9" fill="#8a86d0" opacity="0.30"/>
<rect x="415.7" y="122.4" width="0.9" height="0.9" fill="#b7ecfb" opacity="0.22"/>
<rect x="418.8" y="90.5" width="0.9" height="0.9" fill="#48bce8" opacity="0.42"/>
<rect x="411.6" y="111.7" width="0.9" height="0.9" fill="#8a86d0" opacity="0.32"/>
<rect x="414.0" y="115.6" width="0.9" height="0.9" fill="#8a86d0" opacity="0.51"/>
<rect x="412.5" y="97.5" width="0.9" height="0.9" fill="#b7ecfb" opacity="0.46"/>
<rect x="413.6" y="96.9" width="0.9" height="0.9" fill="#2aa6dc" opacity="0.29"/>
<rect x="409.8" y="99.0" width="0.9" height="0.9" fill="#b7ecfb" opacity="0.45"/>
<rect x="407.0" y="96.9" width="0.9" height="0.9" fill="#3a9ad8" opacity="0.21"/>
<rect x="407.3" y="103.2" width="0.9" height="0.9" fill="#8a86d0" opacity="0.39"/>
<rect x="421.5" y="100.3" width="0.9" height="0.9" fill="#48bce8" opacity="0.43"/>
<rect x="409.2" y="110.8" width="0.9" height="0.9" fill="#48bce8" opacity="0.53"/>
<rect x="412.1" y="114.4" width="0.9" height="0.9" fill="#8a86d0" opacity="0.51"/>
<rect x="397.3" y="115.8" width="0.9" height="0.9" fill="#b7ecfb" opacity="0.24"/>
<rect x="415.9" y="100.6" width="0.9" height="0.9" fill="#3a9ad8" opacity="0.27"/>
<rect x="415.4" y="120.8" width="0.9" height="0.9" fill="#8a86d0" opacity="0.32"/>
<rect x="409.6" y="124.6" width="0.9" height="0.9" fill="#8a86d0" opacity="0.26"/>
<rect x="410.1" y="107.6" width="0.9" height="0.9" fill="#3a9ad8" opacity="0.41"/>
<rect x="416.7" y="89.6" width="0.9" height="0.9" fill="#2aa6dc" opacity="0.33"/>
<rect x="412.1" y="96.3" width="0.9" height="0.9" fill="#8a86d0" opacity="0.42"/>
<rect x="410.9" y="106.0" width="0.9" height="0.9" fill="#b7ecfb" opacity="0.52"/>
<rect x="404.6" y="113.7" width="0.9" height="0.9" fill="#8a86d0" opacity="0.36"/>
<rect x="411.5" y="108.3" width="0.9" height="0.9" fill="#2aa6dc" opacity="0.38"/>
<rect x="405.3" y="107.1" width="0.9" height="0.9" fill="#8a86d0" opacity="0.22"/>
<rect x="422.5" y="114.4" width="0.9" height="0.9" fill="#5cc6ee" opacity="0.45"/>
<rect x="415.6" y="108.1" width="0.9" height="0.9" fill="#8a86d0" opacity="0.37"/>
<rect x="415.2" y="97.3" width="0.9" height="0.9" fill="#2aa6dc" opacity="0.31"/>
<rect x="400.3" y="116.0" width="0.9" height="0.9" fill="#3a9ad8" opacity="0.31"/>
<rect x="418.3" y="98.0" width="0.9" height="0.9" fill="#b7ecfb" opacity="0.54"/>
<rect x="407.5" y="105.2" width="0.9" height="0.9" fill="#3fb8e6" opacity="0.20"/>
<rect x="415.6" y="119.8" width="0.9" height="0.9" fill="#3fb8e6" opacity="0.39"/>
<rect x="407.5" y="116.0" width="0.9" height="0.9" fill="#3fb8e6" opacity="0.40"/>
<rect x="414.7" y="104.0" width="0.9" height="0.9" fill="#48bce8" opacity="0.26"/>
<rect x="411.7" y="80.8" width="0.9" height="0.9" fill="#48bce8" opacity="0.42"/>
<rect x="410.1" y="109.2" width="0.9" height="0.9" fill="#8a86d0" opacity="0.21"/>
<rect x="413.9" y="129.2" width="0.9" height="0.9" fill="#b7ecfb" opacity="0.26"/>
<rect x="417.9" y="111.9" width="0.9" height="0.9" fill="#2aa6dc" opacity="0.39"/>
<rect x="422.2" y="124.0" width="0.9" height="0.9" fill="#3a9ad8" opacity="0.40"/>
<rect x="413.4" y="111.1" width="0.9" height="0.9" fill="#8a86d0" opacity="0.31"/>
<rect x="411.8" y="101.0" width="0.9" height="0.9" fill="#5cc6ee" opacity="0.51"/>
<rect x="412.8" y="95.6" width="0.9" height="0.9" fill="#3fb8e6" opacity="0.39"/>
<rect x="416.9" y="116.1" width="0.9" height="0.9" fill="#b7ecfb" opacity="0.25"/>
<rect x="413.7" y="127.8" width="0.9" height="0.9" fill="#b7ecfb" opacity="0.44"/>
<rect x="408.5" y="86.6" width="0.9" height="0.9" fill="#8a86d0" opacity="0.25"/>
<rect x="415.4" y="117.6" width="0.9" height="0.9" fill="#2aa6dc" opacity="0.32"/>
<rect x="414.6" y="91.3" width="0.9" height="0.9" fill="#8a86d0" opacity="0.21"/>
<rect x="411.1" y="123.3" width="0.9" height="0.9" fill="#5cc6ee" opacity="0.21"/>
<rect x="397.2" y="132.5" width="0.9" height="0.9" fill="#5cc6ee" opacity="0.27"/>
<rect x="413.6" y="110.0" width="0.9" height="0.9" fill="#8a86d0" opacity="0.24"/>
<rect x="416.2" y="125.5" width="0.9" height="0.9" fill="#2aa6dc" opacity="0.20"/>
<rect x="415.9" y="113.7" width="0.9" height="0.9" fill="#2aa6dc" opacity="0.54"/>
<rect x="407.1" y="118.9" width="0.9" height="0.9" fill="#3a9ad8" opacity="0.26"/>
<rect x="415.2" y="108.2" width="0.9" height="0.9" fill="#3a9ad8" opacity="0.31"/>
<rect x="414.0" y="112.2" width="0.9" height="0.9" fill="#48bce8" opacity="0.41"/>
<rect x="413.7" y="111.3" width="0.9" height="0.9" fill="#3fb8e6" opacity="0.25"/>
<rect x="418.1" y="97.2" width="0.9" height="0.9" fill="#5cc6ee" opacity="0.40"/>
<rect x="409.2" y="116.5" width="0.9" height="0.9" fill="#5cc6ee" opacity="0.50"/>
<rect x="398.4" y="99.2" width="0.9" height="0.9" fill="#b7ecfb" opacity="0.43"/>
<rect x="421.0" y="128.7" width="0.9" height="0.9" fill="#3fb8e6" opacity="0.46"/>
<rect x="427.9" y="110.0" width="0.9" height="0.9" fill="#3a9ad8" opacity="0.43"/>
<rect x="416.2" y="97.1" width="0.9" height="0.9" fill="#5cc6ee" opacity="0.53"/>
<rect x="427.2" y="108.5" width="0.9" height="0.9" fill="#3a9ad8" opacity="0.29"/>
<rect x="405.4" y="101.3" width="0.9" height="0.9" fill="#48bce8" opacity="0.40"/>
<rect x="406.3" y="113.1" width="0.9" height="0.9" fill="#48bce8" opacity="0.40"/>
<rect x="420.7" y="88.7" width="0.9" height="0.9" fill="#5cc6ee" opacity="0.25"/>
<rect x="411.8" y="135.1" width="0.9" height="0.9" fill="#3a9ad8" opacity="0.34"/>
<rect x="420.3" y="136.8" width="0.9" height="0.9" fill="#48bce8" opacity="0.29"/>
<rect x="406.9" y="116.4" width="0.9" height="0.9" fill="#3a9ad8" opacity="0.35"/>
<rect x="403.5" y="105.9" width="0.9" height="0.9" fill="#3fb8e6" opacity="0.22"/>
<rect x="412.4" y="104.7" width="0.9" height="0.9" fill="#3a9ad8" opacity="0.39"/>
<rect x="408.0" y="84.3" width="0.9" height="0.9" fill="#48bce8" opacity="0.43"/>
<rect x="399.6" y="112.0" width="0.9" height="0.9" fill="#3a9ad8" opacity="0.21"/>
<rect x="411.6" y="109.2" width="0.9" height="0.9" fill="#5cc6ee" opacity="0.43"/>
<rect x="397.2" y="110.3" width="0.9" height="0.9" fill="#2aa6dc" opacity="0.23"/>
<rect x="423.8" y="102.6" width="0.9" height="0.9" fill="#8a86d0" opacity="0.51"/>
<rect x="408.4" y="98.5" width="0.9" height="0.9" fill="#3a9ad8" opacity="0.32"/>
<rect x="407.6" y="91.1" width="0.9" height="0.9" fill="#3fb8e6" opacity="0.51"/>
<rect x="413.9" y="98.3" width="0.9" height="0.9" fill="#8a86d0" opacity="0.39"/>
<rect x="407.8" y="118.5" width="0.9" height="0.9" fill="#2aa6dc" opacity="0.33"/>
<rect x="409.9" y="90.5" width="0.9" height="0.9" fill="#48bce8" opacity="0.22"/>
<rect x="420.0" y="127.1" width="0.9" height="0.9" fill="#3fb8e6" opacity="0.53"/>
<rect x="423.2" y="101.0" width="0.9" height="0.9" fill="#2aa6dc" opacity="0.50"/>
<rect x="412.6" y="112.5" width="0.9" height="0.9" fill="#b7ecfb" opacity="0.52"/>
<rect x="407.3" y="95.6" width="0.9" height="0.9" fill="#5cc6ee" opacity="0.42"/>
<rect x="409.3" y="117.1" width="0.9" height="0.9" fill="#48bce8" opacity="0.35"/>
<rect x="413.6" y="106.9" width="0.9" height="0.9" fill="#3a9ad8" opacity="0.23"/>
<rect x="406.0" y="111.3" width="0.9" height="0.9" fill="#3fb8e6" opacity="0.46"/>
<rect x="407.4" y="125.1" width="0.9" height="0.9" fill="#5cc6ee" opacity="0.34"/>
<rect x="410.7" y="95.8" width="0.9" height="0.9" fill="#2aa6dc" opacity="0.33"/>
<rect x="415.9" y="100.7" width="0.9" height="0.9" fill="#3a9ad8" opacity="0.42"/>
<rect x="411.9" y="103.6" width="0.9" height="0.9" fill="#3fb8e6" opacity="0.38"/>
<rect x="428.9" y="138.0" width="0.9" height="0.9" fill="#2aa6dc" opacity="0.25"/>
<rect x="404.1" y="114.7" width="0.9" height="0.9" fill="#b7ecfb" opacity="0.54"/>
<rect x="419.1" y="85.3" width="0.9" height="0.9" fill="#8a86d0" opacity="0.22"/>
<rect x="423.9" y="118.0" width="0.9" height="0.9" fill="#5cc6ee" opacity="0.38"/>
<rect x="415.1" y="100.5" width="0.9" height="0.9" fill="#5cc6ee" opacity="0.35"/>
<rect x="414.4" y="114.4" width="0.9" height="0.9" fill="#3fb8e6" opacity="0.54"/>
<rect x="418.9" y="97.4" width="0.9" height="0.9" fill="#5cc6ee" opacity="0.42"/>
<rect x="411.5" y="115.8" width="0.9" height="0.9" fill="#48bce8" opacity="0.31"/>
<rect x="408.8" y="131.9" width="0.9" height="0.9" fill="#2aa6dc" opacity="0.22"/>
<rect x="398.6" y="99.3" width="0.9" height="0.9" fill="#5cc6ee" opacity="0.39"/>
<rect x="408.9" y="109.6" width="0.9" height="0.9" fill="#3fb8e6" opacity="0.54"/>
<rect x="413.5" y="94.8" width="0.9" height="0.9" fill="#3fb8e6" opacity="0.52"/>
<rect x="422.9" y="111.0" width="0.9" height="0.9" fill="#48bce8" opacity="0.53"/>
<rect x="414.1" y="112.5" width="0.9" height="0.9" fill="#3a9ad8" opacity="0.26"/>
<rect x="407.1" y="112.8" width="0.9" height="0.9" fill="#2aa6dc" opacity="0.51"/>
<rect x="411.0" y="137.5" width="0.9" height="0.9" fill="#48bce8" opacity="0.43"/>
<rect x="411.8" y="106.7" width="0.9" height="0.9" fill="#3a9ad8" opacity="0.42"/>
<rect x="400.0" y="90.5" width="0.9" height="0.9" fill="#3a9ad8" opacity="0.20"/>
<rect x="410.7" y="107.5" width="0.9" height="0.9" fill="#3fb8e6" opacity="0.48"/>
<rect x="413.1" y="119.6" width="0.9" height="0.9" fill="#3fb8e6" opacity="0.39"/>
<rect x="419.8" y="122.5" width="0.9" height="0.9" fill="#2aa6dc" opacity="0.45"/>
<rect x="413.7" y="122.2" width="0.9" height="0.9" fill="#2aa6dc" opacity="0.41"/>
<rect x="412.7" y="114.8" width="0.9" height="0.9" fill="#8a86d0" opacity="0.22"/>
<rect x="413.7" y="125.9" width="0.9" height="0.9" fill="#3a9ad8" opacity="0.52"/>
<rect x="405.0" y="98.7" width="0.9" height="0.9" fill="#3fb8e6" opacity="0.51"/>
<rect x="421.8" y="104.7" width="0.9" height="0.9" fill="#48bce8" opacity="0.28"/>
<rect x="412.3" y="100.5" width="0.9" height="0.9" fill="#3fb8e6" opacity="0.43"/>
<rect x="416.2" y="109.4" width="0.9" height="0.9" fill="#8a86d0" opacity="0.27"/>
<rect x="411.2" y="110.3" width="0.9" height="0.9" fill="#5cc6ee" opacity="0.51"/>
<rect x="404.3" y="88.0" width="0.9" height="0.9" fill="#3fb8e6" opacity="0.24"/>
<rect x="407.0" y="117.5" width="0.9" height="0.9" fill="#5cc6ee" opacity="0.47"/>
<rect x="407.8" y="109.2" width="0.9" height="0.9" fill="#b7ecfb" opacity="0.50"/>
<rect x="416.9" y="110.3" width="0.9" height="0.9" fill="#8a86d0" opacity="0.49"/>
<rect x="404.5" y="104.0" width="0.9" height="0.9" fill="#2aa6dc" opacity="0.39"/>
<rect x="410.5" y="96.9" width="0.9" height="0.9" fill="#8a86d0" opacity="0.37"/>
<rect x="404.9" y="99.7" width="0.9" height="0.9" fill="#5cc6ee" opacity="0.32"/>
<rect x="411.2" y="106.1" width="0.9" height="0.9" fill="#3a9ad8" opacity="0.24"/>
<rect x="405.2" y="113.6" width="0.9" height="0.9" fill="#3a9ad8" opacity="0.42"/>
<rect x="414.1" y="124.8" width="0.9" height="0.9" fill="#3a9ad8" opacity="0.44"/>
<rect x="399.7" y="92.1" width="0.9" height="0.9" fill="#3a9ad8" opacity="0.49"/>
<rect x="393.9" y="103.7" width="0.9" height="0.9" fill="#3a9ad8" opacity="0.35"/>
<rect x="415.6" y="114.5" width="0.9" height="0.9" fill="#3a9ad8" opacity="0.24"/>
<rect x="415.5" y="98.2" width="0.9" height="0.9" fill="#2aa6dc" opacity="0.44"/>
<rect x="410.4" y="125.4" width="0.9" height="0.9" fill="#5cc6ee" opacity="0.26"/>
<rect x="404.5" y="110.7" width="0.9" height="0.9" fill="#48bce8" opacity="0.31"/>
<rect x="411.9" y="139.9" width="0.9" height="0.9" fill="#2aa6dc" opacity="0.51"/>
<rect x="418.7" y="121.7" width="0.9" height="0.9" fill="#3fb8e6" opacity="0.52"/>
<rect x="407.2" y="88.6" width="0.9" height="0.9" fill="#8a86d0" opacity="0.23"/>
<rect x="411.1" y="135.7" width="0.9" height="0.9" fill="#3fb8e6" opacity="0.27"/>
<rect x="414.9" y="122.1" width="0.9" height="0.9" fill="#5cc6ee" opacity="0.22"/>
<rect x="417.6" y="91.3" width="0.9" height="0.9" fill="#b7ecfb" opacity="0.24"/>
<rect x="411.1" y="102.0" width="0.9" height="0.9" fill="#3fb8e6" opacity="0.27"/>
<rect x="396.4" y="122.1" width="0.9" height="0.9" fill="#5cc6ee" opacity="0.27"/>
<rect x="422.7" y="120.4" width="0.9" height="0.9" fill="#5cc6ee" opacity="0.25"/>
<rect x="418.6" y="90.5" width="0.9" height="0.9" fill="#8a86d0" opacity="0.37"/>
<rect x="399.9" y="123.6" width="0.9" height="0.9" fill="#8a86d0" opacity="0.23"/>
<rect x="410.9" y="123.6" width="0.9" height="0.9" fill="#3a9ad8" opacity="0.26"/>
<rect x="412.4" y="103.1" width="0.9" height="0.9" fill="#2aa6dc" opacity="0.52"/>
<rect x="413.5" y="95.8" width="0.9" height="0.9" fill="#3fb8e6" opacity="0.38"/>
<rect x="412.6" y="116.0" width="0.9" height="0.9" fill="#3a9ad8" opacity="0.33"/>
<rect x="409.1" y="117.3" width="0.9" height="0.9" fill="#3a9ad8" opacity="0.48"/>
<rect x="418.0" y="88.9" width="0.9" height="0.9" fill="#8a86d0" opacity="0.39"/>
<rect x="425.1" y="83.6" width="0.9" height="0.9" fill="#5cc6ee" opacity="0.27"/>
<rect x="401.7" y="113.8" width="0.9" height="0.9" fill="#3a9ad8" opacity="0.46"/>
<rect x="411.0" y="98.3" width="0.9" height="0.9" fill="#3fb8e6" opacity="0.41"/>
<rect x="406.0" y="107.2" width="0.9" height="0.9" fill="#3a9ad8" opacity="0.38"/>
<rect x="416.1" y="107.1" width="0.9" height="0.9" fill="#3a9ad8" opacity="0.32"/>
<rect x="429.6" y="111.4" width="0.9" height="0.9" fill="#3a9ad8" opacity="0.29"/>
<rect x="406.1" y="93.9" width="0.9" height="0.9" fill="#3fb8e6" opacity="0.50"/>
<rect x="415.0" y="127.4" width="0.9" height="0.9" fill="#3a9ad8" opacity="0.52"/>
<rect x="410.5" y="92.5" width="0.9" height="0.9" fill="#5cc6ee" opacity="0.33"/>
<rect x="407.7" y="117.6" width="0.9" height="0.9" fill="#8a86d0" opacity="0.43"/>
<rect x="419.2" y="107.0" width="0.9" height="0.9" fill="#b7ecfb" opacity="0.37"/>
<rect x="416.5" y="113.2" width="0.9" height="0.9" fill="#8a86d0" opacity="0.40"/>
<rect x="419.7" y="125.0" width="0.9" height="0.9" fill="#5cc6ee" opacity="0.37"/>
<rect x="414.4" y="106.5" width="0.9" height="0.9" fill="#b7ecfb" opacity="0.22"/>
<rect x="413.9" y="121.5" width="0.9" height="0.9" fill="#3a9ad8" opacity="0.48"/>
<rect x="426.2" y="111.8" width="0.9" height="0.9" fill="#3fb8e6" opacity="0.27"/>
<rect x="409.3" y="103.7" width="0.9" height="0.9" fill="#48bce8" opacity="0.35"/>
<rect x="426.4" y="94.1" width="0.9" height="0.9" fill="#48bce8" opacity="0.22"/>
<rect x="411.8" y="92.6" width="0.9" height="0.9" fill="#8a86d0" opacity="0.45"/>
<rect x="407.2" y="127.2" width="0.9" height="0.9" fill="#b7ecfb" opacity="0.50"/>
<rect x="410.8" y="91.2" width="0.9" height="0.9" fill="#48bce8" opacity="0.30"/>
<rect x="411.7" y="108.7" width="0.9" height="0.9" fill="#48bce8" opacity="0.23"/>
<rect x="404.7" y="103.8" width="0.9" height="0.9" fill="#5cc6ee" opacity="0.26"/>
<rect x="410.7" y="99.6" width="0.9" height="0.9" fill="#3a9ad8" opacity="0.49"/>
<rect x="419.3" y="130.3" width="0.9" height="0.9" fill="#3a9ad8" opacity="0.47"/>
<rect x="401.1" y="116.0" width="0.9" height="0.9" fill="#3a9ad8" opacity="0.24"/>
<rect x="417.3" y="101.1" width="0.9" height="0.9" fill="#48bce8" opacity="0.39"/>
<rect x="415.2" y="127.2" width="0.9" height="0.9" fill="#5cc6ee" opacity="0.37"/>
<rect x="419.8" y="94.8" width="0.9" height="0.9" fill="#3fb8e6" opacity="0.45"/>
<rect x="405.7" y="110.3" width="0.9" height="0.9" fill="#48bce8" opacity="0.38"/>
<rect x="408.1" y="115.7" width="0.9" height="0.9" fill="#5cc6ee" opacity="0.41"/>
<rect x="411.6" y="90.0" width="0.9" height="0.9" fill="#2aa6dc" opacity="0.45"/>
<rect x="408.8" y="107.9" width="0.9" height="0.9" fill="#2aa6dc" opacity="0.45"/>
<rect x="404.6" y="123.2" width="0.9" height="0.9" fill="#3fb8e6" opacity="0.49"/>
<rect x="410.3" y="124.2" width="0.9" height="0.9" fill="#2aa6dc" opacity="0.44"/>
<rect x="405.9" y="111.7" width="0.9" height="0.9" fill="#3a9ad8" opacity="0.30"/>
<rect x="409.3" y="104.9" width="0.9" height="0.9" fill="#3fb8e6" opacity="0.46"/>
<rect x="415.8" y="98.5" width="0.9" height="0.9" fill="#48bce8" opacity="0.33"/>
<rect x="406.8" y="113.7" width="0.9" height="0.9" fill="#48bce8" opacity="0.22"/>
<rect x="412.2" y="104.3" width="0.9" height="0.9" fill="#3a9ad8" opacity="0.53"/>
<rect x="412.2" y="104.2" width="0.9" height="0.9" fill="#5cc6ee" opacity="0.51"/>
<rect x="416.7" y="110.6" width="0.9" height="0.9" fill="#5cc6ee" opacity="0.23"/>
<rect x="398.6" y="141.6" width="0.9" height="0.9" fill="#b7ecfb" opacity="0.50"/>
<rect x="394.1" y="114.3" width="0.9" height="0.9" fill="#2aa6dc" opacity="0.36"/>
<rect x="411.6" y="117.3" width="0.9" height="0.9" fill="#3fb8e6" opacity="0.31"/>
<rect x="422.8" y="77.2" width="0.9" height="0.9" fill="#2aa6dc" opacity="0.28"/>
<rect x="408.7" y="114.0" width="0.9" height="0.9" fill="#3a9ad8" opacity="0.25"/>
<rect x="414.0" y="108.4" width="0.9" height="0.9" fill="#5cc6ee" opacity="0.29"/>
<rect x="410.7" y="110.6" width="0.9" height="0.9" fill="#3fb8e6" opacity="0.23"/>
<rect x="409.6" y="136.8" width="0.9" height="0.9" fill="#2aa6dc" opacity="0.53"/>
<rect x="417.5" y="100.5" width="0.9" height="0.9" fill="#2aa6dc" opacity="0.46"/>
<rect x="419.8" y="96.0" width="0.9" height="0.9" fill="#2aa6dc" opacity="0.24"/>
<rect x="409.6" y="127.8" width="0.9" height="0.9" fill="#3fb8e6" opacity="0.37"/>
<rect x="401.8" y="107.3" width="0.9" height="0.9" fill="#5cc6ee" opacity="0.42"/>
<rect x="407.9" y="106.2" width="0.9" height="0.9" fill="#8a86d0" opacity="0.55"/>
<rect x="415.4" y="123.5" width="0.9" height="0.9" fill="#3a9ad8" opacity="0.32"/>
<rect x="401.9" y="105.9" width="0.9" height="0.9" fill="#8a86d0" opacity="0.42"/>
<rect x="422.6" y="104.4" width="0.9" height="0.9" fill="#2aa6dc" opacity="0.30"/>
<rect x="410.5" y="109.2" width="0.9" height="0.9" fill="#3fb8e6" opacity="0.29"/>
<rect x="409.7" y="108.0" width="0.9" height="0.9" fill="#2aa6dc" opacity="0.27"/>
<rect x="413.0" y="92.7" width="0.9" height="0.9" fill="#5cc6ee" opacity="0.50"/>
<rect x="408.6" y="109.4" width="0.9" height="0.9" fill="#48bce8" opacity="0.44"/>
<rect x="425.7" y="115.6" width="0.9" height="0.9" fill="#3a9ad8" opacity="0.34"/>
<rect x="406.5" y="117.4" width="0.9" height="0.9" fill="#48bce8" opacity="0.48"/>
<rect x="406.0" y="110.0" width="0.9" height="0.9" fill="#3fb8e6" opacity="0.41"/>
<rect x="404.5" y="126.4" width="0.9" height="0.9" fill="#b7ecfb" opacity="0.52"/>
<rect x="405.1" y="97.4" width="0.9" height="0.9" fill="#3fb8e6" opacity="0.36"/>
<rect x="414.6" y="122.8" width="0.9" height="0.9" fill="#b7ecfb" opacity="0.25"/>
<rect x="406.7" y="123.7" width="0.9" height="0.9" fill="#3a9ad8" opacity="0.37"/>
<rect x="412.7" y="121.7" width="0.9" height="0.9" fill="#2aa6dc" opacity="0.48"/>
<rect x="410.0" y="110.3" width="0.9" height="0.9" fill="#b7ecfb" opacity="0.30"/>
<rect x="411.8" y="102.7" width="0.9" height="0.9" fill="#8a86d0" opacity="0.44"/>
<rect x="415.9" y="72.1" width="0.9" height="0.9" fill="#3a9ad8" opacity="0.22"/>
<rect x="416.2" y="110.2" width="0.9" height="0.9" fill="#2aa6dc" opacity="0.45"/>
<rect x="409.3" y="115.0" width="0.9" height="0.9" fill="#48bce8" opacity="0.22"/>
<rect x="408.7" y="99.6" width="0.9" height="0.9" fill="#8a86d0" opacity="0.38"/>
<rect x="410.5" y="110.2" width="0.9" height="0.9" fill="#3a9ad8" opacity="0.30"/>
<rect x="413.2" y="89.2" width="0.9" height="0.9" fill="#3a9ad8" opacity="0.51"/>
<rect x="401.0" y="94.1" width="0.9" height="0.9" fill="#8a86d0" opacity="0.27"/>
<rect x="420.1" y="115.7" width="0.9" height="0.9" fill="#3fb8e6" opacity="0.38"/>
<rect x="410.1" y="120.1" width="0.9" height="0.9" fill="#5cc6ee" opacity="0.28"/>
<rect x="421.5" y="109.2" width="0.9" height="0.9" fill="#8a86d0" opacity="0.40"/>
<rect x="409.0" y="123.0" width="0.9" height="0.9" fill="#3a9ad8" opacity="0.45"/>
<rect x="407.8" y="108.4" width="0.9" height="0.9" fill="#5cc6ee" opacity="0.54"/>
<rect x="411.0" y="122.7" width="0.9" height="0.9" fill="#48bce8" opacity="0.31"/>
<rect x="417.1" y="108.8" width="0.9" height="0.9" fill="#b7ecfb" opacity="0.23"/>
<rect x="408.3" y="117.7" width="0.9" height="0.9" fill="#3a9ad8" opacity="0.37"/>
<rect x="415.1" y="105.7" width="0.9" height="0.9" fill="#48bce8" opacity="0.38"/>
<rect x="415.8" y="124.5" width="0.9" height="0.9" fill="#2aa6dc" opacity="0.38"/>
<rect x="413.9" y="123.0" width="0.9" height="0.9" fill="#5cc6ee" opacity="0.32"/>
<rect x="403.8" y="80.3" width="0.9" height="0.9" fill="#3a9ad8" opacity="0.20"/>
<rect x="406.8" y="102.5" width="0.9" height="0.9" fill="#5cc6ee" opacity="0.48"/>
<rect x="416.0" y="110.6" width="0.9" height="0.9" fill="#b7ecfb" opacity="0.48"/>
<rect x="404.3" y="115.3" width="0.9" height="0.9" fill="#8a86d0" opacity="0.24"/>
<rect x="411.3" y="96.5" width="0.9" height="0.9" fill="#3a9ad8" opacity="0.38"/>
<rect x="424.1" y="106.6" width="0.9" height="0.9" fill="#8a86d0" opacity="0.38"/>
<rect x="419.6" y="96.4" width="0.9" height="0.9" fill="#5cc6ee" opacity="0.35"/>
<rect x="404.1" y="104.4" width="0.9" height="0.9" fill="#8a86d0" opacity="0.46"/>
<rect x="414.6" y="106.1" width="0.9" height="0.9" fill="#b7ecfb" opacity="0.20"/>
<rect x="411.6" y="122.8" width="0.9" height="0.9" fill="#2aa6dc" opacity="0.44"/>
<rect x="405.7" y="104.7" width="0.9" height="0.9" fill="#3a9ad8" opacity="0.46"/>
<rect x="416.1" y="121.1" width="0.9" height="0.9" fill="#8a86d0" opacity="0.46"/>
<rect x="413.0" y="118.2" width="0.9" height="0.9" fill="#b7ecfb" opacity="0.32"/>
<rect x="419.7" y="109.5" width="0.9" height="0.9" fill="#8a86d0" opacity="0.49"/>
<rect x="416.2" y="77.2" width="0.9" height="0.9" fill="#2aa6dc" opacity="0.24"/>
<rect x="408.0" y="115.5" width="0.9" height="0.9" fill="#5cc6ee" opacity="0.23"/>
<rect x="408.2" y="91.7" width="0.9" height="0.9" fill="#3fb8e6" opacity="0.52"/>
<rect x="424.0" y="84.1" width="0.9" height="0.9" fill="#b7ecfb" opacity="0.25"/>
<rect x="410.3" y="126.8" width="0.9" height="0.9" fill="#2aa6dc" opacity="0.48"/>
<rect x="413.9" y="106.2" width="0.9" height="0.9" fill="#48bce8" opacity="0.24"/>
<rect x="396.1" y="112.2" width="0.9" height="0.9" fill="#48bce8" opacity="0.47"/>
<rect x="412.0" y="95.1" width="0.9" height="0.9" fill="#8a86d0" opacity="0.34"/>
<rect x="419.2" y="97.9" width="0.9" height="0.9" fill="#2aa6dc" opacity="0.54"/>
<rect x="406.7" y="119.9" width="0.9" height="0.9" fill="#2aa6dc" opacity="0.42"/>
<rect x="413.2" y="112.3" width="0.9" height="0.9" fill="#2aa6dc" opacity="0.44"/>
<rect x="414.3" y="116.0" width="0.9" height="0.9" fill="#b7ecfb" opacity="0.46"/>
<rect x="406.8" y="93.9" width="0.9" height="0.9" fill="#5cc6ee" opacity="0.31"/>
<rect x="410.1" y="119.9" width="0.9" height="0.9" fill="#b7ecfb" opacity="0.42"/>
<rect x="411.2" y="103.4" width="0.9" height="0.9" fill="#2aa6dc" opacity="0.52"/>
<rect x="410.7" y="108.4" width="0.9" height="0.9" fill="#48bce8" opacity="0.49"/>
<rect x="415.4" y="121.4" width="0.9" height="0.9" fill="#8a86d0" opacity="0.43"/>
<rect x="412.0" y="123.9" width="0.9" height="0.9" fill="#8a86d0" opacity="0.44"/>
<rect x="408.4" y="104.9" width="0.9" height="0.9" fill="#b7ecfb" opacity="0.49"/>
<rect x="418.1" y="104.3" width="0.9" height="0.9" fill="#48bce8" opacity="0.41"/>
<rect x="419.0" y="113.6" width="0.9" height="0.9" fill="#3fb8e6" opacity="0.42"/>
<rect x="410.6" y="101.1" width="0.9" height="0.9" fill="#2aa6dc" opacity="0.34"/>
<rect x="415.6" y="123.5" width="0.9" height="0.9" fill="#3a9ad8" opacity="0.50"/>
<rect x="412.9" y="104.2" width="0.9" height="0.9" fill="#48bce8" opacity="0.23"/>
<rect x="405.8" y="135.2" width="0.9" height="0.9" fill="#5cc6ee" opacity="0.44"/>
<rect x="415.8" y="115.3" width="0.9" height="0.9" fill="#8a86d0" opacity="0.36"/>
<rect x="419.7" y="132.2" width="0.9" height="0.9" fill="#5cc6ee" opacity="0.20"/>
<rect x="420.7" y="112.7" width="0.9" height="0.9" fill="#b7ecfb" opacity="0.39"/>
<rect x="413.7" y="102.5" width="0.9" height="0.9" fill="#3a9ad8" opacity="0.35"/>
<rect x="414.3" y="121.5" width="0.9" height="0.9" fill="#8a86d0" opacity="0.40"/>
<rect x="411.8" y="121.0" width="0.9" height="0.9" fill="#8a86d0" opacity="0.37"/>
<rect x="409.3" y="116.8" width="0.9" height="0.9" fill="#48bce8" opacity="0.23"/>
<rect x="421.0" y="112.3" width="0.9" height="0.9" fill="#5cc6ee" opacity="0.53"/>
<rect x="407.1" y="112.9" width="0.9" height="0.9" fill="#48bce8" opacity="0.41"/>
<rect x="408.5" y="109.9" width="0.9" height="0.9" fill="#3fb8e6" opacity="0.31"/>
<rect x="409.8" y="116.7" width="0.9" height="0.9" fill="#3fb8e6" opacity="0.21"/>
<rect x="418.0" y="105.7" width="0.9" height="0.9" fill="#3a9ad8" opacity="0.52"/>
<rect x="412.9" y="83.4" width="0.9" height="0.9" fill="#b7ecfb" opacity="0.29"/>
<rect x="419.7" y="119.2" width="0.9" height="0.9" fill="#5cc6ee" opacity="0.53"/>
<rect x="421.6" y="114.0" width="0.9" height="0.9" fill="#5cc6ee" opacity="0.50"/>
<rect x="414.6" y="114.8" width="0.9" height="0.9" fill="#2aa6dc" opacity="0.40"/>
<rect x="404.8" y="103.1" width="0.9" height="0.9" fill="#48bce8" opacity="0.31"/>
<rect x="407.2" y="105.7" width="0.9" height="0.9" fill="#b7ecfb" opacity="0.27"/>
<rect x="411.8" y="108.2" width="0.9" height="0.9" fill="#8a86d0" opacity="0.36"/>
<rect x="408.9" y="116.3" width="0.9" height="0.9" fill="#3fb8e6" opacity="0.20"/>
<rect x="416.5" y="125.5" width="0.9" height="0.9" fill="#48bce8" opacity="0.42"/>
<rect x="411.6" y="98.7" width="0.9" height="0.9" fill="#8a86d0" opacity="0.36"/>
<rect x="407.9" y="107.0" width="0.9" height="0.9" fill="#3a9ad8" opacity="0.44"/>
<rect x="401.1" y="117.0" width="0.9" height="0.9" fill="#2aa6dc" opacity="0.35"/>
<rect x="401.9" y="91.6" width="0.9" height="0.9" fill="#48bce8" opacity="0.31"/>
<rect x="420.6" y="115.7" width="0.9" height="0.9" fill="#8a86d0" opacity="0.45"/>
<rect x="412.6" y="120.2" width="0.9" height="0.9" fill="#5cc6ee" opacity="0.40"/>
<rect x="402.5" y="95.9" width="0.9" height="0.9" fill="#3fb8e6" opacity="0.22"/>
<rect x="426.6" y="140.9" width="0.9" height="0.9" fill="#3fb8e6" opacity="0.32"/>
<rect x="401.5" y="109.0" width="0.9" height="0.9" fill="#3fb8e6" opacity="0.39"/>
<rect x="421.0" y="114.3" width="0.9" height="0.9" fill="#48bce8" opacity="0.54"/>
<rect x="412.6" y="103.1" width="0.9" height="0.9" fill="#3a9ad8" opacity="0.40"/>
<rect x="407.4" y="114.9" width="0.9" height="0.9" fill="#2aa6dc" opacity="0.55"/>
<rect x="410.3" y="112.8" width="0.9" height="0.9" fill="#8a86d0" opacity="0.50"/>
<rect x="398.1" y="88.1" width="0.9" height="0.9" fill="#5cc6ee" opacity="0.32"/>
<rect x="408.5" y="114.7" width="0.9" height="0.9" fill="#48bce8" opacity="0.24"/>
<rect x="427.3" y="117.9" width="0.9" height="0.9" fill="#3a9ad8" opacity="0.44"/>
<rect x="423.2" y="119.6" width="0.9" height="0.9" fill="#b7ecfb" opacity="0.36"/>
<rect x="425.5" y="110.6" width="0.9" height="0.9" fill="#48bce8" opacity="0.29"/>
<rect x="409.7" y="113.5" width="0.9" height="0.9" fill="#2aa6dc" opacity="0.25"/>
<rect x="424.3" y="119.5" width="0.9" height="0.9" fill="#3a9ad8" opacity="0.50"/>
<rect x="423.4" y="121.6" width="0.9" height="0.9" fill="#8a86d0" opacity="0.39"/>
<rect x="418.6" y="114.9" width="0.9" height="0.9" fill="#2aa6dc" opacity="0.39"/>
<rect x="402.3" y="95.9" width="0.9" height="0.9" fill="#2aa6dc" opacity="0.33"/>
<rect x="402.0" y="85.4" width="0.9" height="0.9" fill="#3a9ad8" opacity="0.53"/>
<rect x="402.1" y="96.6" width="0.9" height="0.9" fill="#3a9ad8" opacity="0.53"/>
<rect x="413.3" y="104.4" width="0.9" height="0.9" fill="#b7ecfb" opacity="0.54"/>
<rect x="406.4" y="126.9" width="0.9" height="0.9" fill="#2aa6dc" opacity="0.50"/>
<rect x="414.9" y="84.2" width="0.9" height="0.9" fill="#3a9ad8" opacity="0.50"/>
<rect x="421.8" y="110.1" width="0.9" height="0.9" fill="#8a86d0" opacity="0.41"/>
<rect x="402.6" y="92.0" width="0.9" height="0.9" fill="#48bce8" opacity="0.24"/>
<rect x="411.4" y="103.0" width="0.9" height="0.9" fill="#2aa6dc" opacity="0.46"/>
<rect x="419.1" y="96.9" width="0.9" height="0.9" fill="#2aa6dc" opacity="0.41"/>
<rect x="415.2" y="99.1" width="0.9" height="0.9" fill="#b7ecfb" opacity="0.32"/>
<rect x="410.2" y="86.9" width="0.9" height="0.9" fill="#2aa6dc" opacity="0.38"/>
<rect x="416.6" y="98.3" width="0.9" height="0.9" fill="#8a86d0" opacity="0.28"/>
<rect x="424.1" y="102.3" width="0.9" height="0.9" fill="#3fb8e6" opacity="0.55"/>
<rect x="405.5" y="129.9" width="0.9" height="0.9" fill="#5cc6ee" opacity="0.39"/>
<rect x="401.3" y="124.5" width="0.9" height="0.9" fill="#48bce8" opacity="0.34"/>
<rect x="418.6" y="124.5" width="0.9" height="0.9" fill="#48bce8" opacity="0.32"/>
<rect x="413.6" y="99.2" width="0.9" height="0.9" fill="#2aa6dc" opacity="0.40"/>
<rect x="416.3" y="105.4" width="0.9" height="0.9" fill="#b7ecfb" opacity="0.29"/>
<rect x="403.6" y="108.7" width="0.9" height="0.9" fill="#b7ecfb" opacity="0.31"/>
<rect x="417.3" y="117.4" width="0.9" height="0.9" fill="#5cc6ee" opacity="0.45"/>
<rect x="407.3" y="105.1" width="0.9" height="0.9" fill="#48bce8" opacity="0.22"/>
<rect x="409.4" y="107.4" width="0.9" height="0.9" fill="#b7ecfb" opacity="0.44"/>
<rect x="411.4" y="96.3" width="0.9" height="0.9" fill="#8a86d0" opacity="0.35"/>
<rect x="416.1" y="114.6" width="0.9" height="0.9" fill="#3a9ad8" opacity="0.21"/>
<rect x="415.1" y="103.9" width="0.9" height="0.9" fill="#3a9ad8" opacity="0.28"/>
<rect x="410.5" y="87.9" width="0.9" height="0.9" fill="#b7ecfb" opacity="0.39"/>
<rect x="417.7" y="119.1" width="0.9" height="0.9" fill="#b7ecfb" opacity="0.26"/>
<rect x="409.1" y="95.5" width="0.9" height="0.9" fill="#5cc6ee" opacity="0.51"/>
<rect x="414.3" y="121.8" width="0.9" height="0.9" fill="#48bce8" opacity="0.34"/>
<rect x="414.2" y="114.5" width="0.9" height="0.9" fill="#8a86d0" opacity="0.42"/>
<rect x="414.9" y="93.3" width="0.9" height="0.9" fill="#3a9ad8" opacity="0.44"/>
<path d="M380,55.5 C383,52 406,50 411,51.5 C415,53 414,59 412,66 C410,76 408.5,87 405.5,90.5 C403,93 399.5,90 395.5,86 C389,79 383,70 379,62 C378,59.5 378.3,57.3 380,55.5 Z" fill="url(#gTri)" stroke="#ffffff" stroke-width="1.6"/>
<path d="M380,55.5 C383,52 406,50 411,51.5 C415,53 414,59 412,66 C410,76 408.5,87 405.5,90.5 C403,93 399.5,90 395.5,86 C389,79 383,70 379,62 C378,59.5 378.3,57.3 380,55.5 Z" fill="none" stroke="#ffffff" stroke-width="1.3" opacity="0.95" transform="translate(397,68.5) scale(0.93) translate(-397,-68.5)"/>
<path d="M380,55.5 C383,52 406,50 411,51.5 C415,53 414,59 412,66 C410,76 408.5,87 405.5,90.5 C403,93 399.5,90 395.5,86 C389,79 383,70 379,62 C378,59.5 378.3,57.3 380,55.5 Z" fill="none" stroke="#ffffff" stroke-width="0.9" opacity="0.85" transform="translate(397,68.5) scale(0.8) translate(-397,-68.5)"/>
<path d="M380,55.5 C383,52 406,50 411,51.5 C415,53 414,59 412,66 C410,76 408.5,87 405.5,90.5 C403,93 399.5,90 395.5,86 C389,79 383,70 379,62 C378,59.5 378.3,57.3 380,55.5 Z" fill="none" stroke="#ffffff" stroke-width="0.6" opacity="0.65" transform="translate(397,68.5) scale(0.66) translate(-397,-68.5)"/>
<path d="M380,55.5 C383,52 406,50 411,51.5 C415,53 414,59 412,66 C410,76 408.5,87 405.5,90.5 C403,93 399.5,90 395.5,86 C389,79 383,70 379,62 C378,59.5 378.3,57.3 380,55.5 Z" fill="none" stroke="#ffffff" stroke-width="0.5" opacity="0.5" transform="translate(397,68.5) scale(0.5) translate(-397,-68.5)"/>
<path d="M380,55.5 C383,52 406,50 411,51.5 C415,53 414,59 412,66 C410,76 408.5,87 405.5,90.5 C403,93 399.5,90 395.5,86 C389,79 383,70 379,62 C378,59.5 378.3,57.3 380,55.5 Z" fill="none" stroke="#ffffff" stroke-width="0.4" opacity="0.4" transform="translate(397,68.5) scale(0.34) translate(-397,-68.5)"/>
<circle cx="397.5" cy="68" r="1.5" fill="#f4f4ff" filter="url(#b05)"/>
</g>
<line x1="79.90" y1="47.60" x2="82.70" y2="47.60" stroke="#111" stroke-width="1.0"/>
<line x1="79.90" y1="75.00" x2="82.70" y2="75.00" stroke="#111" stroke-width="1.0"/>
<line x1="79.90" y1="107.80" x2="82.70" y2="107.80" stroke="#111" stroke-width="1.0"/>
<line x1="79.90" y1="129.60" x2="82.70" y2="129.60" stroke="#111" stroke-width="1.0"/>
<line x1="79.90" y1="149.30" x2="82.70" y2="149.30" stroke="#111" stroke-width="1.0"/>
<line x1="81.20" y1="66.75" x2="83.90" y2="66.75" stroke="#111" stroke-width="0.7"/>
<line x1="81.20" y1="61.93" x2="83.90" y2="61.93" stroke="#111" stroke-width="0.7"/>
<line x1="81.20" y1="58.50" x2="83.90" y2="58.50" stroke="#111" stroke-width="0.7"/>
<line x1="81.20" y1="55.85" x2="83.90" y2="55.85" stroke="#111" stroke-width="0.7"/>
<line x1="81.20" y1="53.68" x2="83.90" y2="53.68" stroke="#111" stroke-width="0.7"/>
<line x1="81.20" y1="51.84" x2="83.90" y2="51.84" stroke="#111" stroke-width="0.7"/>
<line x1="81.20" y1="50.26" x2="83.90" y2="50.26" stroke="#111" stroke-width="0.7"/>
<line x1="81.20" y1="48.85" x2="83.90" y2="48.85" stroke="#111" stroke-width="0.7"/>
<line x1="81.20" y1="97.93" x2="83.90" y2="97.93" stroke="#111" stroke-width="0.7"/>
<line x1="81.20" y1="92.15" x2="83.90" y2="92.15" stroke="#111" stroke-width="0.7"/>
<line x1="81.20" y1="88.05" x2="83.90" y2="88.05" stroke="#111" stroke-width="0.7"/>
<line x1="81.20" y1="84.87" x2="83.90" y2="84.87" stroke="#111" stroke-width="0.7"/>
<line x1="81.20" y1="82.28" x2="83.90" y2="82.28" stroke="#111" stroke-width="0.7"/>
<line x1="81.20" y1="80.08" x2="83.90" y2="80.08" stroke="#111" stroke-width="0.7"/>
<line x1="81.20" y1="78.18" x2="83.90" y2="78.18" stroke="#111" stroke-width="0.7"/>
<line x1="81.20" y1="76.50" x2="83.90" y2="76.50" stroke="#111" stroke-width="0.7"/>
<line x1="81.20" y1="39.35" x2="83.90" y2="39.35" stroke="#111" stroke-width="0.7"/>
<line x1="81.20" y1="127.42" x2="83.70" y2="127.42" stroke="#111" stroke-width="0.6"/>
<line x1="81.20" y1="131.57" x2="83.70" y2="131.57" stroke="#111" stroke-width="0.6"/>
<line x1="81.20" y1="125.24" x2="83.70" y2="125.24" stroke="#111" stroke-width="0.6"/>
<line x1="81.20" y1="133.54" x2="83.70" y2="133.54" stroke="#111" stroke-width="0.6"/>
<line x1="81.20" y1="123.06" x2="83.70" y2="123.06" stroke="#111" stroke-width="0.6"/>
<line x1="81.20" y1="135.51" x2="83.70" y2="135.51" stroke="#111" stroke-width="0.6"/>
<line x1="81.20" y1="120.88" x2="83.70" y2="120.88" stroke="#111" stroke-width="0.6"/>
<line x1="81.20" y1="137.48" x2="83.70" y2="137.48" stroke="#111" stroke-width="0.6"/>
<line x1="81.20" y1="118.70" x2="83.70" y2="118.70" stroke="#111" stroke-width="0.6"/>
<line x1="81.20" y1="139.45" x2="83.70" y2="139.45" stroke="#111" stroke-width="0.6"/>
<line x1="81.20" y1="116.52" x2="83.70" y2="116.52" stroke="#111" stroke-width="0.6"/>
<line x1="81.20" y1="141.42" x2="83.70" y2="141.42" stroke="#111" stroke-width="0.6"/>
<line x1="81.20" y1="114.34" x2="83.70" y2="114.34" stroke="#111" stroke-width="0.6"/>
<line x1="81.20" y1="143.39" x2="83.70" y2="143.39" stroke="#111" stroke-width="0.6"/>
<line x1="81.20" y1="112.16" x2="83.70" y2="112.16" stroke="#111" stroke-width="0.6"/>
<line x1="81.20" y1="145.36" x2="83.70" y2="145.36" stroke="#111" stroke-width="0.6"/>
<line x1="81.20" y1="109.98" x2="83.70" y2="109.98" stroke="#111" stroke-width="0.6"/>
<line x1="81.20" y1="147.33" x2="83.70" y2="147.33" stroke="#111" stroke-width="0.6"/>
<rect x="80.50" y="127.40" width="2.6" height="4.4" fill="#111"/>
<line x1="87.50" y1="154.80" x2="87.50" y2="157.60" stroke="#111" stroke-width="1.0"/>
<line x1="106.80" y1="154.80" x2="106.80" y2="157.60" stroke="#111" stroke-width="1.0"/>
<line x1="125.90" y1="154.80" x2="125.90" y2="157.60" stroke="#111" stroke-width="1.0"/>
<line x1="155.60" y1="154.80" x2="155.60" y2="157.60" stroke="#111" stroke-width="1.0"/>
<line x1="180.60" y1="154.80" x2="180.60" y2="157.60" stroke="#111" stroke-width="1.0"/>
<line x1="134.84" y1="153.80" x2="134.84" y2="156.40" stroke="#111" stroke-width="0.7"/>
<line x1="140.07" y1="153.80" x2="140.07" y2="156.40" stroke="#111" stroke-width="0.7"/>
<line x1="143.78" y1="153.80" x2="143.78" y2="156.40" stroke="#111" stroke-width="0.7"/>
<line x1="146.66" y1="153.80" x2="146.66" y2="156.40" stroke="#111" stroke-width="0.7"/>
<line x1="149.01" y1="153.80" x2="149.01" y2="156.40" stroke="#111" stroke-width="0.7"/>
<line x1="151.00" y1="153.80" x2="151.00" y2="156.40" stroke="#111" stroke-width="0.7"/>
<line x1="152.72" y1="153.80" x2="152.72" y2="156.40" stroke="#111" stroke-width="0.7"/>
<line x1="154.24" y1="153.80" x2="154.24" y2="156.40" stroke="#111" stroke-width="0.7"/>
<line x1="163.13" y1="153.80" x2="163.13" y2="156.40" stroke="#111" stroke-width="0.7"/>
<line x1="167.53" y1="153.80" x2="167.53" y2="156.40" stroke="#111" stroke-width="0.7"/>
<line x1="170.65" y1="153.80" x2="170.65" y2="156.40" stroke="#111" stroke-width="0.7"/>
<line x1="173.07" y1="153.80" x2="173.07" y2="156.40" stroke="#111" stroke-width="0.7"/>
<line x1="175.05" y1="153.80" x2="175.05" y2="156.40" stroke="#111" stroke-width="0.7"/>
<line x1="176.73" y1="153.80" x2="176.73" y2="156.40" stroke="#111" stroke-width="0.7"/>
<line x1="178.18" y1="153.80" x2="178.18" y2="156.40" stroke="#111" stroke-width="0.7"/>
<line x1="179.46" y1="153.80" x2="179.46" y2="156.40" stroke="#111" stroke-width="0.7"/>
<line x1="188.13" y1="153.80" x2="188.13" y2="156.40" stroke="#111" stroke-width="0.7"/>
<line x1="108.71" y1="153.80" x2="108.71" y2="156.30" stroke="#111" stroke-width="0.6"/>
<line x1="104.87" y1="153.80" x2="104.87" y2="156.30" stroke="#111" stroke-width="0.6"/>
<line x1="110.62" y1="153.80" x2="110.62" y2="156.30" stroke="#111" stroke-width="0.6"/>
<line x1="102.94" y1="153.80" x2="102.94" y2="156.30" stroke="#111" stroke-width="0.6"/>
<line x1="112.53" y1="153.80" x2="112.53" y2="156.30" stroke="#111" stroke-width="0.6"/>
<line x1="101.01" y1="153.80" x2="101.01" y2="156.30" stroke="#111" stroke-width="0.6"/>
<line x1="114.44" y1="153.80" x2="114.44" y2="156.30" stroke="#111" stroke-width="0.6"/>
<line x1="99.08" y1="153.80" x2="99.08" y2="156.30" stroke="#111" stroke-width="0.6"/>
<line x1="116.35" y1="153.80" x2="116.35" y2="156.30" stroke="#111" stroke-width="0.6"/>
<line x1="97.15" y1="153.80" x2="97.15" y2="156.30" stroke="#111" stroke-width="0.6"/>
<line x1="118.26" y1="153.80" x2="118.26" y2="156.30" stroke="#111" stroke-width="0.6"/>
<line x1="95.22" y1="153.80" x2="95.22" y2="156.30" stroke="#111" stroke-width="0.6"/>
<line x1="120.17" y1="153.80" x2="120.17" y2="156.30" stroke="#111" stroke-width="0.6"/>
<line x1="93.29" y1="153.80" x2="93.29" y2="156.30" stroke="#111" stroke-width="0.6"/>
<line x1="122.08" y1="153.80" x2="122.08" y2="156.30" stroke="#111" stroke-width="0.6"/>
<line x1="91.36" y1="153.80" x2="91.36" y2="156.30" stroke="#111" stroke-width="0.6"/>
<line x1="123.99" y1="153.80" x2="123.99" y2="156.30" stroke="#111" stroke-width="0.6"/>
<line x1="89.43" y1="153.80" x2="89.43" y2="156.30" stroke="#111" stroke-width="0.6"/>
<rect x="104.60" y="154.40" width="4.4" height="2.6" fill="#111"/>
<rect x="82.70" y="36.80" width="108.50" height="118.00" fill="none" stroke="#111" stroke-width="1.3"/>
<text x="74.00" y="51.00" font-size="8.8" text-anchor="end" textLength="8.60" lengthAdjust="spacingAndGlyphs">10</text>
<text x="74.00" y="46.80" font-size="6.2">5</text>
<text x="74.00" y="78.40" font-size="8.8" text-anchor="end" textLength="8.60" lengthAdjust="spacingAndGlyphs">10</text>
<text x="74.00" y="74.20" font-size="6.2">4</text>
<text x="74.00" y="111.20" font-size="8.8" text-anchor="end" textLength="8.60" lengthAdjust="spacingAndGlyphs">10</text>
<text x="74.00" y="107.00" font-size="6.2">3</text>
<text x="73.20" y="131.90" font-size="8.8" text-anchor="end" textLength="4.50" lengthAdjust="spacingAndGlyphs">0</text>
<text x="74.00" y="152.10" font-size="8.8" text-anchor="end" textLength="13.60" lengthAdjust="spacingAndGlyphs">−10</text>
<text x="74.00" y="147.90" font-size="6.2">3</text>
<text x="80.20" y="171.90" font-size="8.8" textLength="13.20" lengthAdjust="spacingAndGlyphs">−10</text>
<text x="93.50" y="167.80" font-size="6.2">3</text>
<text x="106.50" y="171.90" font-size="8.8" text-anchor="middle" textLength="4.50" lengthAdjust="spacingAndGlyphs">0</text>
<text x="120.40" y="171.90" font-size="8.8" textLength="8.20" lengthAdjust="spacingAndGlyphs">10</text>
<text x="128.70" y="167.80" font-size="6.2">3</text>
<text x="150.50" y="171.90" font-size="8.8" textLength="8.20" lengthAdjust="spacingAndGlyphs">10</text>
<text x="158.80" y="167.80" font-size="6.2">4</text>
<text x="175.20" y="171.90" font-size="8.8" textLength="8.20" lengthAdjust="spacingAndGlyphs">10</text>
<text x="183.50" y="167.80" font-size="6.2">5</text>
<text x="108.50" y="185.80" font-size="10.2" textLength="15.80" lengthAdjust="spacingAndGlyphs">CD5</text>
<line x1="128.20" y1="182.80" x2="166.00" y2="182.80" stroke="#111" stroke-width="1.0"/>
<path d="M164.30,180.5 L170.50,182.8 L164.30,185.1 Z" fill="#111"/>
<line x1="51.50" y1="101.60" x2="51.50" y2="55.00" stroke="#111" stroke-width="1.0"/>
<path d="M49.20,55.6 L51.50,49.8 L53.80,55.6 Z" fill="#111"/>
<text x="0.00" y="0.00" font-size="10.8" textLength="27.50" lengthAdjust="spacingAndGlyphs" transform="translate(55.30,132.4) rotate(-90)">CXCR4</text>
<line x1="326.50" y1="47.60" x2="329.30" y2="47.60" stroke="#111" stroke-width="1.0"/>
<line x1="326.50" y1="75.00" x2="329.30" y2="75.00" stroke="#111" stroke-width="1.0"/>
<line x1="326.50" y1="107.80" x2="329.30" y2="107.80" stroke="#111" stroke-width="1.0"/>
<line x1="326.50" y1="129.60" x2="329.30" y2="129.60" stroke="#111" stroke-width="1.0"/>
<line x1="326.50" y1="149.30" x2="329.30" y2="149.30" stroke="#111" stroke-width="1.0"/>
<line x1="327.80" y1="66.75" x2="330.50" y2="66.75" stroke="#111" stroke-width="0.7"/>
<line x1="327.80" y1="61.93" x2="330.50" y2="61.93" stroke="#111" stroke-width="0.7"/>
<line x1="327.80" y1="58.50" x2="330.50" y2="58.50" stroke="#111" stroke-width="0.7"/>
<line x1="327.80" y1="55.85" x2="330.50" y2="55.85" stroke="#111" stroke-width="0.7"/>
<line x1="327.80" y1="53.68" x2="330.50" y2="53.68" stroke="#111" stroke-width="0.7"/>
<line x1="327.80" y1="51.84" x2="330.50" y2="51.84" stroke="#111" stroke-width="0.7"/>
<line x1="327.80" y1="50.26" x2="330.50" y2="50.26" stroke="#111" stroke-width="0.7"/>
<line x1="327.80" y1="48.85" x2="330.50" y2="48.85" stroke="#111" stroke-width="0.7"/>
<line x1="327.80" y1="97.93" x2="330.50" y2="97.93" stroke="#111" stroke-width="0.7"/>
<line x1="327.80" y1="92.15" x2="330.50" y2="92.15" stroke="#111" stroke-width="0.7"/>
<line x1="327.80" y1="88.05" x2="330.50" y2="88.05" stroke="#111" stroke-width="0.7"/>
<line x1="327.80" y1="84.87" x2="330.50" y2="84.87" stroke="#111" stroke-width="0.7"/>
<line x1="327.80" y1="82.28" x2="330.50" y2="82.28" stroke="#111" stroke-width="0.7"/>
<line x1="327.80" y1="80.08" x2="330.50" y2="80.08" stroke="#111" stroke-width="0.7"/>
<line x1="327.80" y1="78.18" x2="330.50" y2="78.18" stroke="#111" stroke-width="0.7"/>
<line x1="327.80" y1="76.50" x2="330.50" y2="76.50" stroke="#111" stroke-width="0.7"/>
<line x1="327.80" y1="39.35" x2="330.50" y2="39.35" stroke="#111" stroke-width="0.7"/>
<line x1="327.80" y1="127.42" x2="330.30" y2="127.42" stroke="#111" stroke-width="0.6"/>
<line x1="327.80" y1="131.57" x2="330.30" y2="131.57" stroke="#111" stroke-width="0.6"/>
<line x1="327.80" y1="125.24" x2="330.30" y2="125.24" stroke="#111" stroke-width="0.6"/>
<line x1="327.80" y1="133.54" x2="330.30" y2="133.54" stroke="#111" stroke-width="0.6"/>
<line x1="327.80" y1="123.06" x2="330.30" y2="123.06" stroke="#111" stroke-width="0.6"/>
<line x1="327.80" y1="135.51" x2="330.30" y2="135.51" stroke="#111" stroke-width="0.6"/>
<line x1="327.80" y1="120.88" x2="330.30" y2="120.88" stroke="#111" stroke-width="0.6"/>
<line x1="327.80" y1="137.48" x2="330.30" y2="137.48" stroke="#111" stroke-width="0.6"/>
<line x1="327.80" y1="118.70" x2="330.30" y2="118.70" stroke="#111" stroke-width="0.6"/>
<line x1="327.80" y1="139.45" x2="330.30" y2="139.45" stroke="#111" stroke-width="0.6"/>
<line x1="327.80" y1="116.52" x2="330.30" y2="116.52" stroke="#111" stroke-width="0.6"/>
<line x1="327.80" y1="141.42" x2="330.30" y2="141.42" stroke="#111" stroke-width="0.6"/>
<line x1="327.80" y1="114.34" x2="330.30" y2="114.34" stroke="#111" stroke-width="0.6"/>
<line x1="327.80" y1="143.39" x2="330.30" y2="143.39" stroke="#111" stroke-width="0.6"/>
<line x1="327.80" y1="112.16" x2="330.30" y2="112.16" stroke="#111" stroke-width="0.6"/>
<line x1="327.80" y1="145.36" x2="330.30" y2="145.36" stroke="#111" stroke-width="0.6"/>
<line x1="327.80" y1="109.98" x2="330.30" y2="109.98" stroke="#111" stroke-width="0.6"/>
<line x1="327.80" y1="147.33" x2="330.30" y2="147.33" stroke="#111" stroke-width="0.6"/>
<rect x="327.10" y="127.40" width="2.6" height="4.4" fill="#111"/>
<line x1="334.10" y1="154.80" x2="334.10" y2="157.60" stroke="#111" stroke-width="1.0"/>
<line x1="353.40" y1="154.80" x2="353.40" y2="157.60" stroke="#111" stroke-width="1.0"/>
<line x1="372.50" y1="154.80" x2="372.50" y2="157.60" stroke="#111" stroke-width="1.0"/>
<line x1="402.20" y1="154.80" x2="402.20" y2="157.60" stroke="#111" stroke-width="1.0"/>
<line x1="427.20" y1="154.80" x2="427.20" y2="157.60" stroke="#111" stroke-width="1.0"/>
<line x1="381.44" y1="153.80" x2="381.44" y2="156.40" stroke="#111" stroke-width="0.7"/>
<line x1="386.67" y1="153.80" x2="386.67" y2="156.40" stroke="#111" stroke-width="0.7"/>
<line x1="390.38" y1="153.80" x2="390.38" y2="156.40" stroke="#111" stroke-width="0.7"/>
<line x1="393.26" y1="153.80" x2="393.26" y2="156.40" stroke="#111" stroke-width="0.7"/>
<line x1="395.61" y1="153.80" x2="395.61" y2="156.40" stroke="#111" stroke-width="0.7"/>
<line x1="397.60" y1="153.80" x2="397.60" y2="156.40" stroke="#111" stroke-width="0.7"/>
<line x1="399.32" y1="153.80" x2="399.32" y2="156.40" stroke="#111" stroke-width="0.7"/>
<line x1="400.84" y1="153.80" x2="400.84" y2="156.40" stroke="#111" stroke-width="0.7"/>
<line x1="409.73" y1="153.80" x2="409.73" y2="156.40" stroke="#111" stroke-width="0.7"/>
<line x1="414.13" y1="153.80" x2="414.13" y2="156.40" stroke="#111" stroke-width="0.7"/>
<line x1="417.25" y1="153.80" x2="417.25" y2="156.40" stroke="#111" stroke-width="0.7"/>
<line x1="419.67" y1="153.80" x2="419.67" y2="156.40" stroke="#111" stroke-width="0.7"/>
<line x1="421.65" y1="153.80" x2="421.65" y2="156.40" stroke="#111" stroke-width="0.7"/>
<line x1="423.33" y1="153.80" x2="423.33" y2="156.40" stroke="#111" stroke-width="0.7"/>
<line x1="424.78" y1="153.80" x2="424.78" y2="156.40" stroke="#111" stroke-width="0.7"/>
<line x1="426.06" y1="153.80" x2="426.06" y2="156.40" stroke="#111" stroke-width="0.7"/>
<line x1="434.73" y1="153.80" x2="434.73" y2="156.40" stroke="#111" stroke-width="0.7"/>
<line x1="355.31" y1="153.80" x2="355.31" y2="156.30" stroke="#111" stroke-width="0.6"/>
<line x1="351.47" y1="153.80" x2="351.47" y2="156.30" stroke="#111" stroke-width="0.6"/>
<line x1="357.22" y1="153.80" x2="357.22" y2="156.30" stroke="#111" stroke-width="0.6"/>
<line x1="349.54" y1="153.80" x2="349.54" y2="156.30" stroke="#111" stroke-width="0.6"/>
<line x1="359.13" y1="153.80" x2="359.13" y2="156.30" stroke="#111" stroke-width="0.6"/>
<line x1="347.61" y1="153.80" x2="347.61" y2="156.30" stroke="#111" stroke-width="0.6"/>
<line x1="361.04" y1="153.80" x2="361.04" y2="156.30" stroke="#111" stroke-width="0.6"/>
<line x1="345.68" y1="153.80" x2="345.68" y2="156.30" stroke="#111" stroke-width="0.6"/>
<line x1="362.95" y1="153.80" x2="362.95" y2="156.30" stroke="#111" stroke-width="0.6"/>
<line x1="343.75" y1="153.80" x2="343.75" y2="156.30" stroke="#111" stroke-width="0.6"/>
<line x1="364.86" y1="153.80" x2="364.86" y2="156.30" stroke="#111" stroke-width="0.6"/>
<line x1="341.82" y1="153.80" x2="341.82" y2="156.30" stroke="#111" stroke-width="0.6"/>
<line x1="366.77" y1="153.80" x2="366.77" y2="156.30" stroke="#111" stroke-width="0.6"/>
<line x1="339.89" y1="153.80" x2="339.89" y2="156.30" stroke="#111" stroke-width="0.6"/>
<line x1="368.68" y1="153.80" x2="368.68" y2="156.30" stroke="#111" stroke-width="0.6"/>
<line x1="337.96" y1="153.80" x2="337.96" y2="156.30" stroke="#111" stroke-width="0.6"/>
<line x1="370.59" y1="153.80" x2="370.59" y2="156.30" stroke="#111" stroke-width="0.6"/>
<line x1="336.03" y1="153.80" x2="336.03" y2="156.30" stroke="#111" stroke-width="0.6"/>
<rect x="351.20" y="154.40" width="4.4" height="2.6" fill="#111"/>
<rect x="329.30" y="36.80" width="107.90" height="118.00" fill="none" stroke="#111" stroke-width="1.3"/>
<text x="320.60" y="51.00" font-size="8.8" text-anchor="end" textLength="8.60" lengthAdjust="spacingAndGlyphs">10</text>
<text x="320.60" y="46.80" font-size="6.2">5</text>
<text x="320.60" y="78.40" font-size="8.8" text-anchor="end" textLength="8.60" lengthAdjust="spacingAndGlyphs">10</text>
<text x="320.60" y="74.20" font-size="6.2">4</text>
<text x="320.60" y="111.20" font-size="8.8" text-anchor="end" textLength="8.60" lengthAdjust="spacingAndGlyphs">10</text>
<text x="320.60" y="107.00" font-size="6.2">3</text>
<text x="319.80" y="131.90" font-size="8.8" text-anchor="end" textLength="4.50" lengthAdjust="spacingAndGlyphs">0</text>
<text x="320.60" y="152.10" font-size="8.8" text-anchor="end" textLength="13.60" lengthAdjust="spacingAndGlyphs">−10</text>
<text x="320.60" y="147.90" font-size="6.2">3</text>
<text x="326.80" y="171.90" font-size="8.8" textLength="13.20" lengthAdjust="spacingAndGlyphs">−10</text>
<text x="340.10" y="167.80" font-size="6.2">3</text>
<text x="353.10" y="171.90" font-size="8.8" text-anchor="middle" textLength="4.50" lengthAdjust="spacingAndGlyphs">0</text>
<text x="367.00" y="171.90" font-size="8.8" textLength="8.20" lengthAdjust="spacingAndGlyphs">10</text>
<text x="375.30" y="167.80" font-size="6.2">3</text>
<text x="397.10" y="171.90" font-size="8.8" textLength="8.20" lengthAdjust="spacingAndGlyphs">10</text>
<text x="405.40" y="167.80" font-size="6.2">4</text>
<text x="421.80" y="171.90" font-size="8.8" textLength="8.20" lengthAdjust="spacingAndGlyphs">10</text>
<text x="430.10" y="167.80" font-size="6.2">5</text>
<text x="355.10" y="185.80" font-size="10.2" textLength="15.80" lengthAdjust="spacingAndGlyphs">CD5</text>
<line x1="374.80" y1="182.80" x2="412.60" y2="182.80" stroke="#111" stroke-width="1.0"/>
<path d="M410.90,180.5 L417.10,182.8 L410.90,185.1 Z" fill="#111"/>
<line x1="298.10" y1="101.60" x2="298.10" y2="55.00" stroke="#111" stroke-width="1.0"/>
<path d="M295.80,55.6 L298.10,49.8 L300.40,55.6 Z" fill="#111"/>
<text x="0.00" y="0.00" font-size="10.8" textLength="27.50" lengthAdjust="spacingAndGlyphs" transform="translate(301.90,132.4) rotate(-90)">CXCR4</text>
<rect x="80.40" y="190.40" width="124.00" height="11.10" fill="#e1e1e1"/>
<rect x="70.40" y="204.70" width="8.4" height="6.0" fill="#3cb4dc" stroke="#555" stroke-width="0.3"/>
<rect x="70.40" y="216.20" width="8.4" height="6.0" fill="#2a2a8c" stroke="#555" stroke-width="0.3"/>
<rect x="68.80" y="190.40" width="135.60" height="34.30" fill="none" stroke="#222" stroke-width="1.1"/>
<line x1="80.40" y1="190.40" x2="80.40" y2="224.70" stroke="#222" stroke-width="1.0"/>
<line x1="68.80" y1="201.50" x2="204.40" y2="201.50" stroke="#222" stroke-width="1.0"/>
<line x1="68.80" y1="213.00" x2="204.40" y2="213.00" stroke="#222" stroke-width="1.0"/>
<text x="100.10" y="199.00" font-size="8.8" textLength="59.00" lengthAdjust="spacingAndGlyphs" font-weight="bold" fill="#111">Full Gating Path</text>
<text x="82.70" y="210.20" font-size="8.3" textLength="113.20" lengthAdjust="spacingAndGlyphs" fill="#111">Lymphocytes/Migrated CLL cells</text>
<text x="82.70" y="221.70" font-size="8.3" textLength="120.00" lengthAdjust="spacingAndGlyphs" fill="#111">Lymphocytes/Circulating CLL cells</text>
<rect x="339.60" y="190.30" width="98.70" height="11.50" fill="#e1e1e1"/>
<rect x="330.10" y="205.00" width="8.4" height="6.0" fill="#3cb4dc" stroke="#555" stroke-width="0.3"/>
<rect x="330.10" y="216.40" width="8.4" height="6.0" fill="#2a2a8c" stroke="#555" stroke-width="0.3"/>
<rect x="328.50" y="190.30" width="109.80" height="34.70" fill="none" stroke="#222" stroke-width="1.1"/>
<line x1="339.60" y1="190.30" x2="339.60" y2="225.00" stroke="#222" stroke-width="1.0"/>
<line x1="328.50" y1="201.80" x2="438.30" y2="201.80" stroke="#222" stroke-width="1.0"/>
<line x1="328.50" y1="213.20" x2="438.30" y2="213.20" stroke="#222" stroke-width="1.0"/>
<text x="359.00" y="198.90" font-size="8.8" textLength="60.00" lengthAdjust="spacingAndGlyphs" font-weight="bold" fill="#111">Full Gating Path</text>
<text x="341.90" y="210.50" font-size="8.3" textLength="93.30" lengthAdjust="spacingAndGlyphs" fill="#111">Lymphocytes/LN CLL cells</text>
<text x="341.90" y="221.90" font-size="8.3" textLength="93.70" lengthAdjust="spacingAndGlyphs" fill="#111">Lymphocytes/PB CLL cells</text>
<line x1="55.30" y1="258.10" x2="55.30" y2="371.40" stroke="#1a1a1a" stroke-width="1.3"/>
<line x1="54.65" y1="370.70" x2="210.10" y2="370.70" stroke="#1a1a1a" stroke-width="1.3"/>
<line x1="52.20" y1="260.40" x2="55.30" y2="260.40" stroke="#1a1a1a" stroke-width="1.0"/>
<text x="48.50" y="263.15" font-size="7.8" text-anchor="end" textLength="29.50" lengthAdjust="spacingAndGlyphs">150 000</text>
<line x1="52.20" y1="297.17" x2="55.30" y2="297.17" stroke="#1a1a1a" stroke-width="1.0"/>
<text x="48.50" y="299.92" font-size="7.8" text-anchor="end" textLength="29.50" lengthAdjust="spacingAndGlyphs">100 000</text>
<line x1="52.20" y1="333.94" x2="55.30" y2="333.94" stroke="#1a1a1a" stroke-width="1.0"/>
<text x="48.50" y="336.69" font-size="7.8" text-anchor="end" textLength="23.90" lengthAdjust="spacingAndGlyphs">50 000</text>
<line x1="52.20" y1="370.70" x2="55.30" y2="370.70" stroke="#1a1a1a" stroke-width="1.0"/>
<text x="48.50" y="373.45" font-size="7.8" text-anchor="end" textLength="4.20" lengthAdjust="spacingAndGlyphs">0</text>
<line x1="55.30" y1="370.70" x2="55.30" y2="373.60" stroke="#1a1a1a" stroke-width="1.0"/>
<text x="55.30" y="384.70" font-size="7.9" text-anchor="middle" textLength="4.10" lengthAdjust="spacingAndGlyphs">0</text>
<line x1="106.03" y1="370.70" x2="106.03" y2="373.60" stroke="#1a1a1a" stroke-width="1.0"/>
<text x="106.03" y="384.70" font-size="7.9" text-anchor="middle" textLength="18.00" lengthAdjust="spacingAndGlyphs">5000</text>
<line x1="156.77" y1="370.70" x2="156.77" y2="373.60" stroke="#1a1a1a" stroke-width="1.0"/>
<text x="156.77" y="384.70" font-size="7.9" text-anchor="middle" textLength="23.80" lengthAdjust="spacingAndGlyphs">10 000</text>
<line x1="207.50" y1="370.70" x2="207.50" y2="373.60" stroke="#1a1a1a" stroke-width="1.0"/>
<text x="207.50" y="384.70" font-size="7.9" text-anchor="middle" textLength="24.30" lengthAdjust="spacingAndGlyphs">15 000</text>
<text x="115.90" y="398.80" font-size="10.6" textLength="33.90" lengthAdjust="spacingAndGlyphs">CD5 MFI</text>
<text x="0.00" y="0.00" font-size="10.8" textLength="44.60" lengthAdjust="spacingAndGlyphs" transform="translate(15.2,336.4) rotate(-90)">CXCR4 MFI</text>
<text x="208.10" y="251.00" font-size="6.9" text-anchor="end" textLength="40.20" lengthAdjust="spacingAndGlyphs">r = −0.6256</text>
<text x="208.1" y="265.9" font-size="6.9" text-anchor="end" textLength="39.1" lengthAdjust="spacingAndGlyphs" fill="#231f20">r<tspan font-size="4.6" dy="-2.8">2</tspan><tspan dy="2.8"> = 0.3913</tspan></text>
<text x="208.1" y="277.5" font-size="6.9" text-anchor="end" textLength="33.3" lengthAdjust="spacingAndGlyphs" fill="#231f20"><tspan font-style="italic">P</tspan> = .0095</text>
<ellipse cx="211.3" cy="295.2" rx="2.7" ry="3.3" fill="#fff" stroke="#111" stroke-width="1.1"/>
<text x="217.40" y="298.40" font-size="9.0" textLength="37.40" lengthAdjust="spacingAndGlyphs">Circulating</text>
<rect x="209.5" y="311.6" width="4.9" height="7.2" fill="#fff" stroke="#111" stroke-width="1.0"/>
<text x="217.70" y="318.00" font-size="9.0" textLength="30.30" lengthAdjust="spacingAndGlyphs">Migrated</text>
<line x1="70.40" y1="292.60" x2="84.40" y2="313.90" stroke="#000" stroke-width="1.5" stroke-dasharray="2.1,1.4"/>
<line x1="80.30" y1="293.20" x2="91.70" y2="318.00" stroke="#000" stroke-width="1.5" stroke-dasharray="2.1,1.4"/>
<line x1="122.40" y1="305.60" x2="133.50" y2="350.80" stroke="#000" stroke-width="1.5" stroke-dasharray="2.1,1.4"/>
<line x1="131.50" y1="316.30" x2="139.00" y2="327.00" stroke="#000" stroke-width="1.5" stroke-dasharray="2.1,1.4"/>
<line x1="149.40" y1="323.80" x2="154.20" y2="332.40" stroke="#000" stroke-width="1.5" stroke-dasharray="2.1,1.4"/>
<line x1="143.20" y1="330.80" x2="160.90" y2="336.50" stroke="#000" stroke-width="1.5" stroke-dasharray="2.1,1.4"/>
<line x1="165.60" y1="312.30" x2="191.40" y2="340.50" stroke="#000" stroke-width="1.5" stroke-dasharray="2.1,1.4"/>
<line x1="157.80" y1="318.00" x2="184.40" y2="347.20" stroke="#000" stroke-width="1.5" stroke-dasharray="2.1,1.4"/>
<rect x="76.50" y="309.50" width="8.8" height="8.8" fill="#3a5688" stroke="#000" stroke-width="1.15"/>
<rect x="82.40" y="313.60" width="8.8" height="8.8" fill="#c7cd97" stroke="#000" stroke-width="1.15"/>
<rect x="130.40" y="357.00" width="8.8" height="8.8" fill="#d4127c" stroke="#000" stroke-width="1.15"/>
<rect x="134.60" y="326.80" width="8.8" height="8.8" fill="#6cb250" stroke="#000" stroke-width="1.15"/>
<rect x="149.80" y="327.90" width="8.8" height="8.8" fill="#5c2e7e" stroke="#000" stroke-width="1.15"/>
<rect x="156.50" y="332.10" width="8.8" height="8.8" fill="#f1c07e" stroke="#000" stroke-width="1.15"/>
<rect x="187.00" y="336.10" width="8.8" height="8.8" fill="#7fb6e6" stroke="#000" stroke-width="1.15"/>
<rect x="183.80" y="342.80" width="8.8" height="8.8" fill="#000000" stroke="#000" stroke-width="1.15"/>
<ellipse cx="73.70" cy="292.60" rx="4.9" ry="3.5" fill="#3a5688" stroke="#000" stroke-width="1.2"/>
<ellipse cx="82.40" cy="293.20" rx="4.9" ry="3.5" fill="#c7cd97" stroke="#000" stroke-width="1.2"/>
<ellipse cx="126.00" cy="305.60" rx="4.9" ry="3.5" fill="#d4127c" stroke="#000" stroke-width="1.2"/>
<ellipse cx="136.50" cy="316.30" rx="4.9" ry="3.5" fill="#6cb250" stroke="#000" stroke-width="1.2"/>
<ellipse cx="149.40" cy="324.30" rx="4.9" ry="3.5" fill="#5c2e7e" stroke="#000" stroke-width="1.2"/>
<ellipse cx="143.00" cy="330.50" rx="4.9" ry="3.5" fill="#f1c07e" stroke="#000" stroke-width="1.2"/>
<ellipse cx="165.60" cy="312.30" rx="4.9" ry="3.5" fill="#7fb6e6" stroke="#000" stroke-width="1.2"/>
<ellipse cx="161.70" cy="318.00" rx="4.9" ry="3.5" fill="#000000" stroke="#000" stroke-width="1.2"/>
<line x1="319.00" y1="256.90" x2="319.00" y2="371.40" stroke="#1a1a1a" stroke-width="1.3"/>
<line x1="318.35" y1="370.90" x2="474.00" y2="370.90" stroke="#1a1a1a" stroke-width="1.3"/>
<line x1="315.90" y1="259.20" x2="319.00" y2="259.20" stroke="#1a1a1a" stroke-width="1.0"/>
<text x="312.20" y="261.95" font-size="7.8" text-anchor="end" textLength="24.20" lengthAdjust="spacingAndGlyphs">80 000</text>
<line x1="315.90" y1="287.07" x2="319.00" y2="287.07" stroke="#1a1a1a" stroke-width="1.0"/>
<text x="312.20" y="289.82" font-size="7.8" text-anchor="end" textLength="24.20" lengthAdjust="spacingAndGlyphs">60 000</text>
<line x1="315.90" y1="314.95" x2="319.00" y2="314.95" stroke="#1a1a1a" stroke-width="1.0"/>
<text x="312.20" y="317.70" font-size="7.8" text-anchor="end" textLength="24.20" lengthAdjust="spacingAndGlyphs">40 000</text>
<line x1="315.90" y1="342.82" x2="319.00" y2="342.82" stroke="#1a1a1a" stroke-width="1.0"/>
<text x="312.20" y="345.57" font-size="7.8" text-anchor="end" textLength="24.20" lengthAdjust="spacingAndGlyphs">20 000</text>
<line x1="315.90" y1="370.70" x2="319.00" y2="370.70" stroke="#1a1a1a" stroke-width="1.0"/>
<text x="312.20" y="373.45" font-size="7.8" text-anchor="end" textLength="4.10" lengthAdjust="spacingAndGlyphs">0</text>
<line x1="319.00" y1="370.90" x2="319.00" y2="373.80" stroke="#1a1a1a" stroke-width="1.0"/>
<text x="319.00" y="384.70" font-size="7.9" text-anchor="middle" textLength="4.10" lengthAdjust="spacingAndGlyphs">0</text>
<line x1="349.29" y1="370.90" x2="349.29" y2="373.80" stroke="#1a1a1a" stroke-width="1.0"/>
<text x="349.29" y="384.70" font-size="7.9" text-anchor="middle" textLength="18.30" lengthAdjust="spacingAndGlyphs">5000</text>
<line x1="379.58" y1="370.90" x2="379.58" y2="373.80" stroke="#1a1a1a" stroke-width="1.0"/>
<text x="379.58" y="384.70" font-size="7.9" text-anchor="middle" textLength="23.60" lengthAdjust="spacingAndGlyphs">10 000</text>
<line x1="409.87" y1="370.90" x2="409.87" y2="373.80" stroke="#1a1a1a" stroke-width="1.0"/>
<text x="409.87" y="384.70" font-size="7.9" text-anchor="middle" textLength="23.60" lengthAdjust="spacingAndGlyphs">15 000</text>
<line x1="440.16" y1="370.90" x2="440.16" y2="373.80" stroke="#1a1a1a" stroke-width="1.0"/>
<text x="440.16" y="384.70" font-size="7.9" text-anchor="middle" textLength="23.60" lengthAdjust="spacingAndGlyphs">20 000</text>
<line x1="470.45" y1="370.90" x2="470.45" y2="373.80" stroke="#1a1a1a" stroke-width="1.0"/>
<text x="470.45" y="384.70" font-size="7.9" text-anchor="middle" textLength="23.60" lengthAdjust="spacingAndGlyphs">25 000</text>
<text x="379.60" y="398.80" font-size="10.6" textLength="33.90" lengthAdjust="spacingAndGlyphs">CD5 MFI</text>
<text x="0.00" y="0.00" font-size="10.8" textLength="45.30" lengthAdjust="spacingAndGlyphs" transform="translate(283.1,336.5) rotate(-90)">CXCR4 MFI</text>
<text x="486.80" y="256.40" font-size="6.9" text-anchor="end" textLength="39.40" lengthAdjust="spacingAndGlyphs">r = −0.5757</text>
<text x="486.8" y="271.4" font-size="6.9" text-anchor="end" textLength="38.1" lengthAdjust="spacingAndGlyphs" fill="#231f20">r<tspan font-size="4.6" dy="-2.8">2</tspan><tspan dy="2.8"> = 0.3314</tspan></text>
<text x="486.8" y="283.2" font-size="6.9" text-anchor="end" textLength="32.7" lengthAdjust="spacingAndGlyphs" fill="#231f20"><tspan font-style="italic">P</tspan> = .0051</text>
<ellipse cx="462.5" cy="300.7" rx="3.2" ry="3.7" fill="#fff" stroke="#111" stroke-width="1.2"/>
<text x="469.60" y="303.60" font-size="8.0" textLength="10.10" lengthAdjust="spacingAndGlyphs">PB</text>
<rect x="460.3" y="321.0" width="5.2" height="9.3" fill="#fff" stroke="#111" stroke-width="1.1"/>
<text x="469.10" y="328.40" font-size="8.0" textLength="10.10" lengthAdjust="spacingAndGlyphs">LN</text>
<line x1="320.30" y1="278.80" x2="331.40" y2="308.70" stroke="#000" stroke-width="1.5" stroke-dasharray="2.1,1.4"/>
<line x1="329.40" y1="314.20" x2="363.70" y2="331.40" stroke="#000" stroke-width="1.5" stroke-dasharray="2.1,1.4"/>
<line x1="353.20" y1="310.30" x2="366.70" y2="326.90" stroke="#000" stroke-width="1.5" stroke-dasharray="2.1,1.4"/>
<line x1="377.60" y1="286.90" x2="388.50" y2="339.10" stroke="#000" stroke-width="1.5" stroke-dasharray="2.1,1.4"/>
<line x1="371.30" y1="294.50" x2="377.90" y2="334.00" stroke="#000" stroke-width="1.5" stroke-dasharray="2.1,1.4"/>
<line x1="348.80" y1="338.20" x2="360.60" y2="342.00" stroke="#000" stroke-width="1.5" stroke-dasharray="2.1,1.4"/>
<line x1="360.60" y1="346.50" x2="450.40" y2="360.10" stroke="#000" stroke-width="1.5" stroke-dasharray="2.1,1.4"/>
<line x1="401.70" y1="333.90" x2="441.90" y2="357.50" stroke="#000" stroke-width="1.5" stroke-dasharray="2.1,1.4"/>
<line x1="409.20" y1="327.50" x2="419.70" y2="342.70" stroke="#000" stroke-width="1.5" stroke-dasharray="2.1,1.4"/>
<line x1="419.10" y1="328.00" x2="430.70" y2="343.30" stroke="#000" stroke-width="1.5" stroke-dasharray="2.1,1.4"/>
<line x1="399.50" y1="361.50" x2="410.30" y2="365.60" stroke="#000" stroke-width="1.5" stroke-dasharray="2.1,1.4"/>
<rect x="325.50" y="304.30" width="8.8" height="8.8" fill="#f1c07e" stroke="#000" stroke-width="1.15"/>
<rect x="366.60" y="322.20" width="8.8" height="8.8" fill="#5c2e7e" stroke="#000" stroke-width="1.15"/>
<rect x="372.40" y="329.60" width="8.8" height="8.8" fill="#000000" stroke="#000" stroke-width="1.15"/>
<rect x="359.30" y="329.60" width="8.8" height="8.8" fill="#c9153a" stroke="#000" stroke-width="1.15"/>
<rect x="383.00" y="334.70" width="8.8" height="8.8" fill="#c7cd97" stroke="#000" stroke-width="1.15"/>
<rect x="356.20" y="337.60" width="8.8" height="8.8" fill="#3c7560" stroke="#000" stroke-width="1.15"/>
<rect x="437.50" y="348.80" width="8.8" height="8.8" fill="#7fb6e6" stroke="#000" stroke-width="1.15"/>
<rect x="446.00" y="354.80" width="8.8" height="8.8" fill="#36568f" stroke="#000" stroke-width="1.15"/>
<rect x="412.70" y="338.30" width="8.8" height="8.8" fill="#d4127c" stroke="#000" stroke-width="1.15"/>
<rect x="422.10" y="338.90" width="8.8" height="8.8" fill="#6cb250" stroke="#000" stroke-width="1.15"/>
<rect x="405.90" y="361.20" width="8.8" height="8.8" fill="#ffffff" stroke="#000" stroke-width="1.15"/>
<ellipse cx="321.60" cy="278.80" rx="5.2" ry="3.5" fill="#f1c07e" stroke="#000" stroke-width="1.2"/>
<ellipse cx="329.40" cy="317.10" rx="5.2" ry="3.5" fill="#c9153a" stroke="#000" stroke-width="1.2"/>
<ellipse cx="353.20" cy="310.30" rx="5.2" ry="3.5" fill="#5c2e7e" stroke="#000" stroke-width="1.2"/>
<ellipse cx="374.60" cy="286.90" rx="5.2" ry="3.5" fill="#c7cd97" stroke="#000" stroke-width="1.2"/>
<ellipse cx="372.40" cy="294.50" rx="5.2" ry="3.5" fill="#000000" stroke="#000" stroke-width="1.2"/>
<ellipse cx="348.80" cy="338.20" rx="5.2" ry="3.5" fill="#3c7560" stroke="#000" stroke-width="1.2"/>
<ellipse cx="360.60" cy="348.10" rx="5.2" ry="3.5" fill="#36568f" stroke="#000" stroke-width="1.2"/>
<ellipse cx="401.70" cy="328.80" rx="5.2" ry="3.5" fill="#7fb6e6" stroke="#000" stroke-width="1.2"/>
<ellipse cx="410.90" cy="326.40" rx="5.2" ry="3.5" fill="#d4127c" stroke="#000" stroke-width="1.2"/>
<ellipse cx="419.30" cy="326.60" rx="5.2" ry="3.5" fill="#6cb250" stroke="#000" stroke-width="1.2"/>
<ellipse cx="399.50" cy="361.50" rx="5.2" ry="3.5" fill="#ffffff" stroke="#000" stroke-width="1.2"/>
<line x1="46.50" y1="432.60" x2="46.50" y2="558.40" stroke="#1a1a1a" stroke-width="1.3"/>
<line x1="45.85" y1="557.90" x2="233.50" y2="557.90" stroke="#1a1a1a" stroke-width="1.3"/>
<line x1="43.40" y1="435.50" x2="46.50" y2="435.50" stroke="#1a1a1a" stroke-width="1.0"/>
<text x="40.40" y="438.25" font-size="7.8" text-anchor="end" textLength="18.50" lengthAdjust="spacingAndGlyphs">4000</text>
<line x1="43.40" y1="466.05" x2="46.50" y2="466.05" stroke="#1a1a1a" stroke-width="1.0"/>
<text x="40.40" y="468.80" font-size="7.8" text-anchor="end" textLength="18.50" lengthAdjust="spacingAndGlyphs">3000</text>
<line x1="43.40" y1="496.60" x2="46.50" y2="496.60" stroke="#1a1a1a" stroke-width="1.0"/>
<text x="40.40" y="499.35" font-size="7.8" text-anchor="end" textLength="18.50" lengthAdjust="spacingAndGlyphs">2000</text>
<line x1="43.40" y1="527.15" x2="46.50" y2="527.15" stroke="#1a1a1a" stroke-width="1.0"/>
<text x="40.40" y="529.90" font-size="7.8" text-anchor="end" textLength="18.50" lengthAdjust="spacingAndGlyphs">1000</text>
<line x1="43.40" y1="557.70" x2="46.50" y2="557.70" stroke="#1a1a1a" stroke-width="1.0"/>
<text x="40.40" y="560.45" font-size="7.8" text-anchor="end" textLength="4.10" lengthAdjust="spacingAndGlyphs">0</text>
<line x1="46.50" y1="557.90" x2="46.50" y2="560.80" stroke="#1a1a1a" stroke-width="1.0"/>
<text x="46.50" y="571.90" font-size="7.8" text-anchor="middle" textLength="4.10" lengthAdjust="spacingAndGlyphs">0</text>
<line x1="107.84" y1="557.90" x2="107.84" y2="560.80" stroke="#1a1a1a" stroke-width="1.0"/>
<text x="107.84" y="571.90" font-size="7.8" text-anchor="middle" textLength="18.60" lengthAdjust="spacingAndGlyphs">5000</text>
<line x1="169.17" y1="557.90" x2="169.17" y2="560.80" stroke="#1a1a1a" stroke-width="1.0"/>
<text x="169.17" y="571.90" font-size="7.8" text-anchor="middle" textLength="24.80" lengthAdjust="spacingAndGlyphs">10 000</text>
<line x1="230.50" y1="557.90" x2="230.50" y2="560.80" stroke="#1a1a1a" stroke-width="1.0"/>
<text x="230.50" y="571.90" font-size="7.8" text-anchor="middle" textLength="24.80" lengthAdjust="spacingAndGlyphs">15 000</text>
<text x="121.70" y="585.90" font-size="10.6" textLength="34.00" lengthAdjust="spacingAndGlyphs">CD5 MFI</text>
<text x="0.00" y="0.00" font-size="10.4" textLength="43.80" lengthAdjust="spacingAndGlyphs" transform="translate(15.6,516.9) rotate(-90)">CD49d MFI</text>
<text x="237.50" y="434.80" font-size="6.9" text-anchor="end" textLength="34.60" lengthAdjust="spacingAndGlyphs">r = 0.5907</text>
<text x="237.5" y="449.6" font-size="6.9" text-anchor="end" textLength="37.7" lengthAdjust="spacingAndGlyphs" fill="#231f20">r<tspan font-size="4.6" dy="-2.8">2</tspan><tspan dy="2.8"> = 0.3489</tspan></text>
<text x="237.5" y="461.2" font-size="6.9" text-anchor="end" textLength="28.6" lengthAdjust="spacingAndGlyphs" fill="#231f20"><tspan font-style="italic">P</tspan> = .016</text>
<circle cx="82.1" cy="515.8" r="2.2" fill="#000"/>
<circle cx="79.2" cy="533.7" r="2.2" fill="#000"/>
<circle cx="81.9" cy="538.5" r="2.2" fill="#000"/>
<circle cx="81.5" cy="547.7" r="2.2" fill="#000"/>
<circle cx="134.4" cy="548.1" r="2.2" fill="#000"/>
<circle cx="143.7" cy="542.7" r="2.2" fill="#000"/>
<circle cx="144.0" cy="544.6" r="2.2" fill="#000"/>
<circle cx="147.9" cy="528.3" r="2.2" fill="#000"/>
<circle cx="150.8" cy="515.4" r="2.2" fill="#000"/>
<circle cx="161.8" cy="525.7" r="2.2" fill="#000"/>
<circle cx="163.8" cy="520.1" r="2.2" fill="#000"/>
<circle cx="173.1" cy="468.3" r="2.2" fill="#000"/>
<circle cx="177.3" cy="481.0" r="2.2" fill="#000"/>
<circle cx="181.3" cy="507.7" r="2.2" fill="#000"/>
<circle cx="210.2" cy="489.3" r="2.2" fill="#000"/>
<circle cx="212.5" cy="513.7" r="2.2" fill="#000"/>
<line x1="319.20" y1="434.30" x2="319.20" y2="558.40" stroke="#1a1a1a" stroke-width="1.3"/>
<line x1="318.55" y1="557.80" x2="503.00" y2="557.80" stroke="#1a1a1a" stroke-width="1.3"/>
<line x1="316.10" y1="437.70" x2="319.20" y2="437.70" stroke="#1a1a1a" stroke-width="1.0"/>
<text x="311.40" y="440.45" font-size="7.8" text-anchor="end" textLength="17.00" lengthAdjust="spacingAndGlyphs">2000</text>
<line x1="316.10" y1="467.72" x2="319.20" y2="467.72" stroke="#1a1a1a" stroke-width="1.0"/>
<text x="311.40" y="470.47" font-size="7.8" text-anchor="end" textLength="16.50" lengthAdjust="spacingAndGlyphs">1500</text>
<line x1="316.10" y1="497.75" x2="319.20" y2="497.75" stroke="#1a1a1a" stroke-width="1.0"/>
<text x="311.40" y="500.50" font-size="7.8" text-anchor="end" textLength="16.50" lengthAdjust="spacingAndGlyphs">1000</text>
<line x1="316.10" y1="527.77" x2="319.20" y2="527.77" stroke="#1a1a1a" stroke-width="1.0"/>
<text x="311.40" y="530.52" font-size="7.8" text-anchor="end" textLength="12.00" lengthAdjust="spacingAndGlyphs">500</text>
<line x1="316.10" y1="557.80" x2="319.20" y2="557.80" stroke="#1a1a1a" stroke-width="1.0"/>
<text x="311.40" y="560.55" font-size="7.8" text-anchor="end" textLength="4.10" lengthAdjust="spacingAndGlyphs">0</text>
<line x1="319.20" y1="557.80" x2="319.20" y2="560.70" stroke="#1a1a1a" stroke-width="1.0"/>
<text x="319.20" y="571.90" font-size="7.8" text-anchor="middle" textLength="4.10" lengthAdjust="spacingAndGlyphs">0</text>
<line x1="355.43" y1="557.80" x2="355.43" y2="560.70" stroke="#1a1a1a" stroke-width="1.0"/>
<text x="355.43" y="571.90" font-size="7.8" text-anchor="middle" textLength="18.60" lengthAdjust="spacingAndGlyphs">5000</text>
<line x1="391.65" y1="557.80" x2="391.65" y2="560.70" stroke="#1a1a1a" stroke-width="1.0"/>
<text x="391.65" y="571.90" font-size="7.8" text-anchor="middle" textLength="24.80" lengthAdjust="spacingAndGlyphs">10 000</text>
<line x1="427.88" y1="557.80" x2="427.88" y2="560.70" stroke="#1a1a1a" stroke-width="1.0"/>
<text x="427.88" y="571.90" font-size="7.8" text-anchor="middle" textLength="24.80" lengthAdjust="spacingAndGlyphs">15 000</text>
<line x1="464.10" y1="557.80" x2="464.10" y2="560.70" stroke="#1a1a1a" stroke-width="1.0"/>
<text x="464.10" y="571.90" font-size="7.8" text-anchor="middle" textLength="24.80" lengthAdjust="spacingAndGlyphs">20 000</text>
<line x1="500.32" y1="557.80" x2="500.32" y2="560.70" stroke="#1a1a1a" stroke-width="1.0"/>
<text x="500.32" y="571.90" font-size="7.8" text-anchor="middle" textLength="24.80" lengthAdjust="spacingAndGlyphs">25 000</text>
<text x="386.90" y="586.00" font-size="10.6" textLength="33.50" lengthAdjust="spacingAndGlyphs">CD5 MFI</text>
<text x="0.00" y="0.00" font-size="10.4" textLength="43.50" lengthAdjust="spacingAndGlyphs" transform="translate(288.3,517.7) rotate(-90)">CD49d MFI</text>
<text x="503.20" y="430.90" font-size="6.9" text-anchor="end" textLength="35.70" lengthAdjust="spacingAndGlyphs">r = 0.4759</text>
<text x="503.2" y="446.0" font-size="6.9" text-anchor="end" textLength="38.4" lengthAdjust="spacingAndGlyphs" fill="#231f20">r<tspan font-size="4.6" dy="-2.8">2</tspan><tspan dy="2.8"> = 0.2265</tspan></text>
<text x="503.2" y="457.8" font-size="6.9" text-anchor="end" textLength="33.0" lengthAdjust="spacingAndGlyphs" fill="#231f20"><tspan font-style="italic">P</tspan> = .0252</text>
<circle cx="325.0" cy="549.6" r="2.2" fill="#000"/>
<circle cx="333.1" cy="538.7" r="2.2" fill="#000"/>
<circle cx="333.7" cy="548.7" r="2.2" fill="#000"/>
<circle cx="358.1" cy="524.2" r="2.2" fill="#000"/>
<circle cx="358.7" cy="554.6" r="2.2" fill="#000"/>
<circle cx="370.2" cy="469.2" r="2.2" fill="#000"/>
<circle cx="369.4" cy="539.2" r="2.2" fill="#000"/>
<circle cx="379.4" cy="533.5" r="2.2" fill="#000"/>
<circle cx="374.0" cy="551.9" r="2.2" fill="#000"/>
<circle cx="387.7" cy="542.7" r="2.2" fill="#000"/>
<circle cx="385.6" cy="551.0" r="2.2" fill="#000"/>
<circle cx="400.0" cy="518.7" r="2.2" fill="#000"/>
<circle cx="418.3" cy="507.5" r="2.2" fill="#000"/>
<circle cx="428.7" cy="549.8" r="2.2" fill="#000"/>
<circle cx="419.6" cy="555.9" r="2.2" fill="#000"/>
<circle cx="431.0" cy="512.9" r="2.2" fill="#000"/>
<circle cx="438.3" cy="494.2" r="2.2" fill="#000"/>
<circle cx="438.3" cy="512.9" r="2.2" fill="#000"/>
<circle cx="446.0" cy="473.5" r="2.2" fill="#000"/>
<circle cx="465.8" cy="487.9" r="2.2" fill="#000"/>
<circle cx="475.4" cy="528.8" r="2.2" fill="#000"/>
<rect x="0.6" y="0.6" width="518.8" height="591.8" fill="none" stroke="#111" stroke-width="1.4"/>
</svg>
</body></html>
